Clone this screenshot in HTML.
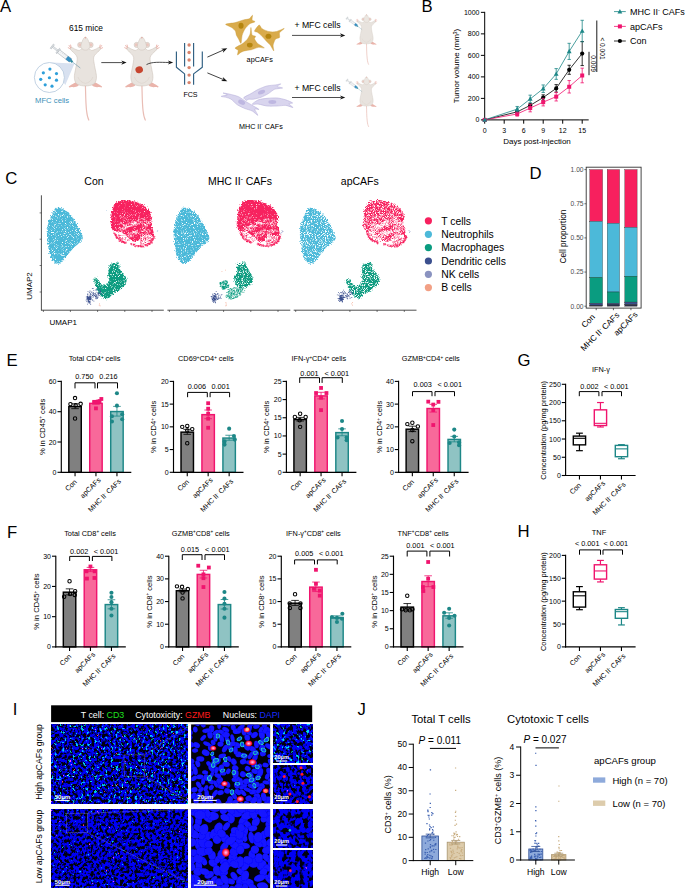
<!DOCTYPE html>
<html><head><meta charset="utf-8"><title>Figure</title>
<style>html,body{margin:0;padding:0;background:#fff}svg{display:block}text{font-family:"Liberation Sans",sans-serif}</style></head>
<body>
<svg width="685" height="888" viewBox="0 0 685 888">
<text x="0" y="12.1" font-size="16.7" text-anchor="start" fill="#000">A</text>
<text x="421.4" y="12.1" font-size="16.7" text-anchor="start" fill="#000">B</text>
<text x="5.3" y="183.6" font-size="16.7" text-anchor="start" fill="#000">C</text>
<text x="529.6" y="179.1" font-size="16.7" text-anchor="start" fill="#000">D</text>
<text x="6.4" y="366.2" font-size="16.7" text-anchor="start" fill="#000">E</text>
<text x="517.6" y="365.6" font-size="16.7" text-anchor="start" fill="#000">G</text>
<text x="6.9" y="537.8" font-size="16.7" text-anchor="start" fill="#000">F</text>
<text x="517.5" y="536.7" font-size="16.7" text-anchor="start" fill="#000">H</text>
<text x="12.8" y="714.7" font-size="16.7" text-anchor="start" fill="#000">I</text>
<text x="357.6" y="714.8" font-size="16.7" text-anchor="start" fill="#000">J</text>
<line x1="484.7" y1="11.85" x2="484.7" y2="120.4" stroke="#000" stroke-width="1"/>
<line x1="484.2" y1="119.9" x2="588.7" y2="119.9" stroke="#000" stroke-width="1"/>
<line x1="480.9" y1="119.9" x2="484.7" y2="119.9" stroke="#000" stroke-width="1"/>
<text x="479.5" y="122.4" font-size="7" text-anchor="end" fill="#000">0</text>
<line x1="480.9" y1="98.39" x2="484.7" y2="98.39" stroke="#000" stroke-width="1"/>
<text x="479.5" y="100.89" font-size="7" text-anchor="end" fill="#000">200</text>
<line x1="480.9" y1="76.88" x2="484.7" y2="76.88" stroke="#000" stroke-width="1"/>
<text x="479.5" y="79.38" font-size="7" text-anchor="end" fill="#000">400</text>
<line x1="480.9" y1="55.37" x2="484.7" y2="55.37" stroke="#000" stroke-width="1"/>
<text x="479.5" y="57.87" font-size="7" text-anchor="end" fill="#000">600</text>
<line x1="480.9" y1="33.86" x2="484.7" y2="33.86" stroke="#000" stroke-width="1"/>
<text x="479.5" y="36.36" font-size="7" text-anchor="end" fill="#000">800</text>
<line x1="480.9" y1="12.35" x2="484.7" y2="12.35" stroke="#000" stroke-width="1"/>
<text x="479.5" y="14.85" font-size="7" text-anchor="end" fill="#000">1000</text>
<line x1="484.7" y1="119.9" x2="484.7" y2="123.7" stroke="#000" stroke-width="1"/>
<text x="484.7" y="132.5" font-size="7" text-anchor="middle" fill="#000">0</text>
<line x1="504.2" y1="119.9" x2="504.2" y2="123.7" stroke="#000" stroke-width="1"/>
<text x="504.2" y="132.5" font-size="7" text-anchor="middle" fill="#000">3</text>
<line x1="523.7" y1="119.9" x2="523.7" y2="123.7" stroke="#000" stroke-width="1"/>
<text x="523.7" y="132.5" font-size="7" text-anchor="middle" fill="#000">6</text>
<line x1="543.2" y1="119.9" x2="543.2" y2="123.7" stroke="#000" stroke-width="1"/>
<text x="543.2" y="132.5" font-size="7" text-anchor="middle" fill="#000">9</text>
<line x1="562.7" y1="119.9" x2="562.7" y2="123.7" stroke="#000" stroke-width="1"/>
<text x="562.7" y="132.5" font-size="7" text-anchor="middle" fill="#000">12</text>
<line x1="582.2" y1="119.9" x2="582.2" y2="123.7" stroke="#000" stroke-width="1"/>
<text x="582.2" y="132.5" font-size="7" text-anchor="middle" fill="#000">15</text>
<text x="537" y="144.4" font-size="8" text-anchor="middle" fill="#000">Days post-injection</text>
<text x="459.3" y="66" font-size="8" text-anchor="middle" fill="#000" transform="rotate(-90 459.3 66)">Tumor volume (mm<tspan dy="-2.64" font-size="4.96">3</tspan><tspan dy="2.64">)</tspan></text>
<line x1="517.2" y1="113.12" x2="517.2" y2="110.54" stroke="#000" stroke-width="0.8"/>
<line x1="515.5" y1="110.54" x2="518.9" y2="110.54" stroke="#000" stroke-width="0.8"/>
<line x1="515.5" y1="113.12" x2="518.9" y2="113.12" stroke="#000" stroke-width="0.8"/>
<line x1="530.2" y1="106.99" x2="530.2" y2="103.77" stroke="#000" stroke-width="0.8"/>
<line x1="528.5" y1="103.77" x2="531.9" y2="103.77" stroke="#000" stroke-width="0.8"/>
<line x1="528.5" y1="106.99" x2="531.9" y2="106.99" stroke="#000" stroke-width="0.8"/>
<line x1="543.2" y1="100.22" x2="543.2" y2="94.84" stroke="#000" stroke-width="0.8"/>
<line x1="541.5" y1="94.84" x2="544.9" y2="94.84" stroke="#000" stroke-width="0.8"/>
<line x1="541.5" y1="100.22" x2="544.9" y2="100.22" stroke="#000" stroke-width="0.8"/>
<line x1="556.2" y1="92.15" x2="556.2" y2="84.62" stroke="#000" stroke-width="0.8"/>
<line x1="554.5" y1="84.62" x2="557.9" y2="84.62" stroke="#000" stroke-width="0.8"/>
<line x1="554.5" y1="92.15" x2="557.9" y2="92.15" stroke="#000" stroke-width="0.8"/>
<line x1="569.2" y1="74.3" x2="569.2" y2="65.26" stroke="#000" stroke-width="0.8"/>
<line x1="567.5" y1="65.26" x2="570.9" y2="65.26" stroke="#000" stroke-width="0.8"/>
<line x1="567.5" y1="74.3" x2="570.9" y2="74.3" stroke="#000" stroke-width="0.8"/>
<line x1="582.2" y1="65.59" x2="582.2" y2="41.5" stroke="#000" stroke-width="0.8"/>
<line x1="580.5" y1="41.5" x2="583.9" y2="41.5" stroke="#000" stroke-width="0.8"/>
<line x1="580.5" y1="65.59" x2="583.9" y2="65.59" stroke="#000" stroke-width="0.8"/>
<polyline points="484.7,119.9 517.2,111.83 530.2,105.38 543.2,97.53 556.2,88.39 569.2,69.78 582.2,53.54" fill="none" stroke="#000" stroke-width="0.8"/>
<circle cx="484.7" cy="119.9" r="2.1" fill="#000" stroke="none" stroke-width="1"/>
<circle cx="517.2" cy="111.83" r="2.1" fill="#000" stroke="none" stroke-width="1"/>
<circle cx="530.2" cy="105.38" r="2.1" fill="#000" stroke="none" stroke-width="1"/>
<circle cx="543.2" cy="97.53" r="2.1" fill="#000" stroke="none" stroke-width="1"/>
<circle cx="556.2" cy="88.39" r="2.1" fill="#000" stroke="none" stroke-width="1"/>
<circle cx="569.2" cy="69.78" r="2.1" fill="#000" stroke="none" stroke-width="1"/>
<circle cx="582.2" cy="53.54" r="2.1" fill="#000" stroke="none" stroke-width="1"/>
<line x1="517.2" y1="116.14" x2="517.2" y2="111.83" stroke="#f0146e" stroke-width="0.8"/>
<line x1="515.5" y1="111.83" x2="518.9" y2="111.83" stroke="#f0146e" stroke-width="0.8"/>
<line x1="515.5" y1="116.14" x2="518.9" y2="116.14" stroke="#f0146e" stroke-width="0.8"/>
<line x1="530.2" y1="111.83" x2="530.2" y2="104.31" stroke="#f0146e" stroke-width="0.8"/>
<line x1="528.5" y1="104.31" x2="531.9" y2="104.31" stroke="#f0146e" stroke-width="0.8"/>
<line x1="528.5" y1="111.83" x2="531.9" y2="111.83" stroke="#f0146e" stroke-width="0.8"/>
<line x1="543.2" y1="105.92" x2="543.2" y2="98.39" stroke="#f0146e" stroke-width="0.8"/>
<line x1="541.5" y1="98.39" x2="544.9" y2="98.39" stroke="#f0146e" stroke-width="0.8"/>
<line x1="541.5" y1="105.92" x2="544.9" y2="105.92" stroke="#f0146e" stroke-width="0.8"/>
<line x1="556.2" y1="100.97" x2="556.2" y2="92.37" stroke="#f0146e" stroke-width="0.8"/>
<line x1="554.5" y1="92.37" x2="557.9" y2="92.37" stroke="#f0146e" stroke-width="0.8"/>
<line x1="554.5" y1="100.97" x2="557.9" y2="100.97" stroke="#f0146e" stroke-width="0.8"/>
<line x1="569.2" y1="93.01" x2="569.2" y2="80.54" stroke="#f0146e" stroke-width="0.8"/>
<line x1="567.5" y1="80.54" x2="570.9" y2="80.54" stroke="#f0146e" stroke-width="0.8"/>
<line x1="567.5" y1="93.01" x2="570.9" y2="93.01" stroke="#f0146e" stroke-width="0.8"/>
<line x1="582.2" y1="82.8" x2="582.2" y2="68.17" stroke="#f0146e" stroke-width="0.8"/>
<line x1="580.5" y1="68.17" x2="583.9" y2="68.17" stroke="#f0146e" stroke-width="0.8"/>
<line x1="580.5" y1="82.8" x2="583.9" y2="82.8" stroke="#f0146e" stroke-width="0.8"/>
<polyline points="484.7,119.9 517.2,113.98 530.2,108.07 543.2,102.15 556.2,96.67 569.2,86.77 582.2,75.48" fill="none" stroke="#f0146e" stroke-width="0.8"/>
<rect x="482.7" y="117.9" width="4" height="4" fill="#f0146e" stroke="none" stroke-width="1"/>
<rect x="515.2" y="111.98" width="4" height="4" fill="#f0146e" stroke="none" stroke-width="1"/>
<rect x="528.2" y="106.07" width="4" height="4" fill="#f0146e" stroke="none" stroke-width="1"/>
<rect x="541.2" y="100.15" width="4" height="4" fill="#f0146e" stroke="none" stroke-width="1"/>
<rect x="554.2" y="94.67" width="4" height="4" fill="#f0146e" stroke="none" stroke-width="1"/>
<rect x="567.2" y="84.77" width="4" height="4" fill="#f0146e" stroke="none" stroke-width="1"/>
<rect x="580.2" y="73.48" width="4" height="4" fill="#f0146e" stroke="none" stroke-width="1"/>
<line x1="517.2" y1="111.83" x2="517.2" y2="106.46" stroke="#1d8787" stroke-width="0.8"/>
<line x1="515.5" y1="106.46" x2="518.9" y2="106.46" stroke="#1d8787" stroke-width="0.8"/>
<line x1="515.5" y1="111.83" x2="518.9" y2="111.83" stroke="#1d8787" stroke-width="0.8"/>
<line x1="530.2" y1="102.69" x2="530.2" y2="95.16" stroke="#1d8787" stroke-width="0.8"/>
<line x1="528.5" y1="95.16" x2="531.9" y2="95.16" stroke="#1d8787" stroke-width="0.8"/>
<line x1="528.5" y1="102.69" x2="531.9" y2="102.69" stroke="#1d8787" stroke-width="0.8"/>
<line x1="543.2" y1="92.47" x2="543.2" y2="84.95" stroke="#1d8787" stroke-width="0.8"/>
<line x1="541.5" y1="84.95" x2="544.9" y2="84.95" stroke="#1d8787" stroke-width="0.8"/>
<line x1="541.5" y1="92.47" x2="544.9" y2="92.47" stroke="#1d8787" stroke-width="0.8"/>
<line x1="556.2" y1="79.35" x2="556.2" y2="68.6" stroke="#1d8787" stroke-width="0.8"/>
<line x1="554.5" y1="68.6" x2="557.9" y2="68.6" stroke="#1d8787" stroke-width="0.8"/>
<line x1="554.5" y1="79.35" x2="557.9" y2="79.35" stroke="#1d8787" stroke-width="0.8"/>
<line x1="569.2" y1="59.46" x2="569.2" y2="43.32" stroke="#1d8787" stroke-width="0.8"/>
<line x1="567.5" y1="43.32" x2="570.9" y2="43.32" stroke="#1d8787" stroke-width="0.8"/>
<line x1="567.5" y1="59.46" x2="570.9" y2="59.46" stroke="#1d8787" stroke-width="0.8"/>
<line x1="582.2" y1="41.82" x2="582.2" y2="20.31" stroke="#1d8787" stroke-width="0.8"/>
<line x1="580.5" y1="20.31" x2="583.9" y2="20.31" stroke="#1d8787" stroke-width="0.8"/>
<line x1="580.5" y1="41.82" x2="583.9" y2="41.82" stroke="#1d8787" stroke-width="0.8"/>
<polyline points="484.7,119.9 517.2,109.15 530.2,98.93 543.2,88.71 556.2,73.98 569.2,51.39 582.2,31.06" fill="none" stroke="#1d8787" stroke-width="0.8"/>
<path d="M484.7 117.3L487.1 121.7L482.3 121.7Z" fill="#1d8787" stroke="none" stroke-width="1"/>
<path d="M517.2 106.55L519.6 110.95L514.8 110.95Z" fill="#1d8787" stroke="none" stroke-width="1"/>
<path d="M530.2 96.33L532.6 100.73L527.8 100.73Z" fill="#1d8787" stroke="none" stroke-width="1"/>
<path d="M543.2 86.11L545.6 90.51L540.8 90.51Z" fill="#1d8787" stroke="none" stroke-width="1"/>
<path d="M556.2 71.38L558.6 75.78L553.8 75.78Z" fill="#1d8787" stroke="none" stroke-width="1"/>
<path d="M569.2 48.79L571.6 53.19L566.8 53.19Z" fill="#1d8787" stroke="none" stroke-width="1"/>
<path d="M582.2 28.46L584.6 32.86L579.8 32.86Z" fill="#1d8787" stroke="none" stroke-width="1"/>
<line x1="614" y1="11.6" x2="625.8" y2="11.6" stroke="#1d8787" stroke-width="0.8"/>
<path d="M619.9 9L622.3 13.4L617.5 13.4Z" fill="#1d8787" stroke="none" stroke-width="1"/>
<text x="630" y="14.8" font-size="9" text-anchor="start" fill="#000">MHC II<tspan dy="-2.97" font-size="5.58">-</tspan><tspan dy="2.97"> CAFs</tspan></text>
<line x1="614" y1="26.4" x2="625.8" y2="26.4" stroke="#f0146e" stroke-width="0.8"/>
<rect x="617.9" y="24.4" width="4" height="4" fill="#f0146e" stroke="none" stroke-width="1"/>
<text x="630" y="29.6" font-size="9" text-anchor="start" fill="#000">apCAFs</text>
<line x1="614" y1="41" x2="625.8" y2="41" stroke="#000" stroke-width="0.8"/>
<circle cx="619.9" cy="41" r="2.1" fill="#000" stroke="none" stroke-width="1"/>
<text x="630" y="44.2" font-size="9" text-anchor="start" fill="#000">Con</text>
<line x1="596.8" y1="20.5" x2="596.8" y2="72" stroke="#000" stroke-width="0.9"/>
<text x="600" y="48.5" font-size="6.6" text-anchor="middle" fill="#000" transform="rotate(90 600 48.5)">&lt; 0.001</text>
<line x1="589" y1="51.8" x2="589" y2="75.2" stroke="#000" stroke-width="0.9"/>
<text x="590.9" y="63.6" font-size="6.6" text-anchor="middle" fill="#000" transform="rotate(90 590.9 63.6)">0.009</text>
<rect x="68.82" y="406.55" width="12.45" height="65.75" fill="#808080" stroke="#000" stroke-width="1.45"/>
<line x1="75.05" y1="408.67" x2="75.05" y2="403.82" stroke="#000" stroke-width="0.8"/>
<line x1="71.25" y1="403.82" x2="78.85" y2="403.82" stroke="#000" stroke-width="0.8"/>
<line x1="71.25" y1="408.67" x2="78.85" y2="408.67" stroke="#000" stroke-width="0.8"/>
<rect x="89.72" y="403.36" width="12.45" height="68.94" fill="#f8699a" stroke="#f0146e" stroke-width="1.45"/>
<line x1="95.95" y1="404.28" x2="95.95" y2="401.85" stroke="#f0146e" stroke-width="0.8"/>
<line x1="92.15" y1="401.85" x2="99.75" y2="401.85" stroke="#f0146e" stroke-width="0.8"/>
<line x1="92.15" y1="404.28" x2="99.75" y2="404.28" stroke="#f0146e" stroke-width="0.8"/>
<rect x="110.72" y="411.55" width="12.45" height="60.75" fill="#8fc3c3" stroke="#1d8787" stroke-width="1.45"/>
<line x1="116.95" y1="416.09" x2="116.95" y2="406.4" stroke="#1d8787" stroke-width="0.8"/>
<line x1="113.15" y1="406.4" x2="120.75" y2="406.4" stroke="#1d8787" stroke-width="0.8"/>
<line x1="113.15" y1="416.09" x2="120.75" y2="416.09" stroke="#1d8787" stroke-width="0.8"/>
<circle cx="75.05" cy="398.06" r="1.7" fill="none" stroke="#000" stroke-width="1.05"/>
<circle cx="70.45" cy="404.12" r="1.7" fill="none" stroke="#000" stroke-width="1.05"/>
<circle cx="75.65" cy="405.34" r="1.7" fill="none" stroke="#000" stroke-width="1.05"/>
<circle cx="80.65" cy="403.82" r="1.7" fill="none" stroke="#000" stroke-width="1.05"/>
<circle cx="75.05" cy="418.52" r="1.7" fill="none" stroke="#000" stroke-width="1.05"/>
<rect x="99.45" y="397.07" width="3.8" height="3.8" fill="#f0146e" stroke="none" stroke-width="1"/>
<rect x="95.85" y="399.65" width="3.8" height="3.8" fill="#f0146e" stroke="none" stroke-width="1"/>
<rect x="92.25" y="399.95" width="3.8" height="3.8" fill="#f0146e" stroke="none" stroke-width="1"/>
<rect x="94.05" y="406.47" width="3.8" height="3.8" fill="#f0146e" stroke="none" stroke-width="1"/>
<rect x="97.65" y="399.19" width="3.8" height="3.8" fill="#f0146e" stroke="none" stroke-width="1"/>
<circle cx="116.95" cy="393.22" r="2.05" fill="#1d8787" stroke="none" stroke-width="1"/>
<circle cx="116.95" cy="405.64" r="2.05" fill="#1d8787" stroke="none" stroke-width="1"/>
<circle cx="111.95" cy="416.25" r="2.05" fill="#1d8787" stroke="none" stroke-width="1"/>
<circle cx="122.15" cy="414.28" r="2.05" fill="#1d8787" stroke="none" stroke-width="1"/>
<circle cx="111.95" cy="421.55" r="2.05" fill="#1d8787" stroke="none" stroke-width="1"/>
<circle cx="122.15" cy="419.27" r="2.05" fill="#1d8787" stroke="none" stroke-width="1"/>
<line x1="61.3" y1="380.85" x2="61.3" y2="472.85" stroke="#000" stroke-width="1.15"/>
<line x1="60.75" y1="472.3" x2="131.3" y2="472.3" stroke="#000" stroke-width="1.15"/>
<line x1="57.5" y1="472.3" x2="61.3" y2="472.3" stroke="#000" stroke-width="1.1"/>
<text x="56.5" y="474.8" font-size="7" text-anchor="end" fill="#000">0</text>
<line x1="57.5" y1="442" x2="61.3" y2="442" stroke="#000" stroke-width="1.1"/>
<text x="56.5" y="444.5" font-size="7" text-anchor="end" fill="#000">20</text>
<line x1="57.5" y1="411.7" x2="61.3" y2="411.7" stroke="#000" stroke-width="1.1"/>
<text x="56.5" y="414.2" font-size="7" text-anchor="end" fill="#000">40</text>
<line x1="57.5" y1="381.4" x2="61.3" y2="381.4" stroke="#000" stroke-width="1.1"/>
<text x="56.5" y="383.9" font-size="7" text-anchor="end" fill="#000">60</text>
<line x1="75.05" y1="472.3" x2="75.05" y2="476.3" stroke="#000" stroke-width="1.1"/>
<line x1="95.95" y1="472.3" x2="95.95" y2="476.3" stroke="#000" stroke-width="1.1"/>
<line x1="116.95" y1="472.3" x2="116.95" y2="476.3" stroke="#000" stroke-width="1.1"/>
<text x="77.25" y="482.4" font-size="7.1" text-anchor="end" fill="#000" transform="rotate(-45 77.25 482.4)">Con</text>
<text x="101.15" y="480.5" font-size="7.1" text-anchor="end" fill="#000" transform="rotate(-45 101.15 480.5)">apCAFs</text>
<text x="121.65" y="481.8" font-size="7.1" text-anchor="end" fill="#000" transform="rotate(-45 121.65 481.8)">MHC II<tspan dy="-2.34" font-size="4.4">-</tspan><tspan dy="2.34"> CAFs</tspan></text>
<text x="94.5" y="361.3" font-size="7.35" text-anchor="middle" fill="#000">Total CD4<tspan dy="-2.43" font-size="4.56">+</tspan><tspan dy="2.43"> cells</tspan></text>
<text x="44.8" y="426.85" font-size="7.6" text-anchor="middle" fill="#000" transform="rotate(-90 44.8 426.85)">% in CD45<tspan dy="-2.51" font-size="4.71">+</tspan><tspan dy="2.51"> cells</tspan></text>
<path d="M75 388.4V382.8H95V388.4" fill="none" stroke="#000" stroke-width="1"/>
<path d="M97.5 388.4V382.8H117.5V388.4" fill="none" stroke="#000" stroke-width="1"/>
<text x="84.4" y="378.7" font-size="7.3" text-anchor="middle" fill="#000">0.750</text>
<text x="108.5" y="378.7" font-size="7.3" text-anchor="middle" fill="#000">0.216</text>
<rect x="181.02" y="432.15" width="12.45" height="40.15" fill="#808080" stroke="#000" stroke-width="1.45"/>
<line x1="187.25" y1="434.35" x2="187.25" y2="429.35" stroke="#000" stroke-width="0.8"/>
<line x1="183.45" y1="429.35" x2="191.05" y2="429.35" stroke="#000" stroke-width="0.8"/>
<line x1="183.45" y1="434.35" x2="191.05" y2="434.35" stroke="#000" stroke-width="0.8"/>
<rect x="201.92" y="414.65" width="12.45" height="57.65" fill="#f8699a" stroke="#f0146e" stroke-width="1.45"/>
<line x1="208.15" y1="418.67" x2="208.15" y2="410.03" stroke="#f0146e" stroke-width="0.8"/>
<line x1="204.35" y1="410.03" x2="211.95" y2="410.03" stroke="#f0146e" stroke-width="0.8"/>
<line x1="204.35" y1="418.67" x2="211.95" y2="418.67" stroke="#f0146e" stroke-width="0.8"/>
<rect x="222.92" y="438.06" width="12.45" height="34.24" fill="#8fc3c3" stroke="#1d8787" stroke-width="1.45"/>
<line x1="229.15" y1="440.26" x2="229.15" y2="435.26" stroke="#1d8787" stroke-width="0.8"/>
<line x1="225.35" y1="435.26" x2="232.95" y2="435.26" stroke="#1d8787" stroke-width="0.8"/>
<line x1="225.35" y1="440.26" x2="232.95" y2="440.26" stroke="#1d8787" stroke-width="0.8"/>
<circle cx="182.25" cy="426.85" r="1.7" fill="none" stroke="#000" stroke-width="1.05"/>
<circle cx="187.25" cy="425.94" r="1.7" fill="none" stroke="#000" stroke-width="1.05"/>
<circle cx="192.25" cy="429.12" r="1.7" fill="none" stroke="#000" stroke-width="1.05"/>
<circle cx="187.25" cy="430.49" r="1.7" fill="none" stroke="#000" stroke-width="1.05"/>
<circle cx="187.25" cy="443.21" r="1.7" fill="none" stroke="#000" stroke-width="1.05"/>
<rect x="206.25" y="401.32" width="3.8" height="3.8" fill="#f0146e" stroke="none" stroke-width="1"/>
<rect x="206.25" y="406.77" width="3.8" height="3.8" fill="#f0146e" stroke="none" stroke-width="1"/>
<rect x="206.25" y="411.77" width="3.8" height="3.8" fill="#f0146e" stroke="none" stroke-width="1"/>
<rect x="206.25" y="416.77" width="3.8" height="3.8" fill="#f0146e" stroke="none" stroke-width="1"/>
<rect x="206.25" y="425.86" width="3.8" height="3.8" fill="#f0146e" stroke="none" stroke-width="1"/>
<circle cx="229.15" cy="428.67" r="2.05" fill="#1d8787" stroke="none" stroke-width="1"/>
<circle cx="233.95" cy="435.94" r="2.05" fill="#1d8787" stroke="none" stroke-width="1"/>
<circle cx="234.75" cy="439.58" r="2.05" fill="#1d8787" stroke="none" stroke-width="1"/>
<circle cx="224.55" cy="441.39" r="2.05" fill="#1d8787" stroke="none" stroke-width="1"/>
<circle cx="224.55" cy="444.58" r="2.05" fill="#1d8787" stroke="none" stroke-width="1"/>
<line x1="173.5" y1="380.85" x2="173.5" y2="472.85" stroke="#000" stroke-width="1.15"/>
<line x1="172.95" y1="472.3" x2="243.5" y2="472.3" stroke="#000" stroke-width="1.15"/>
<line x1="169.7" y1="472.3" x2="173.5" y2="472.3" stroke="#000" stroke-width="1.1"/>
<text x="168.7" y="474.8" font-size="7" text-anchor="end" fill="#000">0</text>
<line x1="169.7" y1="449.57" x2="173.5" y2="449.57" stroke="#000" stroke-width="1.1"/>
<text x="168.7" y="452.07" font-size="7" text-anchor="end" fill="#000">5</text>
<line x1="169.7" y1="426.85" x2="173.5" y2="426.85" stroke="#000" stroke-width="1.1"/>
<text x="168.7" y="429.35" font-size="7" text-anchor="end" fill="#000">10</text>
<line x1="169.7" y1="404.12" x2="173.5" y2="404.12" stroke="#000" stroke-width="1.1"/>
<text x="168.7" y="406.62" font-size="7" text-anchor="end" fill="#000">15</text>
<line x1="169.7" y1="381.4" x2="173.5" y2="381.4" stroke="#000" stroke-width="1.1"/>
<text x="168.7" y="383.9" font-size="7" text-anchor="end" fill="#000">20</text>
<line x1="187.25" y1="472.3" x2="187.25" y2="476.3" stroke="#000" stroke-width="1.1"/>
<line x1="208.15" y1="472.3" x2="208.15" y2="476.3" stroke="#000" stroke-width="1.1"/>
<line x1="229.15" y1="472.3" x2="229.15" y2="476.3" stroke="#000" stroke-width="1.1"/>
<text x="189.45" y="482.4" font-size="7.1" text-anchor="end" fill="#000" transform="rotate(-45 189.45 482.4)">Con</text>
<text x="213.35" y="480.5" font-size="7.1" text-anchor="end" fill="#000" transform="rotate(-45 213.35 480.5)">apCAFs</text>
<text x="233.85" y="481.8" font-size="7.1" text-anchor="end" fill="#000" transform="rotate(-45 233.85 481.8)">MHC II<tspan dy="-2.34" font-size="4.4">-</tspan><tspan dy="2.34"> CAFs</tspan></text>
<text x="205.8" y="361.3" font-size="7.35" text-anchor="middle" fill="#000">CD69<tspan dy="-2.43" font-size="4.56">+</tspan><tspan dy="2.43">CD4</tspan><tspan dy="-2.43" font-size="4.56">+</tspan><tspan dy="2.43"> cells</tspan></text>
<text x="156.4" y="426.85" font-size="7.6" text-anchor="middle" fill="#000" transform="rotate(-90 156.4 426.85)">% in CD4<tspan dy="-2.51" font-size="4.71">+</tspan><tspan dy="2.51"> cells</tspan></text>
<path d="M187.6 397.2V392.4H207.3V397.2" fill="none" stroke="#000" stroke-width="1"/>
<path d="M210.1 397.2V392.4H229.6V397.2" fill="none" stroke="#000" stroke-width="1"/>
<text x="196.9" y="389.3" font-size="7.3" text-anchor="middle" fill="#000">0.006</text>
<text x="220.6" y="389.3" font-size="7.3" text-anchor="middle" fill="#000">0.001</text>
<rect x="293.92" y="419.51" width="12.45" height="52.79" fill="#808080" stroke="#000" stroke-width="1.45"/>
<line x1="300.15" y1="421.03" x2="300.15" y2="417.4" stroke="#000" stroke-width="0.8"/>
<line x1="296.35" y1="417.4" x2="303.95" y2="417.4" stroke="#000" stroke-width="0.8"/>
<line x1="296.35" y1="421.03" x2="303.95" y2="421.03" stroke="#000" stroke-width="0.8"/>
<rect x="314.82" y="395.88" width="12.45" height="76.42" fill="#f8699a" stroke="#f0146e" stroke-width="1.45"/>
<line x1="321.05" y1="398.85" x2="321.05" y2="392.31" stroke="#f0146e" stroke-width="0.8"/>
<line x1="317.25" y1="392.31" x2="324.85" y2="392.31" stroke="#f0146e" stroke-width="0.8"/>
<line x1="317.25" y1="398.85" x2="324.85" y2="398.85" stroke="#f0146e" stroke-width="0.8"/>
<rect x="335.82" y="432.6" width="12.45" height="39.7" fill="#8fc3c3" stroke="#1d8787" stroke-width="1.45"/>
<line x1="342.05" y1="435.76" x2="342.05" y2="428.85" stroke="#1d8787" stroke-width="0.8"/>
<line x1="338.25" y1="428.85" x2="345.85" y2="428.85" stroke="#1d8787" stroke-width="0.8"/>
<line x1="338.25" y1="435.76" x2="345.85" y2="435.76" stroke="#1d8787" stroke-width="0.8"/>
<circle cx="294.85" cy="417.03" r="1.7" fill="none" stroke="#000" stroke-width="1.05"/>
<circle cx="300.15" cy="413.76" r="1.7" fill="none" stroke="#000" stroke-width="1.05"/>
<circle cx="305.65" cy="417.03" r="1.7" fill="none" stroke="#000" stroke-width="1.05"/>
<circle cx="299.65" cy="420.31" r="1.7" fill="none" stroke="#000" stroke-width="1.05"/>
<circle cx="300.15" cy="426.85" r="1.7" fill="none" stroke="#000" stroke-width="1.05"/>
<rect x="319.15" y="386.04" width="3.8" height="3.8" fill="#f0146e" stroke="none" stroke-width="1"/>
<rect x="314.15" y="391.14" width="3.8" height="3.8" fill="#f0146e" stroke="none" stroke-width="1"/>
<rect x="324.55" y="391.14" width="3.8" height="3.8" fill="#f0146e" stroke="none" stroke-width="1"/>
<rect x="319.15" y="395.86" width="3.8" height="3.8" fill="#f0146e" stroke="none" stroke-width="1"/>
<rect x="319.15" y="408.22" width="3.8" height="3.8" fill="#f0146e" stroke="none" stroke-width="1"/>
<circle cx="342.05" cy="421.03" r="2.05" fill="#1d8787" stroke="none" stroke-width="1"/>
<circle cx="342.05" cy="429.03" r="2.05" fill="#1d8787" stroke="none" stroke-width="1"/>
<circle cx="337.55" cy="437.39" r="2.05" fill="#1d8787" stroke="none" stroke-width="1"/>
<circle cx="346.65" cy="437.39" r="2.05" fill="#1d8787" stroke="none" stroke-width="1"/>
<circle cx="346.65" cy="440.3" r="2.05" fill="#1d8787" stroke="none" stroke-width="1"/>
<line x1="286.4" y1="380.85" x2="286.4" y2="472.85" stroke="#000" stroke-width="1.15"/>
<line x1="285.85" y1="472.3" x2="356.4" y2="472.3" stroke="#000" stroke-width="1.15"/>
<line x1="282.6" y1="472.3" x2="286.4" y2="472.3" stroke="#000" stroke-width="1.1"/>
<text x="281.6" y="474.8" font-size="7" text-anchor="end" fill="#000">0</text>
<line x1="282.6" y1="454.12" x2="286.4" y2="454.12" stroke="#000" stroke-width="1.1"/>
<text x="281.6" y="456.62" font-size="7" text-anchor="end" fill="#000">5</text>
<line x1="282.6" y1="435.94" x2="286.4" y2="435.94" stroke="#000" stroke-width="1.1"/>
<text x="281.6" y="438.44" font-size="7" text-anchor="end" fill="#000">10</text>
<line x1="282.6" y1="417.76" x2="286.4" y2="417.76" stroke="#000" stroke-width="1.1"/>
<text x="281.6" y="420.26" font-size="7" text-anchor="end" fill="#000">15</text>
<line x1="282.6" y1="399.58" x2="286.4" y2="399.58" stroke="#000" stroke-width="1.1"/>
<text x="281.6" y="402.08" font-size="7" text-anchor="end" fill="#000">20</text>
<line x1="282.6" y1="381.4" x2="286.4" y2="381.4" stroke="#000" stroke-width="1.1"/>
<text x="281.6" y="383.9" font-size="7" text-anchor="end" fill="#000">25</text>
<line x1="300.15" y1="472.3" x2="300.15" y2="476.3" stroke="#000" stroke-width="1.1"/>
<line x1="321.05" y1="472.3" x2="321.05" y2="476.3" stroke="#000" stroke-width="1.1"/>
<line x1="342.05" y1="472.3" x2="342.05" y2="476.3" stroke="#000" stroke-width="1.1"/>
<text x="302.35" y="482.4" font-size="7.1" text-anchor="end" fill="#000" transform="rotate(-45 302.35 482.4)">Con</text>
<text x="326.25" y="480.5" font-size="7.1" text-anchor="end" fill="#000" transform="rotate(-45 326.25 480.5)">apCAFs</text>
<text x="346.75" y="481.8" font-size="7.1" text-anchor="end" fill="#000" transform="rotate(-45 346.75 481.8)">MHC II<tspan dy="-2.34" font-size="4.4">-</tspan><tspan dy="2.34"> CAFs</tspan></text>
<text x="318.8" y="361.3" font-size="7.35" text-anchor="middle" fill="#000">IFN-&#947;<tspan dy="-2.43" font-size="4.56">+</tspan><tspan dy="2.43">CD4</tspan><tspan dy="-2.43" font-size="4.56">+</tspan><tspan dy="2.43"> cells</tspan></text>
<text x="269.2" y="426.85" font-size="7.6" text-anchor="middle" fill="#000" transform="rotate(-90 269.2 426.85)">% in CD4<tspan dy="-2.51" font-size="4.71">+</tspan><tspan dy="2.51"> cells</tspan></text>
<path d="M299.7 382.9V377.7H319.5V382.9" fill="none" stroke="#000" stroke-width="1"/>
<path d="M322.1 382.9V377.7H342.3V382.9" fill="none" stroke="#000" stroke-width="1"/>
<text x="309.5" y="376" font-size="7.3" text-anchor="middle" fill="#000">0.001</text>
<text x="336.8" y="376" font-size="7.3" text-anchor="middle" fill="#000">&lt; 0.001</text>
<rect x="406.12" y="429.2" width="12.45" height="43.1" fill="#808080" stroke="#000" stroke-width="1.45"/>
<line x1="412.35" y1="431.62" x2="412.35" y2="426.17" stroke="#000" stroke-width="0.8"/>
<line x1="408.55" y1="426.17" x2="416.15" y2="426.17" stroke="#000" stroke-width="0.8"/>
<line x1="408.55" y1="431.62" x2="416.15" y2="431.62" stroke="#000" stroke-width="0.8"/>
<rect x="427.02" y="408.52" width="12.45" height="63.78" fill="#f8699a" stroke="#f0146e" stroke-width="1.45"/>
<line x1="433.25" y1="412.08" x2="433.25" y2="404.35" stroke="#f0146e" stroke-width="0.8"/>
<line x1="429.45" y1="404.35" x2="437.05" y2="404.35" stroke="#f0146e" stroke-width="0.8"/>
<line x1="429.45" y1="412.08" x2="437.05" y2="412.08" stroke="#f0146e" stroke-width="0.8"/>
<rect x="448.02" y="439.42" width="12.45" height="32.88" fill="#8fc3c3" stroke="#1d8787" stroke-width="1.45"/>
<line x1="454.25" y1="441.85" x2="454.25" y2="436.39" stroke="#1d8787" stroke-width="0.8"/>
<line x1="450.45" y1="436.39" x2="458.05" y2="436.39" stroke="#1d8787" stroke-width="0.8"/>
<line x1="450.45" y1="441.85" x2="458.05" y2="441.85" stroke="#1d8787" stroke-width="0.8"/>
<circle cx="407.35" cy="424.12" r="1.7" fill="none" stroke="#000" stroke-width="1.05"/>
<circle cx="412.35" cy="422.76" r="1.7" fill="none" stroke="#000" stroke-width="1.05"/>
<circle cx="417.85" cy="426.4" r="1.7" fill="none" stroke="#000" stroke-width="1.05"/>
<circle cx="412.35" cy="430.03" r="1.7" fill="none" stroke="#000" stroke-width="1.05"/>
<circle cx="412.35" cy="441.17" r="1.7" fill="none" stroke="#000" stroke-width="1.05"/>
<rect x="426.35" y="399.73" width="3.8" height="3.8" fill="#f0146e" stroke="none" stroke-width="1"/>
<rect x="436.55" y="399.95" width="3.8" height="3.8" fill="#f0146e" stroke="none" stroke-width="1"/>
<rect x="431.35" y="402.68" width="3.8" height="3.8" fill="#f0146e" stroke="none" stroke-width="1"/>
<rect x="431.35" y="408.13" width="3.8" height="3.8" fill="#f0146e" stroke="none" stroke-width="1"/>
<rect x="431.35" y="423.13" width="3.8" height="3.8" fill="#f0146e" stroke="none" stroke-width="1"/>
<circle cx="454.25" cy="429.58" r="2.05" fill="#1d8787" stroke="none" stroke-width="1"/>
<circle cx="454.25" cy="436.62" r="2.05" fill="#1d8787" stroke="none" stroke-width="1"/>
<circle cx="449.65" cy="442.98" r="2.05" fill="#1d8787" stroke="none" stroke-width="1"/>
<circle cx="459.05" cy="442.3" r="2.05" fill="#1d8787" stroke="none" stroke-width="1"/>
<circle cx="459.05" cy="445.26" r="2.05" fill="#1d8787" stroke="none" stroke-width="1"/>
<line x1="398.6" y1="380.85" x2="398.6" y2="472.85" stroke="#000" stroke-width="1.15"/>
<line x1="398.05" y1="472.3" x2="468.6" y2="472.3" stroke="#000" stroke-width="1.15"/>
<line x1="394.8" y1="472.3" x2="398.6" y2="472.3" stroke="#000" stroke-width="1.1"/>
<text x="393.8" y="474.8" font-size="7" text-anchor="end" fill="#000">0</text>
<line x1="394.8" y1="449.57" x2="398.6" y2="449.57" stroke="#000" stroke-width="1.1"/>
<text x="393.8" y="452.07" font-size="7" text-anchor="end" fill="#000">10</text>
<line x1="394.8" y1="426.85" x2="398.6" y2="426.85" stroke="#000" stroke-width="1.1"/>
<text x="393.8" y="429.35" font-size="7" text-anchor="end" fill="#000">20</text>
<line x1="394.8" y1="404.12" x2="398.6" y2="404.12" stroke="#000" stroke-width="1.1"/>
<text x="393.8" y="406.62" font-size="7" text-anchor="end" fill="#000">30</text>
<line x1="394.8" y1="381.4" x2="398.6" y2="381.4" stroke="#000" stroke-width="1.1"/>
<text x="393.8" y="383.9" font-size="7" text-anchor="end" fill="#000">40</text>
<line x1="412.35" y1="472.3" x2="412.35" y2="476.3" stroke="#000" stroke-width="1.1"/>
<line x1="433.25" y1="472.3" x2="433.25" y2="476.3" stroke="#000" stroke-width="1.1"/>
<line x1="454.25" y1="472.3" x2="454.25" y2="476.3" stroke="#000" stroke-width="1.1"/>
<text x="414.55" y="482.4" font-size="7.1" text-anchor="end" fill="#000" transform="rotate(-45 414.55 482.4)">Con</text>
<text x="438.45" y="480.5" font-size="7.1" text-anchor="end" fill="#000" transform="rotate(-45 438.45 480.5)">apCAFs</text>
<text x="458.95" y="481.8" font-size="7.1" text-anchor="end" fill="#000" transform="rotate(-45 458.95 481.8)">MHC II<tspan dy="-2.34" font-size="4.4">-</tspan><tspan dy="2.34"> CAFs</tspan></text>
<text x="430.8" y="361.3" font-size="7.35" text-anchor="middle" fill="#000">GZMB<tspan dy="-2.43" font-size="4.56">+</tspan><tspan dy="2.43">CD4</tspan><tspan dy="-2.43" font-size="4.56">+</tspan><tspan dy="2.43"> cells</tspan></text>
<text x="382.1" y="426.85" font-size="7.6" text-anchor="middle" fill="#000" transform="rotate(-90 382.1 426.85)">% in CD4<tspan dy="-2.51" font-size="4.71">+</tspan><tspan dy="2.51"> cells</tspan></text>
<path d="M412.5 396.2V391.6H432V396.2" fill="none" stroke="#000" stroke-width="1"/>
<path d="M435 396.2V391.6H454.5V396.2" fill="none" stroke="#000" stroke-width="1"/>
<text x="422.7" y="387.4" font-size="7.3" text-anchor="middle" fill="#000">0.003</text>
<text x="449.7" y="387.4" font-size="7.3" text-anchor="middle" fill="#000">&lt; 0.001</text>
<rect x="63.32" y="592.18" width="12.45" height="54.72" fill="#808080" stroke="#000" stroke-width="1.45"/>
<line x1="69.55" y1="594.9" x2="69.55" y2="588.85" stroke="#000" stroke-width="0.8"/>
<line x1="65.75" y1="588.85" x2="73.35" y2="588.85" stroke="#000" stroke-width="0.8"/>
<line x1="65.75" y1="594.9" x2="73.35" y2="594.9" stroke="#000" stroke-width="0.8"/>
<rect x="84.22" y="569.8" width="12.45" height="77.1" fill="#f8699a" stroke="#f0146e" stroke-width="1.45"/>
<line x1="90.45" y1="571.62" x2="90.45" y2="567.39" stroke="#f0146e" stroke-width="0.8"/>
<line x1="86.65" y1="567.39" x2="94.25" y2="567.39" stroke="#f0146e" stroke-width="0.8"/>
<line x1="86.65" y1="571.62" x2="94.25" y2="571.62" stroke="#f0146e" stroke-width="0.8"/>
<rect x="105.22" y="604.57" width="12.45" height="42.33" fill="#8fc3c3" stroke="#1d8787" stroke-width="1.45"/>
<line x1="111.45" y1="608.81" x2="111.45" y2="599.74" stroke="#1d8787" stroke-width="0.8"/>
<line x1="107.65" y1="599.74" x2="115.25" y2="599.74" stroke="#1d8787" stroke-width="0.8"/>
<line x1="107.65" y1="608.81" x2="115.25" y2="608.81" stroke="#1d8787" stroke-width="0.8"/>
<circle cx="69.55" cy="581.29" r="1.7" fill="none" stroke="#000" stroke-width="1.05"/>
<circle cx="75.15" cy="591.27" r="1.7" fill="none" stroke="#000" stroke-width="1.05"/>
<circle cx="64.15" cy="596.71" r="1.7" fill="none" stroke="#000" stroke-width="1.05"/>
<circle cx="70.05" cy="593.99" r="1.7" fill="none" stroke="#000" stroke-width="1.05"/>
<circle cx="74.75" cy="594.9" r="1.7" fill="none" stroke="#000" stroke-width="1.05"/>
<rect x="88.55" y="564.58" width="3.8" height="3.8" fill="#f0146e" stroke="none" stroke-width="1"/>
<rect x="84.55" y="569.42" width="3.8" height="3.8" fill="#f0146e" stroke="none" stroke-width="1"/>
<rect x="92.75" y="569.42" width="3.8" height="3.8" fill="#f0146e" stroke="none" stroke-width="1"/>
<rect x="85.05" y="576.67" width="3.8" height="3.8" fill="#f0146e" stroke="none" stroke-width="1"/>
<rect x="92.55" y="576.07" width="3.8" height="3.8" fill="#f0146e" stroke="none" stroke-width="1"/>
<circle cx="111.45" cy="592.78" r="2.05" fill="#1d8787" stroke="none" stroke-width="1"/>
<circle cx="111.45" cy="597.01" r="2.05" fill="#1d8787" stroke="none" stroke-width="1"/>
<circle cx="111.45" cy="602.15" r="2.05" fill="#1d8787" stroke="none" stroke-width="1"/>
<circle cx="111.45" cy="608.81" r="2.05" fill="#1d8787" stroke="none" stroke-width="1"/>
<circle cx="111.45" cy="615.46" r="2.05" fill="#1d8787" stroke="none" stroke-width="1"/>
<line x1="55.8" y1="555.65" x2="55.8" y2="647.45" stroke="#000" stroke-width="1.15"/>
<line x1="55.25" y1="646.9" x2="125.8" y2="646.9" stroke="#000" stroke-width="1.15"/>
<line x1="52" y1="646.9" x2="55.8" y2="646.9" stroke="#000" stroke-width="1.1"/>
<text x="51" y="649.4" font-size="7" text-anchor="end" fill="#000">0</text>
<line x1="52" y1="616.67" x2="55.8" y2="616.67" stroke="#000" stroke-width="1.1"/>
<text x="51" y="619.17" font-size="7" text-anchor="end" fill="#000">10</text>
<line x1="52" y1="586.43" x2="55.8" y2="586.43" stroke="#000" stroke-width="1.1"/>
<text x="51" y="588.93" font-size="7" text-anchor="end" fill="#000">20</text>
<line x1="52" y1="556.2" x2="55.8" y2="556.2" stroke="#000" stroke-width="1.1"/>
<text x="51" y="558.7" font-size="7" text-anchor="end" fill="#000">30</text>
<line x1="69.55" y1="646.9" x2="69.55" y2="650.9" stroke="#000" stroke-width="1.1"/>
<line x1="90.45" y1="646.9" x2="90.45" y2="650.9" stroke="#000" stroke-width="1.1"/>
<line x1="111.45" y1="646.9" x2="111.45" y2="650.9" stroke="#000" stroke-width="1.1"/>
<text x="71.75" y="657" font-size="7.1" text-anchor="end" fill="#000" transform="rotate(-45 71.75 657)">Con</text>
<text x="95.65" y="655.1" font-size="7.1" text-anchor="end" fill="#000" transform="rotate(-45 95.65 655.1)">apCAFs</text>
<text x="116.15" y="656.4" font-size="7.1" text-anchor="end" fill="#000" transform="rotate(-45 116.15 656.4)">MHC II<tspan dy="-2.34" font-size="4.4">-</tspan><tspan dy="2.34"> CAFs</tspan></text>
<text x="90" y="535.5" font-size="7.35" text-anchor="middle" fill="#000">Total CD8<tspan dy="-2.43" font-size="4.56">+</tspan><tspan dy="2.43"> cells</tspan></text>
<text x="39.3" y="601.55" font-size="7.6" text-anchor="middle" fill="#000" transform="rotate(-90 39.3 601.55)">% in CD45<tspan dy="-2.51" font-size="4.71">+</tspan><tspan dy="2.51"> cells</tspan></text>
<path d="M69.7 561V556.4H89.4V561" fill="none" stroke="#000" stroke-width="1"/>
<path d="M92.4 561V556.4H111.9V561" fill="none" stroke="#000" stroke-width="1"/>
<text x="79.2" y="554.1" font-size="7.3" text-anchor="middle" fill="#000">0.002</text>
<text x="106" y="554.1" font-size="7.3" text-anchor="middle" fill="#000">&lt; 0.001</text>
<rect x="176.32" y="590.74" width="12.45" height="56.16" fill="#808080" stroke="#000" stroke-width="1.45"/>
<line x1="182.55" y1="591.8" x2="182.55" y2="589.08" stroke="#000" stroke-width="0.8"/>
<line x1="178.75" y1="589.08" x2="186.35" y2="589.08" stroke="#000" stroke-width="0.8"/>
<line x1="178.75" y1="591.8" x2="186.35" y2="591.8" stroke="#000" stroke-width="0.8"/>
<rect x="197.22" y="574.41" width="12.45" height="72.49" fill="#f8699a" stroke="#f0146e" stroke-width="1.45"/>
<line x1="203.45" y1="577.97" x2="203.45" y2="570.26" stroke="#f0146e" stroke-width="0.8"/>
<line x1="199.65" y1="570.26" x2="207.25" y2="570.26" stroke="#f0146e" stroke-width="0.8"/>
<line x1="199.65" y1="577.97" x2="207.25" y2="577.97" stroke="#f0146e" stroke-width="0.8"/>
<rect x="218.22" y="604.57" width="12.45" height="42.33" fill="#8fc3c3" stroke="#1d8787" stroke-width="1.45"/>
<line x1="224.45" y1="609.03" x2="224.45" y2="599.51" stroke="#1d8787" stroke-width="0.8"/>
<line x1="220.65" y1="599.51" x2="228.25" y2="599.51" stroke="#1d8787" stroke-width="0.8"/>
<line x1="220.65" y1="609.03" x2="228.25" y2="609.03" stroke="#1d8787" stroke-width="0.8"/>
<circle cx="176.95" cy="586.36" r="1.7" fill="none" stroke="#000" stroke-width="1.05"/>
<circle cx="182.05" cy="586.81" r="1.7" fill="none" stroke="#000" stroke-width="1.05"/>
<circle cx="187.85" cy="589.08" r="1.7" fill="none" stroke="#000" stroke-width="1.05"/>
<circle cx="182.55" cy="592.48" r="1.7" fill="none" stroke="#000" stroke-width="1.05"/>
<circle cx="182.55" cy="598.38" r="1.7" fill="none" stroke="#000" stroke-width="1.05"/>
<rect x="196.35" y="563.82" width="3.8" height="3.8" fill="#f0146e" stroke="none" stroke-width="1"/>
<rect x="206.95" y="565.64" width="3.8" height="3.8" fill="#f0146e" stroke="none" stroke-width="1"/>
<rect x="201.55" y="572.44" width="3.8" height="3.8" fill="#f0146e" stroke="none" stroke-width="1"/>
<rect x="201.55" y="576.29" width="3.8" height="3.8" fill="#f0146e" stroke="none" stroke-width="1"/>
<rect x="201.55" y="585.14" width="3.8" height="3.8" fill="#f0146e" stroke="none" stroke-width="1"/>
<circle cx="224.45" cy="592.03" r="2.05" fill="#1d8787" stroke="none" stroke-width="1"/>
<circle cx="224.45" cy="598.6" r="2.05" fill="#1d8787" stroke="none" stroke-width="1"/>
<circle cx="224.45" cy="603.82" r="2.05" fill="#1d8787" stroke="none" stroke-width="1"/>
<circle cx="224.45" cy="608.81" r="2.05" fill="#1d8787" stroke="none" stroke-width="1"/>
<circle cx="224.45" cy="617.65" r="2.05" fill="#1d8787" stroke="none" stroke-width="1"/>
<line x1="168.8" y1="555.65" x2="168.8" y2="647.45" stroke="#000" stroke-width="1.15"/>
<line x1="168.25" y1="646.9" x2="238.8" y2="646.9" stroke="#000" stroke-width="1.15"/>
<line x1="165" y1="646.9" x2="168.8" y2="646.9" stroke="#000" stroke-width="1.1"/>
<text x="164" y="649.4" font-size="7" text-anchor="end" fill="#000">0</text>
<line x1="165" y1="624.23" x2="168.8" y2="624.23" stroke="#000" stroke-width="1.1"/>
<text x="164" y="626.73" font-size="7" text-anchor="end" fill="#000">10</text>
<line x1="165" y1="601.55" x2="168.8" y2="601.55" stroke="#000" stroke-width="1.1"/>
<text x="164" y="604.05" font-size="7" text-anchor="end" fill="#000">20</text>
<line x1="165" y1="578.88" x2="168.8" y2="578.88" stroke="#000" stroke-width="1.1"/>
<text x="164" y="581.38" font-size="7" text-anchor="end" fill="#000">30</text>
<line x1="165" y1="556.2" x2="168.8" y2="556.2" stroke="#000" stroke-width="1.1"/>
<text x="164" y="558.7" font-size="7" text-anchor="end" fill="#000">40</text>
<line x1="182.55" y1="646.9" x2="182.55" y2="650.9" stroke="#000" stroke-width="1.1"/>
<line x1="203.45" y1="646.9" x2="203.45" y2="650.9" stroke="#000" stroke-width="1.1"/>
<line x1="224.45" y1="646.9" x2="224.45" y2="650.9" stroke="#000" stroke-width="1.1"/>
<text x="184.75" y="657" font-size="7.1" text-anchor="end" fill="#000" transform="rotate(-45 184.75 657)">Con</text>
<text x="208.65" y="655.1" font-size="7.1" text-anchor="end" fill="#000" transform="rotate(-45 208.65 655.1)">apCAFs</text>
<text x="229.15" y="656.4" font-size="7.1" text-anchor="end" fill="#000" transform="rotate(-45 229.15 656.4)">MHC II<tspan dy="-2.34" font-size="4.4">-</tspan><tspan dy="2.34"> CAFs</tspan></text>
<text x="200.8" y="535.5" font-size="7.35" text-anchor="middle" fill="#000">GZMB<tspan dy="-2.43" font-size="4.56">+</tspan><tspan dy="2.43">CD8</tspan><tspan dy="-2.43" font-size="4.56">+</tspan><tspan dy="2.43"> cells</tspan></text>
<text x="152" y="601.55" font-size="7.6" text-anchor="middle" fill="#000" transform="rotate(-90 152 601.55)">% in CD8<tspan dy="-2.51" font-size="4.71">+</tspan><tspan dy="2.51"> cells</tspan></text>
<path d="M182.3 560V554.7H202V560" fill="none" stroke="#000" stroke-width="1"/>
<path d="M205 560V554.7H224.5V560" fill="none" stroke="#000" stroke-width="1"/>
<text x="190" y="552.1" font-size="7.3" text-anchor="middle" fill="#000">0.015</text>
<text x="217.4" y="552.1" font-size="7.3" text-anchor="middle" fill="#000">&lt; 0.001</text>
<rect x="288.82" y="603.21" width="12.45" height="43.69" fill="#808080" stroke="#000" stroke-width="1.45"/>
<line x1="295.05" y1="605.4" x2="295.05" y2="600.42" stroke="#000" stroke-width="0.8"/>
<line x1="291.25" y1="600.42" x2="298.85" y2="600.42" stroke="#000" stroke-width="0.8"/>
<line x1="291.25" y1="605.4" x2="298.85" y2="605.4" stroke="#000" stroke-width="0.8"/>
<rect x="309.72" y="587.11" width="12.45" height="59.79" fill="#f8699a" stroke="#f0146e" stroke-width="1.45"/>
<line x1="315.95" y1="591.57" x2="315.95" y2="582.05" stroke="#f0146e" stroke-width="0.8"/>
<line x1="312.15" y1="582.05" x2="319.75" y2="582.05" stroke="#f0146e" stroke-width="0.8"/>
<line x1="312.15" y1="591.57" x2="319.75" y2="591.57" stroke="#f0146e" stroke-width="0.8"/>
<rect x="330.72" y="617.5" width="12.45" height="29.4" fill="#8fc3c3" stroke="#1d8787" stroke-width="1.45"/>
<line x1="336.95" y1="618.56" x2="336.95" y2="615.84" stroke="#1d8787" stroke-width="0.8"/>
<line x1="333.15" y1="615.84" x2="340.75" y2="615.84" stroke="#1d8787" stroke-width="0.8"/>
<line x1="333.15" y1="618.56" x2="340.75" y2="618.56" stroke="#1d8787" stroke-width="0.8"/>
<circle cx="295.05" cy="594.29" r="1.7" fill="none" stroke="#000" stroke-width="1.05"/>
<circle cx="289.65" cy="603.36" r="1.7" fill="none" stroke="#000" stroke-width="1.05"/>
<circle cx="300.45" cy="603.36" r="1.7" fill="none" stroke="#000" stroke-width="1.05"/>
<circle cx="289.85" cy="607.9" r="1.7" fill="none" stroke="#000" stroke-width="1.05"/>
<circle cx="300.45" cy="607.9" r="1.7" fill="none" stroke="#000" stroke-width="1.05"/>
<rect x="314.05" y="567.91" width="3.8" height="3.8" fill="#f0146e" stroke="none" stroke-width="1"/>
<rect x="314.05" y="581.96" width="3.8" height="3.8" fill="#f0146e" stroke="none" stroke-width="1"/>
<rect x="312.05" y="586.95" width="3.8" height="3.8" fill="#f0146e" stroke="none" stroke-width="1"/>
<rect x="317.85" y="588.77" width="3.8" height="3.8" fill="#f0146e" stroke="none" stroke-width="1"/>
<rect x="317.85" y="593.75" width="3.8" height="3.8" fill="#f0146e" stroke="none" stroke-width="1"/>
<circle cx="342.35" cy="613.79" r="2.05" fill="#1d8787" stroke="none" stroke-width="1"/>
<circle cx="331.95" cy="616.97" r="2.05" fill="#1d8787" stroke="none" stroke-width="1"/>
<circle cx="336.95" cy="617.88" r="2.05" fill="#1d8787" stroke="none" stroke-width="1"/>
<circle cx="341.95" cy="618.78" r="2.05" fill="#1d8787" stroke="none" stroke-width="1"/>
<circle cx="336.95" cy="621.96" r="2.05" fill="#1d8787" stroke="none" stroke-width="1"/>
<line x1="281.3" y1="555.65" x2="281.3" y2="647.45" stroke="#000" stroke-width="1.15"/>
<line x1="280.75" y1="646.9" x2="351.3" y2="646.9" stroke="#000" stroke-width="1.15"/>
<line x1="277.5" y1="646.9" x2="281.3" y2="646.9" stroke="#000" stroke-width="1.1"/>
<text x="276.5" y="649.4" font-size="7" text-anchor="end" fill="#000">0</text>
<line x1="277.5" y1="624.23" x2="281.3" y2="624.23" stroke="#000" stroke-width="1.1"/>
<text x="276.5" y="626.73" font-size="7" text-anchor="end" fill="#000">5</text>
<line x1="277.5" y1="601.55" x2="281.3" y2="601.55" stroke="#000" stroke-width="1.1"/>
<text x="276.5" y="604.05" font-size="7" text-anchor="end" fill="#000">10</text>
<line x1="277.5" y1="578.88" x2="281.3" y2="578.88" stroke="#000" stroke-width="1.1"/>
<text x="276.5" y="581.38" font-size="7" text-anchor="end" fill="#000">15</text>
<line x1="277.5" y1="556.2" x2="281.3" y2="556.2" stroke="#000" stroke-width="1.1"/>
<text x="276.5" y="558.7" font-size="7" text-anchor="end" fill="#000">20</text>
<line x1="295.05" y1="646.9" x2="295.05" y2="650.9" stroke="#000" stroke-width="1.1"/>
<line x1="315.95" y1="646.9" x2="315.95" y2="650.9" stroke="#000" stroke-width="1.1"/>
<line x1="336.95" y1="646.9" x2="336.95" y2="650.9" stroke="#000" stroke-width="1.1"/>
<text x="297.25" y="657" font-size="7.1" text-anchor="end" fill="#000" transform="rotate(-45 297.25 657)">Con</text>
<text x="321.15" y="655.1" font-size="7.1" text-anchor="end" fill="#000" transform="rotate(-45 321.15 655.1)">apCAFs</text>
<text x="341.65" y="656.4" font-size="7.1" text-anchor="end" fill="#000" transform="rotate(-45 341.65 656.4)">MHC II<tspan dy="-2.34" font-size="4.4">-</tspan><tspan dy="2.34"> CAFs</tspan></text>
<text x="313.4" y="535.5" font-size="7.35" text-anchor="middle" fill="#000">IFN-&#947;<tspan dy="-2.43" font-size="4.56">+</tspan><tspan dy="2.43">CD8</tspan><tspan dy="-2.43" font-size="4.56">+</tspan><tspan dy="2.43"> cells</tspan></text>
<text x="264.2" y="601.55" font-size="7.6" text-anchor="middle" fill="#000" transform="rotate(-90 264.2 601.55)">% in CD8<tspan dy="-2.51" font-size="4.71">+</tspan><tspan dy="2.51"> cells</tspan></text>
<path d="M294.6 564.4V559.9H314.5V564.4" fill="none" stroke="#000" stroke-width="1"/>
<path d="M317.4 564.4V559.9H337.2V564.4" fill="none" stroke="#000" stroke-width="1"/>
<text x="304.2" y="556.2" font-size="7.3" text-anchor="middle" fill="#000">0.005</text>
<text x="331.2" y="556.2" font-size="7.3" text-anchor="middle" fill="#000">&lt; 0.001</text>
<rect x="401.02" y="607.11" width="12.45" height="39.79" fill="#808080" stroke="#000" stroke-width="1.45"/>
<line x1="407.25" y1="610.08" x2="407.25" y2="603.55" stroke="#000" stroke-width="0.8"/>
<line x1="403.45" y1="603.55" x2="411.05" y2="603.55" stroke="#000" stroke-width="0.8"/>
<line x1="403.45" y1="610.08" x2="411.05" y2="610.08" stroke="#000" stroke-width="0.8"/>
<rect x="421.92" y="581.53" width="12.45" height="65.37" fill="#f8699a" stroke="#f0146e" stroke-width="1.45"/>
<line x1="428.15" y1="586.68" x2="428.15" y2="575.79" stroke="#f0146e" stroke-width="0.8"/>
<line x1="424.35" y1="575.79" x2="431.95" y2="575.79" stroke="#f0146e" stroke-width="0.8"/>
<line x1="424.35" y1="586.68" x2="431.95" y2="586.68" stroke="#f0146e" stroke-width="0.8"/>
<rect x="442.92" y="615.82" width="12.45" height="31.08" fill="#8fc3c3" stroke="#1d8787" stroke-width="1.45"/>
<line x1="449.15" y1="618.24" x2="449.15" y2="612.8" stroke="#1d8787" stroke-width="0.8"/>
<line x1="445.35" y1="612.8" x2="452.95" y2="612.8" stroke="#1d8787" stroke-width="0.8"/>
<line x1="445.35" y1="618.24" x2="452.95" y2="618.24" stroke="#1d8787" stroke-width="0.8"/>
<circle cx="407.25" cy="595.75" r="1.7" fill="none" stroke="#000" stroke-width="1.05"/>
<circle cx="402.05" cy="609.17" r="1.7" fill="none" stroke="#000" stroke-width="1.05"/>
<circle cx="412.45" cy="609.17" r="1.7" fill="none" stroke="#000" stroke-width="1.05"/>
<circle cx="405.75" cy="610.26" r="1.7" fill="none" stroke="#000" stroke-width="1.05"/>
<circle cx="409.85" cy="610.26" r="1.7" fill="none" stroke="#000" stroke-width="1.05"/>
<rect x="426.25" y="560.1" width="3.8" height="3.8" fill="#f0146e" stroke="none" stroke-width="1"/>
<rect x="426.25" y="576.79" width="3.8" height="3.8" fill="#f0146e" stroke="none" stroke-width="1"/>
<rect x="421.05" y="585.14" width="3.8" height="3.8" fill="#f0146e" stroke="none" stroke-width="1"/>
<rect x="431.45" y="585.14" width="3.8" height="3.8" fill="#f0146e" stroke="none" stroke-width="1"/>
<rect x="421.45" y="589.13" width="3.8" height="3.8" fill="#f0146e" stroke="none" stroke-width="1"/>
<circle cx="449.15" cy="608.81" r="2.05" fill="#1d8787" stroke="none" stroke-width="1"/>
<circle cx="444.15" cy="612.8" r="2.05" fill="#1d8787" stroke="none" stroke-width="1"/>
<circle cx="454.55" cy="615.7" r="2.05" fill="#1d8787" stroke="none" stroke-width="1"/>
<circle cx="449.15" cy="617.88" r="2.05" fill="#1d8787" stroke="none" stroke-width="1"/>
<circle cx="449.15" cy="625.49" r="2.05" fill="#1d8787" stroke="none" stroke-width="1"/>
<line x1="393.5" y1="555.65" x2="393.5" y2="647.45" stroke="#000" stroke-width="1.15"/>
<line x1="392.95" y1="646.9" x2="463.5" y2="646.9" stroke="#000" stroke-width="1.15"/>
<line x1="389.7" y1="646.9" x2="393.5" y2="646.9" stroke="#000" stroke-width="1.1"/>
<text x="388.7" y="649.4" font-size="7" text-anchor="end" fill="#000">0</text>
<line x1="389.7" y1="628.76" x2="393.5" y2="628.76" stroke="#000" stroke-width="1.1"/>
<text x="388.7" y="631.26" font-size="7" text-anchor="end" fill="#000">5</text>
<line x1="389.7" y1="610.62" x2="393.5" y2="610.62" stroke="#000" stroke-width="1.1"/>
<text x="388.7" y="613.12" font-size="7" text-anchor="end" fill="#000">10</text>
<line x1="389.7" y1="592.48" x2="393.5" y2="592.48" stroke="#000" stroke-width="1.1"/>
<text x="388.7" y="594.98" font-size="7" text-anchor="end" fill="#000">15</text>
<line x1="389.7" y1="574.34" x2="393.5" y2="574.34" stroke="#000" stroke-width="1.1"/>
<text x="388.7" y="576.84" font-size="7" text-anchor="end" fill="#000">20</text>
<line x1="389.7" y1="556.2" x2="393.5" y2="556.2" stroke="#000" stroke-width="1.1"/>
<text x="388.7" y="558.7" font-size="7" text-anchor="end" fill="#000">25</text>
<line x1="407.25" y1="646.9" x2="407.25" y2="650.9" stroke="#000" stroke-width="1.1"/>
<line x1="428.15" y1="646.9" x2="428.15" y2="650.9" stroke="#000" stroke-width="1.1"/>
<line x1="449.15" y1="646.9" x2="449.15" y2="650.9" stroke="#000" stroke-width="1.1"/>
<text x="409.45" y="657" font-size="7.1" text-anchor="end" fill="#000" transform="rotate(-45 409.45 657)">Con</text>
<text x="433.35" y="655.1" font-size="7.1" text-anchor="end" fill="#000" transform="rotate(-45 433.35 655.1)">apCAFs</text>
<text x="453.85" y="656.4" font-size="7.1" text-anchor="end" fill="#000" transform="rotate(-45 453.85 656.4)">MHC II<tspan dy="-2.34" font-size="4.4">-</tspan><tspan dy="2.34"> CAFs</tspan></text>
<text x="423.1" y="535.5" font-size="7.35" text-anchor="middle" fill="#000">TNF<tspan dy="-2.43" font-size="4.56">+</tspan><tspan dy="2.43">CD8</tspan><tspan dy="-2.43" font-size="4.56">+</tspan><tspan dy="2.43"> cells</tspan></text>
<text x="377" y="601.55" font-size="7.6" text-anchor="middle" fill="#000" transform="rotate(-90 377 601.55)">% in CD8<tspan dy="-2.51" font-size="4.71">+</tspan><tspan dy="2.51"> cells</tspan></text>
<path d="M407.2 556.5V551.1H426.9V556.5" fill="none" stroke="#000" stroke-width="1"/>
<path d="M429.9 556.5V551.1H449.6V556.5" fill="none" stroke="#000" stroke-width="1"/>
<text x="415.4" y="548" font-size="7.3" text-anchor="middle" fill="#000">0.001</text>
<text x="442.4" y="548" font-size="7.3" text-anchor="middle" fill="#000">&lt; 0.001</text>
<line x1="579.45" y1="433.18" x2="579.45" y2="436.1" stroke="#000" stroke-width="1.2"/>
<line x1="579.45" y1="444.86" x2="579.45" y2="450.69" stroke="#000" stroke-width="1.2"/>
<line x1="576.05" y1="433.18" x2="582.85" y2="433.18" stroke="#000" stroke-width="1.2"/>
<line x1="576.05" y1="450.69" x2="582.85" y2="450.69" stroke="#000" stroke-width="1.2"/>
<rect x="573.3" y="436.1" width="12.3" height="8.76" fill="#fff" stroke="#000" stroke-width="1.4"/>
<line x1="573.2" y1="438.29" x2="585.7" y2="438.29" stroke="#000" stroke-width="1.1"/>
<line x1="600.45" y1="402.54" x2="600.45" y2="409.84" stroke="#f0146e" stroke-width="1.2"/>
<line x1="600.45" y1="425.52" x2="600.45" y2="426.98" stroke="#f0146e" stroke-width="1.2"/>
<line x1="597.05" y1="402.54" x2="603.85" y2="402.54" stroke="#f0146e" stroke-width="1.2"/>
<line x1="597.05" y1="426.98" x2="603.85" y2="426.98" stroke="#f0146e" stroke-width="1.2"/>
<rect x="594.3" y="409.84" width="12.3" height="15.69" fill="#fff" stroke="#f0146e" stroke-width="1.4"/>
<line x1="594.2" y1="423.33" x2="606.7" y2="423.33" stroke="#f0146e" stroke-width="1.1"/>
<line x1="621.45" y1="444.67" x2="621.45" y2="445.4" stroke="#1d8787" stroke-width="1.2"/>
<line x1="621.45" y1="456.71" x2="621.45" y2="458.72" stroke="#1d8787" stroke-width="1.2"/>
<line x1="618.05" y1="444.67" x2="624.85" y2="444.67" stroke="#1d8787" stroke-width="1.2"/>
<line x1="618.05" y1="458.72" x2="624.85" y2="458.72" stroke="#1d8787" stroke-width="1.2"/>
<rect x="615.3" y="445.4" width="12.3" height="11.31" fill="#fff" stroke="#1d8787" stroke-width="1.4"/>
<line x1="615.2" y1="448.87" x2="627.7" y2="448.87" stroke="#1d8787" stroke-width="1.1"/>
<line x1="565.6" y1="383.75" x2="565.6" y2="476.05" stroke="#000" stroke-width="1.15"/>
<line x1="565.05" y1="475.5" x2="635.6" y2="475.5" stroke="#000" stroke-width="1.15"/>
<line x1="561.8" y1="475.5" x2="565.6" y2="475.5" stroke="#000" stroke-width="1.1"/>
<text x="560.8" y="478" font-size="7" text-anchor="end" fill="#000">0</text>
<line x1="561.8" y1="457.26" x2="565.6" y2="457.26" stroke="#000" stroke-width="1.1"/>
<text x="560.8" y="459.76" font-size="7" text-anchor="end" fill="#000">50</text>
<line x1="561.8" y1="439.02" x2="565.6" y2="439.02" stroke="#000" stroke-width="1.1"/>
<text x="560.8" y="441.52" font-size="7" text-anchor="end" fill="#000">100</text>
<line x1="561.8" y1="420.78" x2="565.6" y2="420.78" stroke="#000" stroke-width="1.1"/>
<text x="560.8" y="423.28" font-size="7" text-anchor="end" fill="#000">150</text>
<line x1="561.8" y1="402.54" x2="565.6" y2="402.54" stroke="#000" stroke-width="1.1"/>
<text x="560.8" y="405.04" font-size="7" text-anchor="end" fill="#000">200</text>
<line x1="561.8" y1="384.3" x2="565.6" y2="384.3" stroke="#000" stroke-width="1.1"/>
<text x="560.8" y="386.8" font-size="7" text-anchor="end" fill="#000">250</text>
<line x1="579.45" y1="475.5" x2="579.45" y2="479.5" stroke="#000" stroke-width="1.1"/>
<line x1="600.45" y1="475.5" x2="600.45" y2="479.5" stroke="#000" stroke-width="1.1"/>
<line x1="621.45" y1="475.5" x2="621.45" y2="479.5" stroke="#000" stroke-width="1.1"/>
<text x="581.65" y="485.6" font-size="7.1" text-anchor="end" fill="#000" transform="rotate(-45 581.65 485.6)">Con</text>
<text x="605.65" y="483.7" font-size="7.1" text-anchor="end" fill="#000" transform="rotate(-45 605.65 483.7)">apCAFs</text>
<text x="626.15" y="485" font-size="7.1" text-anchor="end" fill="#000" transform="rotate(-45 626.15 485)">MHC II<tspan dy="-2.34" font-size="4.4">-</tspan><tspan dy="2.34"> CAFs</tspan></text>
<text x="600.9" y="372" font-size="7.35" text-anchor="middle" fill="#000">IFN-&#947;</text>
<text x="546.3" y="430.4" font-size="7.45" text-anchor="middle" fill="#000" transform="rotate(-90 546.3 430.4)">Concentration (pg/mg protein)</text>
<path d="M579.3 396.2V391.6H598.9V396.2" fill="none" stroke="#000" stroke-width="1"/>
<path d="M602 396.2V391.6H621.5V396.2" fill="none" stroke="#000" stroke-width="1"/>
<text x="589.5" y="389.3" font-size="7.3" text-anchor="middle" fill="#000">0.002</text>
<text x="616.3" y="389.3" font-size="7.3" text-anchor="middle" fill="#000">&lt; 0.001</text>
<line x1="579.45" y1="586.6" x2="579.45" y2="591.77" stroke="#000" stroke-width="1.2"/>
<line x1="579.45" y1="607.1" x2="579.45" y2="609.71" stroke="#000" stroke-width="1.2"/>
<line x1="576.05" y1="586.6" x2="582.85" y2="586.6" stroke="#000" stroke-width="1.2"/>
<line x1="576.05" y1="609.71" x2="582.85" y2="609.71" stroke="#000" stroke-width="1.2"/>
<rect x="573.3" y="591.77" width="12.3" height="15.33" fill="#fff" stroke="#000" stroke-width="1.4"/>
<line x1="573.2" y1="595.8" x2="585.7" y2="595.8" stroke="#000" stroke-width="1.1"/>
<line x1="600.45" y1="560.43" x2="600.45" y2="564.78" stroke="#f0146e" stroke-width="1.2"/>
<line x1="600.45" y1="579.1" x2="600.45" y2="581.93" stroke="#f0146e" stroke-width="1.2"/>
<line x1="597.05" y1="560.43" x2="603.85" y2="560.43" stroke="#f0146e" stroke-width="1.2"/>
<line x1="597.05" y1="581.93" x2="603.85" y2="581.93" stroke="#f0146e" stroke-width="1.2"/>
<rect x="594.3" y="564.78" width="12.3" height="14.32" fill="#fff" stroke="#f0146e" stroke-width="1.4"/>
<line x1="594.2" y1="570.95" x2="606.7" y2="570.95" stroke="#f0146e" stroke-width="1.1"/>
<line x1="621.45" y1="607.69" x2="621.45" y2="609.52" stroke="#1d8787" stroke-width="1.2"/>
<line x1="621.45" y1="618.31" x2="621.45" y2="624.94" stroke="#1d8787" stroke-width="1.2"/>
<line x1="618.05" y1="607.69" x2="624.85" y2="607.69" stroke="#1d8787" stroke-width="1.2"/>
<line x1="618.05" y1="624.94" x2="624.85" y2="624.94" stroke="#1d8787" stroke-width="1.2"/>
<rect x="615.3" y="609.52" width="12.3" height="8.78" fill="#fff" stroke="#1d8787" stroke-width="1.4"/>
<line x1="615.2" y1="611.67" x2="627.7" y2="611.67" stroke="#1d8787" stroke-width="1.1"/>
<line x1="565.6" y1="554.85" x2="565.6" y2="647.45" stroke="#000" stroke-width="1.15"/>
<line x1="565.05" y1="646.9" x2="635.6" y2="646.9" stroke="#000" stroke-width="1.15"/>
<line x1="561.8" y1="646.9" x2="565.6" y2="646.9" stroke="#000" stroke-width="1.1"/>
<text x="560.8" y="649.4" font-size="7" text-anchor="end" fill="#000">0</text>
<line x1="561.8" y1="624.02" x2="565.6" y2="624.02" stroke="#000" stroke-width="1.1"/>
<text x="560.8" y="626.52" font-size="7" text-anchor="end" fill="#000">50</text>
<line x1="561.8" y1="601.15" x2="565.6" y2="601.15" stroke="#000" stroke-width="1.1"/>
<text x="560.8" y="603.65" font-size="7" text-anchor="end" fill="#000">100</text>
<line x1="561.8" y1="578.27" x2="565.6" y2="578.27" stroke="#000" stroke-width="1.1"/>
<text x="560.8" y="580.77" font-size="7" text-anchor="end" fill="#000">150</text>
<line x1="561.8" y1="555.4" x2="565.6" y2="555.4" stroke="#000" stroke-width="1.1"/>
<text x="560.8" y="557.9" font-size="7" text-anchor="end" fill="#000">200</text>
<line x1="579.45" y1="646.9" x2="579.45" y2="650.9" stroke="#000" stroke-width="1.1"/>
<line x1="600.45" y1="646.9" x2="600.45" y2="650.9" stroke="#000" stroke-width="1.1"/>
<line x1="621.45" y1="646.9" x2="621.45" y2="650.9" stroke="#000" stroke-width="1.1"/>
<text x="581.65" y="657" font-size="7.1" text-anchor="end" fill="#000" transform="rotate(-45 581.65 657)">Con</text>
<text x="605.65" y="655.1" font-size="7.1" text-anchor="end" fill="#000" transform="rotate(-45 605.65 655.1)">apCAFs</text>
<text x="626.15" y="656.4" font-size="7.1" text-anchor="end" fill="#000" transform="rotate(-45 626.15 656.4)">MHC II<tspan dy="-2.34" font-size="4.4">-</tspan><tspan dy="2.34"> CAFs</tspan></text>
<text x="599" y="535" font-size="7.35" text-anchor="middle" fill="#000">TNF</text>
<text x="546.3" y="601.65" font-size="7.45" text-anchor="middle" fill="#000" transform="rotate(-90 546.3 601.65)">Concentration (pg/mg protein)</text>
<path d="M579.5 554.7V549.9H600.5V554.7" fill="none" stroke="#000" stroke-width="1"/>
<path d="M603 554.7V549.9H622.5V554.7" fill="none" stroke="#000" stroke-width="1"/>
<text x="587.2" y="546.4" font-size="7.3" text-anchor="middle" fill="#000">&lt; 0.001</text>
<text x="615.8" y="546.4" font-size="7.3" text-anchor="middle" fill="#000">&lt; 0.001</text>
<rect x="421.9" y="835.99" width="16.6" height="24.61" fill="#8eaadb" stroke="#2f4f95" stroke-width="0.8"/>
<path d="M429.12 851.35h1.25v1.15h-1.25zM430.32 855.37h1.25v1.15h-1.25zM434.4 843.73h1.25v1.15h-1.25zM429.27 857.2h1.25v1.15h-1.25zM429.74 846.41h1.25v1.15h-1.25zM430.63 850.37h1.25v1.15h-1.25zM426.12 857.54h1.25v1.15h-1.25zM429.78 847.07h1.25v1.15h-1.25zM431.1 858.01h1.25v1.15h-1.25zM432.93 848.79h1.25v1.15h-1.25zM425.1 857.26h1.25v1.15h-1.25zM427.45 856.77h1.25v1.15h-1.25zM425.07 849h1.25v1.15h-1.25zM433.12 839.64h1.25v1.15h-1.25zM431.82 856h1.25v1.15h-1.25zM424.52 853.69h1.25v1.15h-1.25zM435.05 844.28h1.25v1.15h-1.25zM434.86 836.82h1.25v1.15h-1.25zM431.37 845.45h1.25v1.15h-1.25zM430.94 849.65h1.25v1.15h-1.25zM425.81 836.16h1.25v1.15h-1.25zM424.22 857.8h1.25v1.15h-1.25zM429.97 838.9h1.25v1.15h-1.25zM424.72 852.14h1.25v1.15h-1.25zM426.18 855.53h1.25v1.15h-1.25zM426.76 856.14h1.25v1.15h-1.25zM424.39 851.7h1.25v1.15h-1.25zM429.25 839.89h1.25v1.15h-1.25zM428.98 854.68h1.25v1.15h-1.25zM433.49 845.35h1.25v1.15h-1.25zM429.86 844.01h1.25v1.15h-1.25zM431.22 850.22h1.25v1.15h-1.25zM429.65 846.13h1.25v1.15h-1.25zM431.47 857.42h1.25v1.15h-1.25zM429.17 857.5h1.25v1.15h-1.25zM427.17 854.09h1.25v1.15h-1.25zM435.22 843.05h1.25v1.15h-1.25zM435.2 848.93h1.25v1.15h-1.25zM433.46 851.57h1.25v1.15h-1.25zM431.98 845.25h1.25v1.15h-1.25zM427.58 848.34h1.25v1.15h-1.25zM426.62 851.91h1.25v1.15h-1.25zM427.29 840.39h1.25v1.15h-1.25zM424.84 842.61h1.25v1.15h-1.25zM431.41 832.48h1.25v1.15h-1.25zM428.99 828.25h1.25v1.15h-1.25zM431.94 828.88h1.25v1.15h-1.25zM428.9 824.4h1.25v1.15h-1.25zM432.67 826.27h1.25v1.15h-1.25zM431.94 831.92h1.25v1.15h-1.25zM426.35 823.06h1.25v1.15h-1.25zM427.73 834.09h1.25v1.15h-1.25zM432.36 830.25h1.25v1.15h-1.25zM429.45 825.91h1.25v1.15h-1.25zM432.82 833.66h1.25v1.15h-1.25zM428.97 829.35h1.25v1.15h-1.25zM426.83 835.1h1.25v1.15h-1.25zM430.5 827.05h1.25v1.15h-1.25zM431.21 812.12h1.25v1.15h-1.25zM428.36 814.8h1.25v1.15h-1.25zM427.34 810.57h1.25v1.15h-1.25zM428.71 818.42h1.25v1.15h-1.25zM432.25 813.09h1.25v1.15h-1.25zM431.1 814.5h1.25v1.15h-1.25zM427.51 814.7h1.25v1.15h-1.25zM428.23 816.43h1.25v1.15h-1.25zM427.42 811.07h1.25v1.15h-1.25zM427.19 809.61h1.25v1.15h-1.25zM429.83 769.26h1.25v1.15h-1.25zM429.46 793.47h1.25v1.15h-1.25zM429.69 802.78h1.25v1.15h-1.25zM429.57 806.97h1.25v1.15h-1.25z" fill="#3a5fb0" stroke="none" stroke-width="1"/>
<line x1="430.2" y1="837.86" x2="430.2" y2="834.13" stroke="#2f4f95" stroke-width="0.8"/>
<line x1="425.7" y1="834.13" x2="434.7" y2="834.13" stroke="#2f4f95" stroke-width="0.8"/>
<line x1="425.7" y1="837.86" x2="434.7" y2="837.86" stroke="#2f4f95" stroke-width="0.8"/>
<rect x="447.2" y="842.21" width="17.1" height="18.39" fill="#ddccac" stroke="#a8946e" stroke-width="0.8"/>
<path d="M450.87 850.85h1.25v1.15h-1.25zM458.45 847.45h1.25v1.15h-1.25zM450.03 858.26h1.25v1.15h-1.25zM457.21 846.78h1.25v1.15h-1.25zM449.83 847.75h1.25v1.15h-1.25zM454.09 841.55h1.25v1.15h-1.25zM451.18 844.62h1.25v1.15h-1.25zM451.98 854.25h1.25v1.15h-1.25zM461.79 852.44h1.25v1.15h-1.25zM459.45 847.37h1.25v1.15h-1.25zM452.46 858.95h1.25v1.15h-1.25zM460.59 851.08h1.25v1.15h-1.25zM451.15 856.34h1.25v1.15h-1.25zM453.72 857.25h1.25v1.15h-1.25zM460.16 858.29h1.25v1.15h-1.25zM457.19 845.58h1.25v1.15h-1.25zM449.6 857.03h1.25v1.15h-1.25zM462.05 854.91h1.25v1.15h-1.25zM451.19 852.34h1.25v1.15h-1.25zM451.82 843.73h1.25v1.15h-1.25zM459.02 857.91h1.25v1.15h-1.25zM452.81 851.3h1.25v1.15h-1.25zM452.35 849.5h1.25v1.15h-1.25zM449.23 843.52h1.25v1.15h-1.25zM449.46 844.67h1.25v1.15h-1.25zM456.36 843.86h1.25v1.15h-1.25zM451.6 854.36h1.25v1.15h-1.25zM456.62 851.91h1.25v1.15h-1.25zM453.4 852.92h1.25v1.15h-1.25zM454.54 843.5h1.25v1.15h-1.25zM461.63 842.18h1.25v1.15h-1.25zM454.97 856.65h1.25v1.15h-1.25zM456.24 856.19h1.25v1.15h-1.25zM460.33 855.19h1.25v1.15h-1.25zM450.76 855.17h1.25v1.15h-1.25zM450.36 850.66h1.25v1.15h-1.25zM460.92 848.79h1.25v1.15h-1.25zM459.65 854.64h1.25v1.15h-1.25zM451.69 859.28h1.25v1.15h-1.25zM450.86 851.84h1.25v1.15h-1.25zM458.55 852.73h1.25v1.15h-1.25zM461.37 849.2h1.25v1.15h-1.25zM450.95 842.27h1.25v1.15h-1.25zM461.5 846.97h1.25v1.15h-1.25zM460.55 850.11h1.25v1.15h-1.25zM456.65 848.28h1.25v1.15h-1.25zM454.54 836.7h1.25v1.15h-1.25zM451.87 841.05h1.25v1.15h-1.25zM451.33 835.14h1.25v1.15h-1.25zM459.09 835.98h1.25v1.15h-1.25zM453 835.32h1.25v1.15h-1.25zM456.92 835.85h1.25v1.15h-1.25zM453.16 838.69h1.25v1.15h-1.25zM457.92 838.64h1.25v1.15h-1.25zM456.01 840.7h1.25v1.15h-1.25zM453.46 837h1.25v1.15h-1.25zM453.77 833.86h1.25v1.15h-1.25zM456.17 833.81h1.25v1.15h-1.25zM453.3 832.5h1.25v1.15h-1.25zM454 832.93h1.25v1.15h-1.25zM455.46 831.28h1.25v1.15h-1.25zM456.75 833.95h1.25v1.15h-1.25zM455.7 834.44h1.25v1.15h-1.25zM454.23 833.03h1.25v1.15h-1.25zM455.87 823.59h1.25v1.15h-1.25zM454.73 819.63h1.25v1.15h-1.25zM454.43 824.74h1.25v1.15h-1.25zM454.83 811.9h1.25v1.15h-1.25zM455.11 815.84h1.25v1.15h-1.25zM454.94 767.4h1.25v1.15h-1.25zM455.01 789.74h1.25v1.15h-1.25zM455.12 810.7h1.25v1.15h-1.25z" fill="#c9ae82" stroke="none" stroke-width="1"/>
<line x1="455.75" y1="843.95" x2="455.75" y2="840.46" stroke="#a8946e" stroke-width="0.8"/>
<line x1="451.25" y1="840.46" x2="460.25" y2="840.46" stroke="#a8946e" stroke-width="0.8"/>
<line x1="451.25" y1="843.95" x2="460.25" y2="843.95" stroke="#a8946e" stroke-width="0.8"/>
<line x1="413.3" y1="743.7" x2="413.3" y2="861.1" stroke="#000" stroke-width="1"/>
<line x1="412.8" y1="860.6" x2="473.3" y2="860.6" stroke="#000" stroke-width="1"/>
<line x1="408.7" y1="860.6" x2="413.3" y2="860.6" stroke="#000" stroke-width="1"/>
<text x="406.9" y="863.6" font-size="8.5" text-anchor="end" fill="#000">0</text>
<line x1="408.7" y1="837.32" x2="413.3" y2="837.32" stroke="#000" stroke-width="1"/>
<text x="406.9" y="840.32" font-size="8.5" text-anchor="end" fill="#000">10</text>
<line x1="408.7" y1="814.04" x2="413.3" y2="814.04" stroke="#000" stroke-width="1"/>
<text x="406.9" y="817.04" font-size="8.5" text-anchor="end" fill="#000">20</text>
<line x1="408.7" y1="790.76" x2="413.3" y2="790.76" stroke="#000" stroke-width="1"/>
<text x="406.9" y="793.76" font-size="8.5" text-anchor="end" fill="#000">30</text>
<line x1="408.7" y1="767.48" x2="413.3" y2="767.48" stroke="#000" stroke-width="1"/>
<text x="406.9" y="770.48" font-size="8.5" text-anchor="end" fill="#000">40</text>
<line x1="408.7" y1="744.2" x2="413.3" y2="744.2" stroke="#000" stroke-width="1"/>
<text x="406.9" y="747.2" font-size="8.5" text-anchor="end" fill="#000">50</text>
<line x1="430.2" y1="860.6" x2="430.2" y2="865.2" stroke="#000" stroke-width="1"/>
<text x="430.2" y="875.2" font-size="8.6" text-anchor="middle" fill="#000">High</text>
<line x1="455.75" y1="860.6" x2="455.75" y2="865.2" stroke="#000" stroke-width="1"/>
<text x="455.75" y="875.2" font-size="8.6" text-anchor="middle" fill="#000">Low</text>
<text x="441" y="722.7" font-size="11.3" text-anchor="middle" fill="#000">Total T cells</text>
<text x="390.6" y="804.4" font-size="9" text-anchor="middle" fill="#000" transform="rotate(-90 390.6 804.4)">CD3<tspan dy="-2.97" font-size="5.58">+</tspan><tspan dy="2.97"> cells (%)</tspan></text>
<line x1="429.9" y1="748.4" x2="456" y2="748.4" stroke="#000" stroke-width="1"/>
<text x="439.8" y="743.6" font-size="10" text-anchor="middle"><tspan font-style="italic">P</tspan> = 0.011</text>
<rect x="528.8" y="848.98" width="14" height="11.02" fill="#8eaadb" stroke="#2f4f95" stroke-width="0.8"/>
<path d="M534.94 857.81h1.25v1.15h-1.25zM537.14 856.67h1.25v1.15h-1.25zM537.25 855.62h1.25v1.15h-1.25zM530.96 855.44h1.25v1.15h-1.25zM529.38 858.1h1.25v1.15h-1.25zM533.75 850.1h1.25v1.15h-1.25zM532.54 848.51h1.25v1.15h-1.25zM538.97 854.32h1.25v1.15h-1.25zM537.54 854.12h1.25v1.15h-1.25zM536.47 858.5h1.25v1.15h-1.25zM535.95 858.32h1.25v1.15h-1.25zM537.19 855.68h1.25v1.15h-1.25zM530.99 856.53h1.25v1.15h-1.25zM534.53 850.32h1.25v1.15h-1.25zM531.2 857.67h1.25v1.15h-1.25zM540.12 859.2h1.25v1.15h-1.25zM529.96 848.97h1.25v1.15h-1.25zM539.08 853.63h1.25v1.15h-1.25zM530.15 857.83h1.25v1.15h-1.25zM537.49 853.47h1.25v1.15h-1.25zM533.29 859.15h1.25v1.15h-1.25zM534.11 853.63h1.25v1.15h-1.25zM539.36 848.67h1.25v1.15h-1.25zM529.47 849.94h1.25v1.15h-1.25zM529.98 851.78h1.25v1.15h-1.25zM540.23 856.57h1.25v1.15h-1.25zM535.36 855.41h1.25v1.15h-1.25zM530.34 857.61h1.25v1.15h-1.25zM541.1 850.95h1.25v1.15h-1.25zM540.61 853.58h1.25v1.15h-1.25zM530.6 850.87h1.25v1.15h-1.25zM534.33 855.82h1.25v1.15h-1.25zM530.87 856.99h1.25v1.15h-1.25zM533 850.51h1.25v1.15h-1.25zM536.71 848.6h1.25v1.15h-1.25zM531.21 850.06h1.25v1.15h-1.25zM537.61 850.57h1.25v1.15h-1.25zM529.87 850.43h1.25v1.15h-1.25zM531.3 851.3h1.25v1.15h-1.25zM539.04 856.95h1.25v1.15h-1.25zM534.06 853.75h1.25v1.15h-1.25zM534.28 855.53h1.25v1.15h-1.25zM536.4 859.13h1.25v1.15h-1.25zM534.97 859.14h1.25v1.15h-1.25zM533.86 856.37h1.25v1.15h-1.25zM529.62 856.59h1.25v1.15h-1.25zM536.61 844.24h1.25v1.15h-1.25zM538.05 842.75h1.25v1.15h-1.25zM538.11 845.62h1.25v1.15h-1.25zM536.23 842.86h1.25v1.15h-1.25zM534.39 842.57h1.25v1.15h-1.25zM534.43 842.75h1.25v1.15h-1.25zM536.39 846.09h1.25v1.15h-1.25zM536.29 846.9h1.25v1.15h-1.25zM534.32 839.94h1.25v1.15h-1.25zM534.61 840.28h1.25v1.15h-1.25zM534.92 840.19h1.25v1.15h-1.25zM535.28 835.45h1.25v1.15h-1.25zM535.99 832.33h1.25v1.15h-1.25zM535.25 833h1.25v1.15h-1.25zM535.06 752.67h1.25v1.15h-1.25zM535.38 764.81h1.25v1.15h-1.25zM535.22 806.34h1.25v1.15h-1.25zM535.26 810.01h1.25v1.15h-1.25zM534.97 819.9h1.25v1.15h-1.25zM535.18 820.47h1.25v1.15h-1.25zM535.16 825.55h1.25v1.15h-1.25z" fill="#3a5fb0" stroke="none" stroke-width="1"/>
<line x1="535.8" y1="851.52" x2="535.8" y2="846.44" stroke="#2f4f95" stroke-width="0.8"/>
<line x1="531.3" y1="846.44" x2="540.3" y2="846.44" stroke="#2f4f95" stroke-width="0.8"/>
<line x1="531.3" y1="851.52" x2="540.3" y2="851.52" stroke="#2f4f95" stroke-width="0.8"/>
<rect x="551.6" y="854.63" width="14.3" height="5.37" fill="#ddccac" stroke="#a8946e" stroke-width="0.8"/>
<path d="M561.73 856.88h1.25v1.15h-1.25zM553.03 855.95h1.25v1.15h-1.25zM558.85 855.16h1.25v1.15h-1.25zM554.01 858.99h1.25v1.15h-1.25zM560.75 855.9h1.25v1.15h-1.25zM552.18 854.57h1.25v1.15h-1.25zM555.3 855.25h1.25v1.15h-1.25zM556.17 855.42h1.25v1.15h-1.25zM559.98 856.88h1.25v1.15h-1.25zM552.38 858.49h1.25v1.15h-1.25zM557.67 855.21h1.25v1.15h-1.25zM554.41 857.67h1.25v1.15h-1.25zM555.36 855.15h1.25v1.15h-1.25zM557.89 854.23h1.25v1.15h-1.25zM564.16 857.33h1.25v1.15h-1.25zM557.95 857.3h1.25v1.15h-1.25zM564.13 854.37h1.25v1.15h-1.25zM553.88 855.56h1.25v1.15h-1.25zM563.72 858.54h1.25v1.15h-1.25zM556.43 858.77h1.25v1.15h-1.25zM554.16 858.64h1.25v1.15h-1.25zM561.43 854.59h1.25v1.15h-1.25zM563.56 855.12h1.25v1.15h-1.25zM551.79 858.67h1.25v1.15h-1.25zM555.19 855.01h1.25v1.15h-1.25zM561.72 854.19h1.25v1.15h-1.25zM556.14 855.92h1.25v1.15h-1.25zM554.84 857.57h1.25v1.15h-1.25zM551.81 856.51h1.25v1.15h-1.25zM552.22 858.75h1.25v1.15h-1.25zM559.75 859.37h1.25v1.15h-1.25zM564.49 854.24h1.25v1.15h-1.25zM564.68 855.96h1.25v1.15h-1.25zM558.25 856.62h1.25v1.15h-1.25zM552.01 854.44h1.25v1.15h-1.25zM555.89 857.12h1.25v1.15h-1.25zM561.94 854.77h1.25v1.15h-1.25zM562.52 855.02h1.25v1.15h-1.25zM560.01 858.32h1.25v1.15h-1.25zM554.68 858.1h1.25v1.15h-1.25zM558.55 857.88h1.25v1.15h-1.25zM557.91 858.16h1.25v1.15h-1.25zM559.85 856.3h1.25v1.15h-1.25zM555.11 858.06h1.25v1.15h-1.25zM564.01 857.2h1.25v1.15h-1.25zM563.33 858.75h1.25v1.15h-1.25zM553.81 854.57h1.25v1.15h-1.25zM555.49 857.55h1.25v1.15h-1.25zM563.05 856.99h1.25v1.15h-1.25zM555.32 856.32h1.25v1.15h-1.25zM560.86 849.97h1.25v1.15h-1.25zM558.29 852.02h1.25v1.15h-1.25zM559.38 849.91h1.25v1.15h-1.25zM559.43 851.67h1.25v1.15h-1.25zM556.48 851.55h1.25v1.15h-1.25zM556.91 851.58h1.25v1.15h-1.25zM556.73 853.72h1.25v1.15h-1.25zM559.3 851.93h1.25v1.15h-1.25zM559.36 853.02h1.25v1.15h-1.25zM555.99 853.78h1.25v1.15h-1.25zM558.35 785.44h1.25v1.15h-1.25zM558.17 800.69h1.25v1.15h-1.25zM558.1 836h1.25v1.15h-1.25zM558.16 840.24h1.25v1.15h-1.25zM558.68 843.91h1.25v1.15h-1.25zM558.32 846.74h1.25v1.15h-1.25zM558.5 848.15h1.25v1.15h-1.25z" fill="#c9ae82" stroke="none" stroke-width="1"/>
<line x1="558.75" y1="856.04" x2="558.75" y2="853.22" stroke="#a8946e" stroke-width="0.8"/>
<line x1="554.25" y1="853.22" x2="563.25" y2="853.22" stroke="#a8946e" stroke-width="0.8"/>
<line x1="554.25" y1="856.04" x2="563.25" y2="856.04" stroke="#a8946e" stroke-width="0.8"/>
<line x1="520.7" y1="746.5" x2="520.7" y2="860.5" stroke="#000" stroke-width="1"/>
<line x1="520.2" y1="860" x2="574.9" y2="860" stroke="#000" stroke-width="1"/>
<line x1="516.1" y1="860" x2="520.7" y2="860" stroke="#000" stroke-width="1"/>
<text x="514.3" y="863" font-size="8.5" text-anchor="end" fill="#000">0</text>
<line x1="516.1" y1="831.75" x2="520.7" y2="831.75" stroke="#000" stroke-width="1"/>
<text x="514.3" y="834.75" font-size="8.5" text-anchor="end" fill="#000">1</text>
<line x1="516.1" y1="803.5" x2="520.7" y2="803.5" stroke="#000" stroke-width="1"/>
<text x="514.3" y="806.5" font-size="8.5" text-anchor="end" fill="#000">2</text>
<line x1="516.1" y1="775.25" x2="520.7" y2="775.25" stroke="#000" stroke-width="1"/>
<text x="514.3" y="778.25" font-size="8.5" text-anchor="end" fill="#000">3</text>
<line x1="516.1" y1="747" x2="520.7" y2="747" stroke="#000" stroke-width="1"/>
<text x="514.3" y="750" font-size="8.5" text-anchor="end" fill="#000">4</text>
<line x1="535.8" y1="860" x2="535.8" y2="864.6" stroke="#000" stroke-width="1"/>
<text x="535.8" y="874.6" font-size="8.6" text-anchor="middle" fill="#000">High</text>
<line x1="558.75" y1="860" x2="558.75" y2="864.6" stroke="#000" stroke-width="1"/>
<text x="558.75" y="874.6" font-size="8.6" text-anchor="middle" fill="#000">Low</text>
<text x="548" y="722.7" font-size="11.3" text-anchor="middle" fill="#000">Cytotoxic T cells</text>
<text x="500.6" y="800.5" font-size="9" text-anchor="middle" fill="#000" transform="rotate(-90 500.6 800.5)">CD3<tspan dy="-2.97" font-size="5.58">+</tspan><tspan dy="2.97">GZMB</tspan><tspan dy="-2.97" font-size="5.58">+</tspan><tspan dy="2.97"> cells (%)</tspan></text>
<line x1="535.5" y1="747.9" x2="558.9" y2="747.9" stroke="#000" stroke-width="1"/>
<text x="545" y="743.4" font-size="10" text-anchor="middle"><tspan font-style="italic">P</tspan> = 0.027</text>
<text x="594" y="764.4" font-size="9.6" text-anchor="start" fill="#000">apCAFs group</text>
<rect x="593" y="777.4" width="12.3" height="5.3" fill="#8eaadb" stroke="none" stroke-width="1"/>
<text x="612.4" y="783.9" font-size="9.5" text-anchor="start" fill="#000">High (n = 70)</text>
<rect x="593" y="800.5" width="12.3" height="5.4" fill="#ddccac" stroke="none" stroke-width="1"/>
<text x="612.4" y="806.7" font-size="9.5" text-anchor="start" fill="#000">Low (n = 70)</text>
<text x="69" y="30.8" font-size="8.4" text-anchor="start" fill="#000">615 mice</text>
<path d="M74.5 63.4L51 62.4L65.3 85Z" fill="#d8e1f0" stroke="none" stroke-width="1"/>
<circle cx="49.4" cy="77.5" r="15" fill="#fff" stroke="#b3c6dc" stroke-width="0.8"/>
<circle cx="49.92" cy="69.1" r="1.6" fill="#2e9fda" stroke="none" stroke-width="1"/>
<circle cx="43.35" cy="72.78" r="1.6" fill="#2e9fda" stroke="none" stroke-width="1"/>
<circle cx="56.49" cy="73.57" r="1.6" fill="#2e9fda" stroke="none" stroke-width="1"/>
<circle cx="40.73" cy="79.35" r="1.6" fill="#2e9fda" stroke="none" stroke-width="1"/>
<circle cx="49.4" cy="77.77" r="1.6" fill="#2e9fda" stroke="none" stroke-width="1"/>
<circle cx="56.49" cy="80.14" r="1.6" fill="#2e9fda" stroke="none" stroke-width="1"/>
<circle cx="45.19" cy="84.87" r="1.6" fill="#2e9fda" stroke="none" stroke-width="1"/>
<circle cx="52.02" cy="86.18" r="1.6" fill="#2e9fda" stroke="none" stroke-width="1"/>
<text x="35" y="103.2" font-size="7.7" text-anchor="start" fill="#3a8fb8">MFC cells</text>
<g transform="translate(85.4 37) scale(1)">
<path d="M0 48C0.3 56 0.2 66 1.2 74C1.7 78.5 2.6 81.5 3.4 83" fill="none" stroke="#e9bdb5" stroke-width="1.2" stroke-linecap="round"/>
<path d="M-7 44.6C-7.54 44.3 -10.37 45.74 -11.5 46.3C-12.63 46.86 -15.86 48.81 -16.4 49.3C-16.94 49.79 -16.35 50.3 -16 50.4C-15.65 50.5 -14.04 50.12 -13.5 50.1C-12.96 50.08 -12.28 50.36 -11.5 50.2C-10.72 50.04 -7.54 49.47 -7 48.8C-6.46 48.13 -6.46 44.9 -7 44.6Z" fill="#eab4ab" stroke="none" stroke-width="1"/>
<path d="M-14.2 11.5L-16.3 8.5M-14 11.7L-14.8 8M-14.4 12.1L-17.2 10.7" fill="none" stroke="#e8aca3" stroke-width="0.85" stroke-linecap="round"/>
<path d="M7 44.6C7.54 44.3 10.37 45.74 11.5 46.3C12.63 46.86 15.86 48.81 16.4 49.3C16.94 49.79 16.35 50.3 16 50.4C15.65 50.5 14.04 50.12 13.5 50.1C12.96 50.08 12.28 50.36 11.5 50.2C10.72 50.04 7.54 49.47 7 48.8C6.46 48.13 6.46 44.9 7 44.6Z" fill="#eab4ab" stroke="none" stroke-width="1"/>
<path d="M14.2 11.5L16.3 8.5M14 11.7L14.8 8M14.4 12.1L17.2 10.7" fill="none" stroke="#e8aca3" stroke-width="0.85" stroke-linecap="round"/>
<circle cx="5.2" cy="7.9" r="2.6" fill="#e9ddd6" stroke="#cbc1b8" stroke-width="0.5"/>
<circle cx="5.5" cy="7.8" r="1.5" fill="#ecc6be" stroke="none" stroke-width="1"/>
<circle cx="-5.2" cy="7.9" r="2.6" fill="#e9ddd6" stroke="#cbc1b8" stroke-width="0.5"/>
<circle cx="-5.5" cy="7.8" r="1.5" fill="#ecc6be" stroke="none" stroke-width="1"/>
<path d="M0 10.3C-1.19 10.3 -2.48 10.87 -3.5 11.4C-4.52 11.93 -4.89 13.25 -6 13.4C-7.11 13.55 -8.67 12.81 -10 12.3C-11.33 11.79 -12.95 10.43 -13.8 10.4C-14.65 10.37 -15.03 11.5 -15 12.1C-14.97 12.7 -14.37 13.1 -13.6 13.9C-12.83 14.7 -11.4 15.73 -10.5 16.8C-9.6 17.87 -8.64 18.81 -8.3 20.2C-7.96 21.59 -8.24 22.99 -8.5 25C-8.76 27.01 -9.38 29.7 -9.8 32C-10.23 34.3 -10.86 36.55 -11 38.5C-11.14 40.45 -11.03 42.05 -10.6 43.5C-10.17 44.95 -9.62 46.13 -8.5 47C-7.38 47.87 -5.45 48.28 -4 48.6C-2.55 48.92 -1.36 48.9 0 48.9C1.36 48.9 2.55 48.92 4 48.6C5.45 48.28 7.38 47.87 8.5 47C9.62 46.13 10.17 44.95 10.6 43.5C11.03 42.05 11.14 40.45 11 38.5C10.86 36.55 10.23 34.3 9.8 32C9.38 29.7 8.76 27.01 8.5 25C8.24 22.99 7.96 21.59 8.3 20.2C8.64 18.81 9.6 17.87 10.5 16.8C11.4 15.73 12.83 14.7 13.6 13.9C14.37 13.1 14.97 12.7 15 12.1C15.03 11.5 14.65 10.37 13.8 10.4C12.95 10.43 11.33 11.79 10 12.3C8.67 12.81 7.11 13.55 6 13.4C4.89 13.25 4.52 11.93 3.5 11.4C2.48 10.87 1.19 10.3 0 10.3Z" fill="#e8e3de" stroke="#cbc1b8" stroke-width="0.55" stroke-linejoin="round"/>
<path d="M0 0C-0.58 0 -1.14 0.54 -1.7 1.3C-2.26 2.06 -2.84 3.36 -3.3 4.5C-3.76 5.64 -4.25 6.93 -4.4 8C-4.55 9.07 -4.57 10 -4.2 10.8C-3.83 11.6 -2.91 12.31 -2.2 12.7C-1.49 13.09 -0.75 13.1 0 13.1C0.75 13.1 1.49 13.09 2.2 12.7C2.91 12.31 3.83 11.6 4.2 10.8C4.57 10 4.55 9.07 4.4 8C4.25 6.93 3.76 5.64 3.3 4.5C2.84 3.36 2.26 2.06 1.7 1.3C1.14 0.54 0.58 0 0 0Z" fill="#ebe6e1" stroke="#cbc1b8" stroke-width="0.5"/>
<circle cx="0" cy="0.8" r="0.75" fill="#e3a59c" stroke="none" stroke-width="1"/>
<path d="M-7.5 40C-6 44 -3 46 0 46.3C3 46 6 44 7.5 40" fill="none" stroke="#d8cfc6" stroke-width="0.5"/>
</g>
<g transform="translate(51.8 46.1) rotate(37.54) scale(1)">
<rect x="0" y="-2.6" width="1.3" height="5.2" fill="#e3e6e9" stroke="#9aa3aa" stroke-width="0.4"/>
<rect x="1.3" y="-0.7" width="6.5" height="1.4" fill="#eef0f2" stroke="#9aa3aa" stroke-width="0.4"/>
<rect x="7.4" y="-2.9" width="1.2" height="5.8" fill="#e3e6e9" stroke="#9aa3aa" stroke-width="0.4"/>
<rect x="8.6" y="-1.9" width="15" height="3.8" fill="#f3f5f7" stroke="#98a1a8" stroke-width="0.45"/>
<line x1="11" y1="-1.9" x2="11" y2="0" stroke="#b5bcc2" stroke-width="0.3"/>
<line x1="13" y1="-1.9" x2="13" y2="0" stroke="#b5bcc2" stroke-width="0.3"/>
<line x1="15" y1="-1.9" x2="15" y2="0" stroke="#b5bcc2" stroke-width="0.3"/>
<line x1="17" y1="-1.9" x2="17" y2="0" stroke="#b5bcc2" stroke-width="0.3"/>
<rect x="19" y="-1.9" width="4.6" height="3.8" fill="#3390c4" stroke="#2a6f9c" stroke-width="0.3"/>
<rect x="23.6" y="-1.1" width="2.6" height="2.2" fill="#2d8aa0" stroke="none" stroke-width="1"/>
<line x1="26.2" y1="0" x2="36" y2="0" stroke="#5d8c9f" stroke-width="0.5"/>
</g>
<g transform="translate(141.9 37) scale(1)">
<path d="M0 48C0.3 56 0.2 66 1.2 74C1.7 78.5 2.6 81.5 3.4 83" fill="none" stroke="#e9bdb5" stroke-width="1.2" stroke-linecap="round"/>
<path d="M-7 44.6C-7.54 44.3 -10.37 45.74 -11.5 46.3C-12.63 46.86 -15.86 48.81 -16.4 49.3C-16.94 49.79 -16.35 50.3 -16 50.4C-15.65 50.5 -14.04 50.12 -13.5 50.1C-12.96 50.08 -12.28 50.36 -11.5 50.2C-10.72 50.04 -7.54 49.47 -7 48.8C-6.46 48.13 -6.46 44.9 -7 44.6Z" fill="#eab4ab" stroke="none" stroke-width="1"/>
<path d="M-14.2 11.5L-16.3 8.5M-14 11.7L-14.8 8M-14.4 12.1L-17.2 10.7" fill="none" stroke="#e8aca3" stroke-width="0.85" stroke-linecap="round"/>
<path d="M7 44.6C7.54 44.3 10.37 45.74 11.5 46.3C12.63 46.86 15.86 48.81 16.4 49.3C16.94 49.79 16.35 50.3 16 50.4C15.65 50.5 14.04 50.12 13.5 50.1C12.96 50.08 12.28 50.36 11.5 50.2C10.72 50.04 7.54 49.47 7 48.8C6.46 48.13 6.46 44.9 7 44.6Z" fill="#eab4ab" stroke="none" stroke-width="1"/>
<path d="M14.2 11.5L16.3 8.5M14 11.7L14.8 8M14.4 12.1L17.2 10.7" fill="none" stroke="#e8aca3" stroke-width="0.85" stroke-linecap="round"/>
<circle cx="5.2" cy="7.9" r="2.6" fill="#e9ddd6" stroke="#cbc1b8" stroke-width="0.5"/>
<circle cx="5.5" cy="7.8" r="1.5" fill="#ecc6be" stroke="none" stroke-width="1"/>
<circle cx="-5.2" cy="7.9" r="2.6" fill="#e9ddd6" stroke="#cbc1b8" stroke-width="0.5"/>
<circle cx="-5.5" cy="7.8" r="1.5" fill="#ecc6be" stroke="none" stroke-width="1"/>
<path d="M0 10.3C-1.19 10.3 -2.48 10.87 -3.5 11.4C-4.52 11.93 -4.89 13.25 -6 13.4C-7.11 13.55 -8.67 12.81 -10 12.3C-11.33 11.79 -12.95 10.43 -13.8 10.4C-14.65 10.37 -15.03 11.5 -15 12.1C-14.97 12.7 -14.37 13.1 -13.6 13.9C-12.83 14.7 -11.4 15.73 -10.5 16.8C-9.6 17.87 -8.64 18.81 -8.3 20.2C-7.96 21.59 -8.24 22.99 -8.5 25C-8.76 27.01 -9.38 29.7 -9.8 32C-10.23 34.3 -10.86 36.55 -11 38.5C-11.14 40.45 -11.03 42.05 -10.6 43.5C-10.17 44.95 -9.62 46.13 -8.5 47C-7.38 47.87 -5.45 48.28 -4 48.6C-2.55 48.92 -1.36 48.9 0 48.9C1.36 48.9 2.55 48.92 4 48.6C5.45 48.28 7.38 47.87 8.5 47C9.62 46.13 10.17 44.95 10.6 43.5C11.03 42.05 11.14 40.45 11 38.5C10.86 36.55 10.23 34.3 9.8 32C9.38 29.7 8.76 27.01 8.5 25C8.24 22.99 7.96 21.59 8.3 20.2C8.64 18.81 9.6 17.87 10.5 16.8C11.4 15.73 12.83 14.7 13.6 13.9C14.37 13.1 14.97 12.7 15 12.1C15.03 11.5 14.65 10.37 13.8 10.4C12.95 10.43 11.33 11.79 10 12.3C8.67 12.81 7.11 13.55 6 13.4C4.89 13.25 4.52 11.93 3.5 11.4C2.48 10.87 1.19 10.3 0 10.3Z" fill="#e8e3de" stroke="#cbc1b8" stroke-width="0.55" stroke-linejoin="round"/>
<path d="M0 0C-0.58 0 -1.14 0.54 -1.7 1.3C-2.26 2.06 -2.84 3.36 -3.3 4.5C-3.76 5.64 -4.25 6.93 -4.4 8C-4.55 9.07 -4.57 10 -4.2 10.8C-3.83 11.6 -2.91 12.31 -2.2 12.7C-1.49 13.09 -0.75 13.1 0 13.1C0.75 13.1 1.49 13.09 2.2 12.7C2.91 12.31 3.83 11.6 4.2 10.8C4.57 10 4.55 9.07 4.4 8C4.25 6.93 3.76 5.64 3.3 4.5C2.84 3.36 2.26 2.06 1.7 1.3C1.14 0.54 0.58 0 0 0Z" fill="#ebe6e1" stroke="#cbc1b8" stroke-width="0.5"/>
<circle cx="0" cy="0.8" r="0.75" fill="#e3a59c" stroke="none" stroke-width="1"/>
<path d="M-7.5 40C-6 44 -3 46 0 46.3C3 46 6 44 7.5 40" fill="none" stroke="#d8cfc6" stroke-width="0.5"/>
<ellipse cx="-2.7" cy="32.8" rx="3.8" ry="3.4" fill="#c7452f" transform="rotate(-20 -2.7 32.8)"/>
</g>
<line x1="101.3" y1="62.6" x2="122.36" y2="62.6" stroke="#111" stroke-width="0.75"/>
<path d="M126.6 62.6L121.3 64.65L122.78 62.6L121.3 60.55Z" fill="#111" stroke="none" stroke-width="1"/>
<path d="M146.5 64.6C152 61.5 160 62.4 168.96 62.47" fill="none" stroke="#111" stroke-width="0.75"/>
<path d="M173.2 62.5L167.88 64.51L169.38 62.47L167.92 60.41Z" fill="#111" stroke="none" stroke-width="1"/>
<line x1="184.6" y1="43.1" x2="184.6" y2="66.6" stroke="#2f5f82" stroke-width="1.15"/>
<line x1="193.6" y1="43.1" x2="193.6" y2="66.6" stroke="#2f5f82" stroke-width="1.15"/>
<path d="M176.4 51.5V67.3L184.6 73.9V84.7" fill="none" stroke="#2f5f82" stroke-width="1.15" stroke-linejoin="round"/>
<path d="M202.3 51.5V67.3L193.6 73.9V84.7" fill="none" stroke="#2f5f82" stroke-width="1.15" stroke-linejoin="round"/>
<circle cx="189.1" cy="45" r="1.7" fill="#d9846d" stroke="none" stroke-width="1"/>
<circle cx="189.1" cy="52.5" r="1.7" fill="#d9846d" stroke="none" stroke-width="1"/>
<circle cx="189.1" cy="60" r="1.7" fill="#d9846d" stroke="none" stroke-width="1"/>
<circle cx="189.1" cy="67.6" r="1.7" fill="#d9846d" stroke="none" stroke-width="1"/>
<circle cx="189.1" cy="75.1" r="1.7" fill="#d9846d" stroke="none" stroke-width="1"/>
<circle cx="189.1" cy="82.6" r="1.7" fill="#d9846d" stroke="none" stroke-width="1"/>
<text x="190.5" y="97.4" font-size="7.1" text-anchor="middle" fill="#000">FCS</text>
<line x1="207.4" y1="57.1" x2="223.06" y2="50.18" stroke="#111" stroke-width="0.8"/>
<path d="M227.3 48.3L222.89 52.66L223.48 49.99L221.11 48.63Z" fill="#111" stroke="none" stroke-width="1"/>
<line x1="207.4" y1="72.9" x2="223.02" y2="79.41" stroke="#111" stroke-width="0.8"/>
<path d="M227.3 81.2L221.1 81L223.45 79.59L222.79 76.94Z" fill="#111" stroke="none" stroke-width="1"/>
<path d="M225.61 24.25C226.03 23.66 233.05 23.13 235.18 22.61C237.31 22.09 241.68 20.39 243.36 19.93C245.04 19.46 248.1 19.32 249.2 18.76C250.29 18.2 252.12 15.12 252.47 15.26C252.82 15.4 251.81 19.16 252.12 19.93C252.43 20.7 255.32 21.22 255.04 21.68C254.76 22.14 250.97 22.94 249.78 23.78C248.59 24.62 246.02 27.33 245.11 28.69C244.2 30.05 242.68 33.36 242.19 35.11C241.7 36.86 241.44 42.79 241.02 43.28C240.6 43.78 239.25 40.18 238.69 39.2C238.13 38.22 236.74 36.09 236.35 35.11C235.96 34.13 235.98 31.93 235.42 31.02C234.86 30.11 232.86 28.33 231.68 27.52C230.5 26.71 225.19 24.84 225.61 24.25Z" fill="#d9ab4c" stroke="#c99a3a" stroke-width="0.4" stroke-linejoin="round"/>
<ellipse cx="241.02" cy="25.77" rx="2.57" ry="2.92" fill="#b5850f"/>
<path d="M254.45 31.02C254.66 30.15 258.21 25.23 259.12 24.95C260.04 24.67 260.85 27.89 262.04 28.69C263.24 29.48 267.37 31.26 269.05 31.61C270.73 31.96 274.24 31.98 276.06 31.61C277.88 31.23 283.81 28.31 284.23 28.45C284.65 28.59 280.12 31.69 279.56 32.77C279 33.85 280.05 36.67 279.56 37.45C279.07 38.22 276.25 38.29 275.47 39.2C274.7 40.11 273.35 43.64 273.14 45.04C272.93 46.44 274.07 50.88 273.72 50.88C273.37 50.88 271.13 46.23 270.22 45.04C269.31 43.85 267.25 42.14 266.13 40.95C265.01 39.76 261.93 36.16 260.88 35.11C259.82 34.06 258.14 32.68 257.37 32.19C256.6 31.7 254.24 31.89 254.45 31.02Z" fill="#d9ab4c" stroke="#c99a3a" stroke-width="0.4" stroke-linejoin="round"/>
<ellipse cx="268.47" cy="36.28" rx="2.92" ry="2.57" fill="#b5850f"/>
<path d="M235.18 47.96C235.67 47.19 240.79 44.85 242.19 43.87C243.59 42.89 245.91 40.97 246.86 39.78C247.81 38.59 249.64 35.41 250.13 33.94C250.62 32.47 250.71 27.38 250.95 27.52C251.19 27.66 251.56 34.06 252.12 35.11C252.68 36.16 255.34 35.86 255.62 36.28C255.9 36.7 254.24 37.77 254.45 38.61C254.66 39.45 256.18 42.16 257.37 43.28C258.56 44.41 264.24 47.47 264.38 47.96C264.52 48.45 260.08 47.16 258.54 47.37C257 47.58 253.21 49.29 251.53 49.71C249.85 50.13 245.86 50.53 244.53 50.88C243.19 51.23 241.28 52.14 240.44 52.63C239.6 53.12 237.8 55.24 237.52 54.96C237.24 54.68 238.38 51.13 238.1 50.29C237.82 49.45 234.69 48.73 235.18 47.96Z" fill="#d9ab4c" stroke="#c99a3a" stroke-width="0.4" stroke-linejoin="round"/>
<ellipse cx="249.78" cy="45.04" rx="2.92" ry="2.34" fill="#b5850f"/>
<text x="259.8" y="62.1" font-size="7.3" text-anchor="middle" fill="#000">apCAFs</text>
<path d="M221.2 96.34C221.35 96.04 227.19 95.26 227.41 94.85C227.63 94.45 222.77 93.07 223.07 92.99C223.36 92.92 228.03 93.79 229.89 94.23C231.75 94.68 236.64 95.82 238.58 96.71C240.51 97.61 244.23 100.56 246.02 101.68C247.81 102.8 251.9 105.08 253.47 106.02C255.03 106.96 258.9 109.12 259.05 109.5C259.2 109.87 254.86 108.42 254.71 109.12C254.56 109.82 258.11 115.1 257.81 115.33C257.51 115.55 253.79 111.8 252.23 110.98C250.66 110.17 246.57 109.25 244.78 108.5C242.99 107.76 238.97 105.9 237.34 104.78C235.7 103.66 232.47 100.09 231.13 99.2C229.79 98.3 227.36 97.68 226.17 97.34C224.98 96.99 221.06 96.64 221.2 96.34Z" fill="#d9d5ee" stroke="#b3acd9" stroke-width="0.55" stroke-linejoin="round"/>
<ellipse cx="241.68" cy="102.3" rx="3.72" ry="2.23" fill="#beb7e1" transform="rotate(25 241.68 102.3)"/>
<path d="M243.79 97.58C244.31 96.76 249.23 94.61 250.98 93.61C252.74 92.62 256.49 90.19 258.43 89.27C260.37 88.35 265.03 86.44 267.12 85.92C269.2 85.4 274.16 85.17 275.8 84.93C277.44 84.69 280.62 83.76 280.76 83.93C280.91 84.11 276.82 85.92 277.04 86.42C277.27 86.91 282.92 87.69 282.63 88.03C282.33 88.37 276.27 88.6 274.56 89.27C272.85 89.94 269.99 92.64 268.36 93.61C266.72 94.58 262.7 96.67 260.91 97.34C259.12 98.01 254.96 98.97 253.47 99.2C251.98 99.42 249.32 99.05 248.5 99.2C247.68 99.35 247.21 100.63 246.64 100.44C246.08 100.24 243.27 98.4 243.79 97.58Z" fill="#d9d5ee" stroke="#b3acd9" stroke-width="0.55" stroke-linejoin="round"/>
<ellipse cx="261.53" cy="92.12" rx="3.72" ry="2.11" fill="#beb7e1" transform="rotate(-20 261.53 92.12)"/>
<path d="M252.23 104.16C252.23 103.64 256.64 100.52 258.43 99.82C260.22 99.12 264.88 98.55 267.12 98.33C269.35 98.1 274.81 97.78 277.04 97.96C279.28 98.13 283.87 99.22 285.73 99.82C287.59 100.41 292.18 102.44 292.55 102.92C292.93 103.4 288.79 103.24 288.83 103.79C288.88 104.34 293.3 107.32 292.93 107.51C292.55 107.7 287.63 105.58 285.73 105.4C283.82 105.22 279.28 105.95 277.04 106.02C274.81 106.1 269.35 106.24 267.12 106.02C264.88 105.8 260.22 104.38 258.43 104.16C256.64 103.94 252.23 104.68 252.23 104.16Z" fill="#d9d5ee" stroke="#b3acd9" stroke-width="0.55" stroke-linejoin="round"/>
<ellipse cx="272.33" cy="101.93" rx="3.97" ry="1.99" fill="#beb7e1" transform="rotate(0 272.33 101.93)"/>
<text x="260.9" y="128.6" font-size="7.2" text-anchor="middle" fill="#000">MHC II<tspan dy="-2.38" font-size="4.46">-</tspan><tspan dy="2.38"> CAFs</tspan></text>
<text x="294.4" y="28.3" font-size="8.7" text-anchor="start" fill="#000">+ MFC cells</text>
<text x="294.4" y="91.2" font-size="8.7" text-anchor="start" fill="#000">+ MFC cells</text>
<line x1="292" y1="35.4" x2="341.06" y2="35.4" stroke="#111" stroke-width="0.75"/>
<path d="M345.3 35.4L340 37.45L341.48 35.4L340 33.35Z" fill="#111" stroke="none" stroke-width="1"/>
<line x1="292" y1="97.5" x2="341.06" y2="97.5" stroke="#111" stroke-width="0.75"/>
<path d="M345.3 97.5L340 99.55L341.48 97.5L340 95.45Z" fill="#111" stroke="none" stroke-width="1"/>
<g transform="translate(366.5 14.5) scale(0.6)">
<path d="M0 48C0.3 56 0.2 66 1.2 74C1.7 78.5 2.6 81.5 3.4 83" fill="none" stroke="#e9bdb5" stroke-width="1.2" stroke-linecap="round"/>
<path d="M-7 44.6C-7.54 44.3 -10.37 45.74 -11.5 46.3C-12.63 46.86 -15.86 48.81 -16.4 49.3C-16.94 49.79 -16.35 50.3 -16 50.4C-15.65 50.5 -14.04 50.12 -13.5 50.1C-12.96 50.08 -12.28 50.36 -11.5 50.2C-10.72 50.04 -7.54 49.47 -7 48.8C-6.46 48.13 -6.46 44.9 -7 44.6Z" fill="#eab4ab" stroke="none" stroke-width="1"/>
<path d="M-14.2 11.5L-16.3 8.5M-14 11.7L-14.8 8M-14.4 12.1L-17.2 10.7" fill="none" stroke="#e8aca3" stroke-width="0.85" stroke-linecap="round"/>
<path d="M7 44.6C7.54 44.3 10.37 45.74 11.5 46.3C12.63 46.86 15.86 48.81 16.4 49.3C16.94 49.79 16.35 50.3 16 50.4C15.65 50.5 14.04 50.12 13.5 50.1C12.96 50.08 12.28 50.36 11.5 50.2C10.72 50.04 7.54 49.47 7 48.8C6.46 48.13 6.46 44.9 7 44.6Z" fill="#eab4ab" stroke="none" stroke-width="1"/>
<path d="M14.2 11.5L16.3 8.5M14 11.7L14.8 8M14.4 12.1L17.2 10.7" fill="none" stroke="#e8aca3" stroke-width="0.85" stroke-linecap="round"/>
<circle cx="5.2" cy="7.9" r="2.6" fill="#e9ddd6" stroke="#cbc1b8" stroke-width="0.5"/>
<circle cx="5.5" cy="7.8" r="1.5" fill="#ecc6be" stroke="none" stroke-width="1"/>
<circle cx="-5.2" cy="7.9" r="2.6" fill="#e9ddd6" stroke="#cbc1b8" stroke-width="0.5"/>
<circle cx="-5.5" cy="7.8" r="1.5" fill="#ecc6be" stroke="none" stroke-width="1"/>
<path d="M0 10.3C-1.19 10.3 -2.48 10.87 -3.5 11.4C-4.52 11.93 -4.89 13.25 -6 13.4C-7.11 13.55 -8.67 12.81 -10 12.3C-11.33 11.79 -12.95 10.43 -13.8 10.4C-14.65 10.37 -15.03 11.5 -15 12.1C-14.97 12.7 -14.37 13.1 -13.6 13.9C-12.83 14.7 -11.4 15.73 -10.5 16.8C-9.6 17.87 -8.64 18.81 -8.3 20.2C-7.96 21.59 -8.24 22.99 -8.5 25C-8.76 27.01 -9.38 29.7 -9.8 32C-10.23 34.3 -10.86 36.55 -11 38.5C-11.14 40.45 -11.03 42.05 -10.6 43.5C-10.17 44.95 -9.62 46.13 -8.5 47C-7.38 47.87 -5.45 48.28 -4 48.6C-2.55 48.92 -1.36 48.9 0 48.9C1.36 48.9 2.55 48.92 4 48.6C5.45 48.28 7.38 47.87 8.5 47C9.62 46.13 10.17 44.95 10.6 43.5C11.03 42.05 11.14 40.45 11 38.5C10.86 36.55 10.23 34.3 9.8 32C9.38 29.7 8.76 27.01 8.5 25C8.24 22.99 7.96 21.59 8.3 20.2C8.64 18.81 9.6 17.87 10.5 16.8C11.4 15.73 12.83 14.7 13.6 13.9C14.37 13.1 14.97 12.7 15 12.1C15.03 11.5 14.65 10.37 13.8 10.4C12.95 10.43 11.33 11.79 10 12.3C8.67 12.81 7.11 13.55 6 13.4C4.89 13.25 4.52 11.93 3.5 11.4C2.48 10.87 1.19 10.3 0 10.3Z" fill="#e8e3de" stroke="#cbc1b8" stroke-width="0.55" stroke-linejoin="round"/>
<path d="M0 0C-0.58 0 -1.14 0.54 -1.7 1.3C-2.26 2.06 -2.84 3.36 -3.3 4.5C-3.76 5.64 -4.25 6.93 -4.4 8C-4.55 9.07 -4.57 10 -4.2 10.8C-3.83 11.6 -2.91 12.31 -2.2 12.7C-1.49 13.09 -0.75 13.1 0 13.1C0.75 13.1 1.49 13.09 2.2 12.7C2.91 12.31 3.83 11.6 4.2 10.8C4.57 10 4.55 9.07 4.4 8C4.25 6.93 3.76 5.64 3.3 4.5C2.84 3.36 2.26 2.06 1.7 1.3C1.14 0.54 0.58 0 0 0Z" fill="#ebe6e1" stroke="#cbc1b8" stroke-width="0.5"/>
<circle cx="0" cy="0.8" r="0.75" fill="#e3a59c" stroke="none" stroke-width="1"/>
<path d="M-7.5 40C-6 44 -3 46 0 46.3C3 46 6 44 7.5 40" fill="none" stroke="#d8cfc6" stroke-width="0.5"/>
</g>
<g transform="translate(366.5 76.7) scale(0.6)">
<path d="M0 48C0.3 56 0.2 66 1.2 74C1.7 78.5 2.6 81.5 3.4 83" fill="none" stroke="#e9bdb5" stroke-width="1.2" stroke-linecap="round"/>
<path d="M-7 44.6C-7.54 44.3 -10.37 45.74 -11.5 46.3C-12.63 46.86 -15.86 48.81 -16.4 49.3C-16.94 49.79 -16.35 50.3 -16 50.4C-15.65 50.5 -14.04 50.12 -13.5 50.1C-12.96 50.08 -12.28 50.36 -11.5 50.2C-10.72 50.04 -7.54 49.47 -7 48.8C-6.46 48.13 -6.46 44.9 -7 44.6Z" fill="#eab4ab" stroke="none" stroke-width="1"/>
<path d="M-14.2 11.5L-16.3 8.5M-14 11.7L-14.8 8M-14.4 12.1L-17.2 10.7" fill="none" stroke="#e8aca3" stroke-width="0.85" stroke-linecap="round"/>
<path d="M7 44.6C7.54 44.3 10.37 45.74 11.5 46.3C12.63 46.86 15.86 48.81 16.4 49.3C16.94 49.79 16.35 50.3 16 50.4C15.65 50.5 14.04 50.12 13.5 50.1C12.96 50.08 12.28 50.36 11.5 50.2C10.72 50.04 7.54 49.47 7 48.8C6.46 48.13 6.46 44.9 7 44.6Z" fill="#eab4ab" stroke="none" stroke-width="1"/>
<path d="M14.2 11.5L16.3 8.5M14 11.7L14.8 8M14.4 12.1L17.2 10.7" fill="none" stroke="#e8aca3" stroke-width="0.85" stroke-linecap="round"/>
<circle cx="5.2" cy="7.9" r="2.6" fill="#e9ddd6" stroke="#cbc1b8" stroke-width="0.5"/>
<circle cx="5.5" cy="7.8" r="1.5" fill="#ecc6be" stroke="none" stroke-width="1"/>
<circle cx="-5.2" cy="7.9" r="2.6" fill="#e9ddd6" stroke="#cbc1b8" stroke-width="0.5"/>
<circle cx="-5.5" cy="7.8" r="1.5" fill="#ecc6be" stroke="none" stroke-width="1"/>
<path d="M0 10.3C-1.19 10.3 -2.48 10.87 -3.5 11.4C-4.52 11.93 -4.89 13.25 -6 13.4C-7.11 13.55 -8.67 12.81 -10 12.3C-11.33 11.79 -12.95 10.43 -13.8 10.4C-14.65 10.37 -15.03 11.5 -15 12.1C-14.97 12.7 -14.37 13.1 -13.6 13.9C-12.83 14.7 -11.4 15.73 -10.5 16.8C-9.6 17.87 -8.64 18.81 -8.3 20.2C-7.96 21.59 -8.24 22.99 -8.5 25C-8.76 27.01 -9.38 29.7 -9.8 32C-10.23 34.3 -10.86 36.55 -11 38.5C-11.14 40.45 -11.03 42.05 -10.6 43.5C-10.17 44.95 -9.62 46.13 -8.5 47C-7.38 47.87 -5.45 48.28 -4 48.6C-2.55 48.92 -1.36 48.9 0 48.9C1.36 48.9 2.55 48.92 4 48.6C5.45 48.28 7.38 47.87 8.5 47C9.62 46.13 10.17 44.95 10.6 43.5C11.03 42.05 11.14 40.45 11 38.5C10.86 36.55 10.23 34.3 9.8 32C9.38 29.7 8.76 27.01 8.5 25C8.24 22.99 7.96 21.59 8.3 20.2C8.64 18.81 9.6 17.87 10.5 16.8C11.4 15.73 12.83 14.7 13.6 13.9C14.37 13.1 14.97 12.7 15 12.1C15.03 11.5 14.65 10.37 13.8 10.4C12.95 10.43 11.33 11.79 10 12.3C8.67 12.81 7.11 13.55 6 13.4C4.89 13.25 4.52 11.93 3.5 11.4C2.48 10.87 1.19 10.3 0 10.3Z" fill="#e8e3de" stroke="#cbc1b8" stroke-width="0.55" stroke-linejoin="round"/>
<path d="M0 0C-0.58 0 -1.14 0.54 -1.7 1.3C-2.26 2.06 -2.84 3.36 -3.3 4.5C-3.76 5.64 -4.25 6.93 -4.4 8C-4.55 9.07 -4.57 10 -4.2 10.8C-3.83 11.6 -2.91 12.31 -2.2 12.7C-1.49 13.09 -0.75 13.1 0 13.1C0.75 13.1 1.49 13.09 2.2 12.7C2.91 12.31 3.83 11.6 4.2 10.8C4.57 10 4.55 9.07 4.4 8C4.25 6.93 3.76 5.64 3.3 4.5C2.84 3.36 2.26 2.06 1.7 1.3C1.14 0.54 0.58 0 0 0Z" fill="#ebe6e1" stroke="#cbc1b8" stroke-width="0.5"/>
<circle cx="0" cy="0.8" r="0.75" fill="#e3a59c" stroke="none" stroke-width="1"/>
<path d="M-7.5 40C-6 44 -3 46 0 46.3C3 46 6 44 7.5 40" fill="none" stroke="#d8cfc6" stroke-width="0.5"/>
</g>
<g transform="translate(346.7 17.9) rotate(37.23) scale(0.54)">
<rect x="0" y="-2.6" width="1.3" height="5.2" fill="#e3e6e9" stroke="#9aa3aa" stroke-width="0.4"/>
<rect x="1.3" y="-0.7" width="6.5" height="1.4" fill="#eef0f2" stroke="#9aa3aa" stroke-width="0.4"/>
<rect x="7.4" y="-2.9" width="1.2" height="5.8" fill="#e3e6e9" stroke="#9aa3aa" stroke-width="0.4"/>
<rect x="8.6" y="-1.9" width="15" height="3.8" fill="#f3f5f7" stroke="#98a1a8" stroke-width="0.45"/>
<line x1="11" y1="-1.9" x2="11" y2="0" stroke="#b5bcc2" stroke-width="0.3"/>
<line x1="13" y1="-1.9" x2="13" y2="0" stroke="#b5bcc2" stroke-width="0.3"/>
<line x1="15" y1="-1.9" x2="15" y2="0" stroke="#b5bcc2" stroke-width="0.3"/>
<line x1="17" y1="-1.9" x2="17" y2="0" stroke="#b5bcc2" stroke-width="0.3"/>
<rect x="19" y="-1.9" width="4.6" height="3.8" fill="#3390c4" stroke="#2a6f9c" stroke-width="0.3"/>
<rect x="23.6" y="-1.1" width="2.6" height="2.2" fill="#2d8aa0" stroke="none" stroke-width="1"/>
<line x1="26.2" y1="0" x2="36" y2="0" stroke="#5d8c9f" stroke-width="0.5"/>
</g>
<g transform="translate(346.7 80) rotate(37.23) scale(0.54)">
<rect x="0" y="-2.6" width="1.3" height="5.2" fill="#e3e6e9" stroke="#9aa3aa" stroke-width="0.4"/>
<rect x="1.3" y="-0.7" width="6.5" height="1.4" fill="#eef0f2" stroke="#9aa3aa" stroke-width="0.4"/>
<rect x="7.4" y="-2.9" width="1.2" height="5.8" fill="#e3e6e9" stroke="#9aa3aa" stroke-width="0.4"/>
<rect x="8.6" y="-1.9" width="15" height="3.8" fill="#f3f5f7" stroke="#98a1a8" stroke-width="0.45"/>
<line x1="11" y1="-1.9" x2="11" y2="0" stroke="#b5bcc2" stroke-width="0.3"/>
<line x1="13" y1="-1.9" x2="13" y2="0" stroke="#b5bcc2" stroke-width="0.3"/>
<line x1="15" y1="-1.9" x2="15" y2="0" stroke="#b5bcc2" stroke-width="0.3"/>
<line x1="17" y1="-1.9" x2="17" y2="0" stroke="#b5bcc2" stroke-width="0.3"/>
<rect x="19" y="-1.9" width="4.6" height="3.8" fill="#3390c4" stroke="#2a6f9c" stroke-width="0.3"/>
<rect x="23.6" y="-1.1" width="2.6" height="2.2" fill="#2d8aa0" stroke="none" stroke-width="1"/>
<line x1="26.2" y1="0" x2="36" y2="0" stroke="#5d8c9f" stroke-width="0.5"/>
</g>
<defs><filter id="sp1" x="-10%" y="-10%" width="120%" height="120%"><feTurbulence type="fractalNoise" baseFrequency="1.3" numOctaves="1" seed="4" result="lo"/><feDisplacementMap in="SourceGraphic" in2="lo" scale="4.5" xChannelSelector="R" yChannelSelector="G" result="d"/><feTurbulence type="fractalNoise" baseFrequency="1.1" numOctaves="2" seed="8" result="n"/><feColorMatrix in="n" type="matrix" values="0 0 0 0 0 0 0 0 0 0 0 0 0 0 0 0 0 0 5 -2.8" result="m"/><feComposite in="d" in2="m" operator="out"/></filter><filter id="sp2" x="-10%" y="-10%" width="120%" height="120%"><feTurbulence type="fractalNoise" baseFrequency="1.3" numOctaves="1" seed="9" result="lo"/><feDisplacementMap in="SourceGraphic" in2="lo" scale="4.5" xChannelSelector="R" yChannelSelector="G" result="d"/><feTurbulence type="fractalNoise" baseFrequency="1.1" numOctaves="2" seed="2" result="n"/><feColorMatrix in="n" type="matrix" values="0 0 0 0 0 0 0 0 0 0 0 0 0 0 0 0 0 0 5 -2.5" result="m"/><feComposite in="d" in2="m" operator="out"/></filter><filter id="sp3" x="-10%" y="-10%" width="120%" height="120%"><feTurbulence type="fractalNoise" baseFrequency="1.3" numOctaves="1" seed="3" result="lo"/><feDisplacementMap in="SourceGraphic" in2="lo" scale="4.5" xChannelSelector="R" yChannelSelector="G" result="d"/><feTurbulence type="fractalNoise" baseFrequency="1.1" numOctaves="2" seed="6" result="n"/><feColorMatrix in="n" type="matrix" values="0 0 0 0 0 0 0 0 0 0 0 0 0 0 0 0 0 0 4 -2.48" result="m"/><feComposite in="d" in2="m" operator="out"/></filter></defs>
<line x1="41.4" y1="195.3" x2="41.4" y2="310.6" stroke="#222" stroke-width="0.8"/>
<line x1="39.6" y1="212.9" x2="41.4" y2="212.9" stroke="#222" stroke-width="0.6"/>
<line x1="39.6" y1="239.2" x2="41.4" y2="239.2" stroke="#222" stroke-width="0.6"/>
<line x1="39.6" y1="265.5" x2="41.4" y2="265.5" stroke="#222" stroke-width="0.6"/>
<line x1="39.6" y1="292" x2="41.4" y2="292" stroke="#222" stroke-width="0.6"/>
<line x1="41.4" y1="310.2" x2="163.8" y2="310.2" stroke="#222" stroke-width="0.8"/>
<line x1="43.4" y1="310.2" x2="43.4" y2="312" stroke="#222" stroke-width="0.6"/>
<line x1="70.4" y1="310.2" x2="70.4" y2="312" stroke="#222" stroke-width="0.6"/>
<line x1="97.6" y1="310.2" x2="97.6" y2="312" stroke="#222" stroke-width="0.6"/>
<line x1="124.8" y1="310.2" x2="124.8" y2="312" stroke="#222" stroke-width="0.6"/>
<line x1="152" y1="310.2" x2="152" y2="312" stroke="#222" stroke-width="0.6"/>
<line x1="167.4" y1="310.2" x2="290.3" y2="310.2" stroke="#222" stroke-width="0.8"/>
<line x1="169.4" y1="310.2" x2="169.4" y2="312" stroke="#222" stroke-width="0.6"/>
<line x1="196.4" y1="310.2" x2="196.4" y2="312" stroke="#222" stroke-width="0.6"/>
<line x1="223.6" y1="310.2" x2="223.6" y2="312" stroke="#222" stroke-width="0.6"/>
<line x1="250.8" y1="310.2" x2="250.8" y2="312" stroke="#222" stroke-width="0.6"/>
<line x1="278" y1="310.2" x2="278" y2="312" stroke="#222" stroke-width="0.6"/>
<line x1="293.7" y1="310.2" x2="416.5" y2="310.2" stroke="#222" stroke-width="0.8"/>
<line x1="295.7" y1="310.2" x2="295.7" y2="312" stroke="#222" stroke-width="0.6"/>
<line x1="322.7" y1="310.2" x2="322.7" y2="312" stroke="#222" stroke-width="0.6"/>
<line x1="349.9" y1="310.2" x2="349.9" y2="312" stroke="#222" stroke-width="0.6"/>
<line x1="377.1" y1="310.2" x2="377.1" y2="312" stroke="#222" stroke-width="0.6"/>
<line x1="404.3" y1="310.2" x2="404.3" y2="312" stroke="#222" stroke-width="0.6"/>
<text x="32" y="286" font-size="8" text-anchor="middle" fill="#000" transform="rotate(-90 32 286)">UMAP2</text>
<text x="49.4" y="325.2" font-size="8" text-anchor="start" fill="#000">UMAP1</text>
<text x="94" y="184.5" font-size="10.5" text-anchor="middle" fill="#000">Con</text>
<text x="240" y="184.5" font-size="10.5" text-anchor="middle" fill="#000">MHC II<tspan dy="-3.47" font-size="6.51">-</tspan><tspan dy="3.47"> CAFs</tspan></text>
<text x="359.8" y="184.5" font-size="10.5" text-anchor="middle" fill="#000">apCAFs</text>
<path d="M56.59 207.69C58.04 207.69 60.93 208.02 63.29 209.18C65.65 210.34 68.46 212.08 70.74 214.64C73.01 217.2 75.16 221.34 76.94 224.57C78.72 227.79 80.46 231.64 81.41 234C82.36 236.36 83.06 237.18 82.65 238.72C82.24 240.25 80.5 241.61 78.93 243.18C77.36 244.76 75.2 246.08 73.22 248.15C71.23 250.22 68.88 253.32 67.01 255.59C65.15 257.87 63.5 260.43 62.05 261.8C60.6 263.16 59.65 263.7 58.33 263.78C57 263.87 55.43 263.45 54.11 262.29C52.78 261.14 51.34 259.4 50.38 256.83C49.43 254.27 48.94 250.22 48.4 246.91C47.86 243.6 47.36 239.87 47.16 236.98C46.95 234.08 46.83 232.22 47.16 229.53C47.49 226.84 48.32 223.53 49.14 220.85C49.97 218.16 51.21 215.34 52.12 213.4C53.03 211.45 53.86 210.13 54.6 209.18C55.35 208.23 55.14 207.69 56.59 207.69Z" fill="#4cb9d9" stroke="none" stroke-width="1" filter="url(#sp1)"/>
<path d="M110.45 264.28C111.69 263.37 115.21 262.54 116.65 262.54C118.1 262.54 118.6 263.16 119.14 264.28C119.67 265.4 119.05 267.59 119.88 269.24C120.71 270.9 122.98 272.55 124.1 274.21C125.22 275.86 126.38 277.52 126.58 279.17C126.79 280.83 126.38 282.48 125.34 284.14C124.31 285.79 122.24 287.65 120.38 289.1C118.52 290.55 116.03 291.38 114.17 292.82C112.31 294.27 110.66 296.75 109.21 297.79C107.76 298.82 106.93 299.44 105.49 299.03C104.04 298.61 101.97 296.75 100.52 295.31C99.07 293.86 97.63 292.2 96.8 290.34C95.97 288.48 96.05 286 95.56 284.14C95.06 282.27 93.61 280.21 93.82 279.17C94.03 278.14 95.89 277.52 96.8 277.93C97.71 278.34 98.25 280.41 99.28 281.65C100.31 282.9 101.76 284.96 103 285.38C104.24 285.79 105.69 284.96 106.73 284.14C107.76 283.31 109 282.07 109.21 280.41C109.42 278.76 107.97 276.28 107.97 274.21C107.97 272.14 108.79 269.66 109.21 268C109.62 266.35 109.21 265.19 110.45 264.28Z" fill="#0a9c80" stroke="none" stroke-width="1" filter="url(#sp1)"/>
<path d="M183.19 207.69C184.64 207.69 187.53 208.02 189.89 209.18C192.25 210.34 195.06 212.08 197.34 214.64C199.61 217.2 201.76 221.34 203.54 224.57C205.32 227.79 207.06 231.64 208.01 234C208.96 236.36 209.66 237.18 209.25 238.72C208.84 240.25 207.1 241.61 205.53 243.18C203.96 244.76 201.8 246.08 199.82 248.15C197.83 250.22 195.48 253.32 193.61 255.59C191.75 257.87 190.1 260.43 188.65 261.8C187.2 263.16 186.25 263.7 184.93 263.78C183.6 263.87 182.03 263.45 180.71 262.29C179.38 261.14 177.94 259.4 176.98 256.83C176.03 254.27 175.54 250.22 175 246.91C174.46 243.6 173.96 239.87 173.76 236.98C173.55 234.08 173.43 232.22 173.76 229.53C174.09 226.84 174.92 223.53 175.74 220.85C176.57 218.16 177.81 215.34 178.72 213.4C179.63 211.45 180.46 210.13 181.2 209.18C181.95 208.23 181.74 207.69 183.19 207.69Z" fill="#4cb9d9" stroke="none" stroke-width="1" filter="url(#sp1)"/>
<path d="M309.49 207.69C310.94 207.69 313.83 208.02 316.19 209.18C318.55 210.34 321.36 212.08 323.64 214.64C325.91 217.2 328.06 221.34 329.84 224.57C331.62 227.79 333.36 231.64 334.31 234C335.26 236.36 335.96 237.18 335.55 238.72C335.14 240.25 333.4 241.61 331.83 243.18C330.26 244.76 328.1 246.08 326.12 248.15C324.13 250.22 321.78 253.32 319.91 255.59C318.05 257.87 316.4 260.43 314.95 261.8C313.5 263.16 312.55 263.7 311.23 263.78C309.9 263.87 308.33 263.45 307.01 262.29C305.68 261.14 304.24 259.4 303.28 256.83C302.33 254.27 301.84 250.22 301.3 246.91C300.76 243.6 300.26 239.87 300.06 236.98C299.85 234.08 299.73 232.22 300.06 229.53C300.39 226.84 301.22 223.53 302.04 220.85C302.87 218.16 304.11 215.34 305.02 213.4C305.93 211.45 306.76 210.13 307.5 209.18C308.25 208.23 308.04 207.69 309.49 207.69Z" fill="#4cb9d9" stroke="none" stroke-width="1" filter="url(#sp2)"/>
<path d="M363.15 264.28C364.31 263.37 367.9 262.54 369.35 262.54C370.8 262.54 371.21 263.16 371.83 264.28C372.45 265.4 372.17 267.59 373.08 269.24C373.99 270.9 376.26 272.55 377.29 274.21C378.33 275.86 379.16 277.52 379.28 279.17C379.4 280.83 379.07 282.48 378.04 284.14C377.01 285.79 374.94 287.65 373.08 289.1C371.21 290.55 368.73 291.5 366.87 292.82C365.01 294.15 363.48 296.09 361.91 297.04C360.33 297.99 358.89 298.82 357.44 298.53C355.99 298.24 354.54 296.67 353.22 295.31C351.9 293.94 350.45 292 349.5 290.34C348.54 288.69 348.13 287.03 347.51 285.38C346.89 283.72 345.52 281.45 345.77 280.41C346.02 279.38 347.97 278.76 349 279.17C350.03 279.59 350.86 281.65 351.98 282.9C353.1 284.14 354.46 286.33 355.7 286.62C356.94 286.91 358.31 285.67 359.42 284.63C360.54 283.6 362.07 282.15 362.4 280.41C362.73 278.68 361.41 276.28 361.41 274.21C361.41 272.14 362.11 269.66 362.4 268C362.69 266.35 361.99 265.19 363.15 264.28Z" fill="#0a9c80" stroke="none" stroke-width="1" filter="url(#sp2)"/>
<path d="M115.84 202.77C117.03 201.58 118.65 200.68 120.44 200.22C122.23 199.76 124.35 199.84 126.57 200.01C128.78 200.18 131.34 200.61 133.72 201.24C136.11 201.87 138.83 202.77 140.87 203.8C142.92 204.82 144.45 206.09 145.98 207.37C147.52 208.65 149.05 209.93 150.07 211.46C151.09 212.99 151.94 214.7 152.12 216.57C152.29 218.44 151.06 220.83 151.09 222.7C151.13 224.57 151.89 226.11 152.32 227.81C152.75 229.51 153.6 231.47 153.65 232.92C153.7 234.37 153.39 236.15 152.63 236.49C151.86 236.84 150.33 235.13 149.05 234.96C147.77 234.79 146.24 235.39 144.96 235.47C143.68 235.56 142.2 235.01 141.39 235.47C140.57 235.93 140.65 237.3 140.06 238.23C139.46 239.17 138.87 240.53 137.81 241.09C136.75 241.66 135.08 241.94 133.72 241.6C132.36 241.26 130.83 239.99 129.63 239.05C128.44 238.11 127.76 237.01 126.57 235.98C125.38 234.96 123.84 233.68 122.48 232.92C121.12 232.15 119.59 231.56 118.39 231.39C117.2 231.22 116.26 232.07 115.33 231.9C114.39 231.73 113.54 231.56 112.77 230.36C112.01 229.17 110.99 226.7 110.73 224.74C110.47 222.78 111.07 220.66 111.24 218.61C111.41 216.57 111.41 214.35 111.75 212.48C112.09 210.61 112.6 208.99 113.28 207.37C113.97 205.75 114.65 203.97 115.84 202.77Z" fill="#f7205e" stroke="none" stroke-width="1" filter="url(#sp3)"/>
<path d="M122.7 242.3h.7v.7h-.7zM121.3 241.6h.7v.7h-.7zM115.7 235.1h.7v.7h-.7zM116.4 236.4h.7v.7h-.7zM116.6 237.2h.7v.7h-.7zM120.4 240.0h.7v.7h-.7zM124.8 243.0h.7v.7h-.7zM114.9 234.5h.7v.7h-.7zM116.6 235.7h.7v.7h-.7zM116.1 235.4h.7v.7h-.7zM120.5 240.7h.7v.7h-.7zM115.4 236.7h.7v.7h-.7zM122.3 240.9h.7v.7h-.7zM118.0 239.6h.7v.7h-.7zM116.3 236.3h.7v.7h-.7zM114.9 235.3h.7v.7h-.7zM124.4 242.9h.7v.7h-.7zM114.6 232.8h.7v.7h-.7zM115.6 236.3h.7v.7h-.7zM120.4 241.0h.7v.7h-.7zM120.2 239.2h.7v.7h-.7zM117.7 238.0h.7v.7h-.7zM118.5 239.3h.7v.7h-.7zM119.3 239.8h.7v.7h-.7zM118.4 237.9h.7v.7h-.7zM120.0 240.2h.7v.7h-.7zM123.8 242.2h.7v.7h-.7zM123.5 242.6h.7v.7h-.7zM115.6 235.1h.7v.7h-.7zM121.2 242.0h.7v.7h-.7zM124.7 241.9h.7v.7h-.7zM114.3 233.0h.7v.7h-.7zM118.7 241.0h.7v.7h-.7zM116.7 238.1h.7v.7h-.7zM118.5 239.5h.7v.7h-.7zM115.9 234.7h.7v.7h-.7zM116.1 236.9h.7v.7h-.7zM114.1 233.6h.7v.7h-.7zM123.8 240.9h.7v.7h-.7zM124.5 241.7h.7v.7h-.7zM119.4 241.3h.7v.7h-.7zM119.6 240.3h.7v.7h-.7zM114.9 233.1h.7v.7h-.7zM118.9 238.2h.7v.7h-.7zM117.7 238.0h.7v.7h-.7zM121.4 239.6h.7v.7h-.7zM123.1 241.1h.7v.7h-.7zM125.7 243.1h.7v.7h-.7zM121.4 240.8h.7v.7h-.7zM120.5 239.6h.7v.7h-.7zM119.7 240.1h.7v.7h-.7zM119.5 239.6h.7v.7h-.7zM121.9 241.7h.7v.7h-.7zM117.2 237.1h.7v.7h-.7zM115.9 235.3h.7v.7h-.7zM115.8 236.3h.7v.7h-.7zM117.8 238.3h.7v.7h-.7zM116.4 237.5h.7v.7h-.7zM120.1 239.2h.7v.7h-.7zM124.4 242.0h.7v.7h-.7zM113.3 233.1h.7v.7h-.7zM120.1 239.5h.7v.7h-.7zM124.2 242.4h.7v.7h-.7zM123.3 241.9h.7v.7h-.7zM115.9 237.8h.7v.7h-.7zM114.1 234.5h.7v.7h-.7zM122.1 240.6h.7v.7h-.7zM121.7 240.5h.7v.7h-.7zM121.4 242.2h.7v.7h-.7zM116.5 238.3h.7v.7h-.7zM121.9 240.5h.7v.7h-.7zM118.5 239.6h.7v.7h-.7zM115.4 234.0h.7v.7h-.7zM115.1 234.3h.7v.7h-.7zM124.2 242.7h.7v.7h-.7zM114.5 233.4h.7v.7h-.7zM117.6 238.2h.7v.7h-.7zM125.3 242.4h.7v.7h-.7zM115.5 235.8h.7v.7h-.7zM119.7 239.6h.7v.7h-.7zM123.6 241.5h.7v.7h-.7zM115.1 234.6h.7v.7h-.7zM120.9 239.5h.7v.7h-.7zM122.5 240.6h.7v.7h-.7zM116.3 237.9h.7v.7h-.7zM119.3 239.2h.7v.7h-.7zM118.6 239.4h.7v.7h-.7zM115.7 236.2h.7v.7h-.7zM118.1 239.4h.7v.7h-.7zM114.5 233.6h.7v.7h-.7zM115.9 234.2h.7v.7h-.7zM115.3 234.8h.7v.7h-.7zM113.7 231.9h.7v.7h-.7zM117.2 237.4h.7v.7h-.7zM116.3 237.0h.7v.7h-.7zM122.4 241.3h.7v.7h-.7zM114.3 233.0h.7v.7h-.7zM122.6 241.6h.7v.7h-.7zM118.6 239.5h.7v.7h-.7zM120.0 240.2h.7v.7h-.7zM123.2 242.1h.7v.7h-.7zM124.2 242.2h.7v.7h-.7zM115.8 235.1h.7v.7h-.7zM117.4 237.0h.7v.7h-.7zM120.2 239.5h.7v.7h-.7zM116.0 234.1h.7v.7h-.7zM124.4 243.2h.7v.7h-.7zM122.9 241.7h.7v.7h-.7zM125.0 242.4h.7v.7h-.7zM121.7 241.2h.7v.7h-.7z" fill="#f7205e" stroke="none" stroke-width="1"/>
<path d="M153.6 237.4h.7v.7h-.7zM148.5 244.1h.7v.7h-.7zM152.7 238.5h.7v.7h-.7zM152.9 234.6h.7v.7h-.7zM150.8 241.8h.7v.7h-.7zM151.6 241.0h.7v.7h-.7zM130.9 243.6h.7v.7h-.7zM149.3 243.2h.7v.7h-.7zM146.0 244.4h.7v.7h-.7zM149.2 244.1h.7v.7h-.7zM131.6 244.8h.7v.7h-.7zM140.0 246.5h.7v.7h-.7zM146.6 245.4h.7v.7h-.7zM145.7 245.8h.7v.7h-.7zM152.0 238.3h.7v.7h-.7zM136.2 244.9h.7v.7h-.7zM153.4 237.3h.7v.7h-.7zM153.2 238.2h.7v.7h-.7zM150.5 241.0h.7v.7h-.7zM138.4 246.6h.7v.7h-.7zM153.4 236.2h.7v.7h-.7zM141.1 245.6h.7v.7h-.7zM142.9 246.6h.7v.7h-.7zM148.8 244.4h.7v.7h-.7zM153.1 239.2h.7v.7h-.7zM139.9 246.2h.7v.7h-.7zM133.7 244.0h.7v.7h-.7zM131.2 242.9h.7v.7h-.7zM154.7 238.2h.7v.7h-.7zM139.8 245.6h.7v.7h-.7zM136.2 245.5h.7v.7h-.7zM153.2 238.3h.7v.7h-.7zM154.0 237.5h.7v.7h-.7zM148.8 242.6h.7v.7h-.7zM140.7 245.7h.7v.7h-.7zM151.4 241.9h.7v.7h-.7zM138.6 246.0h.7v.7h-.7zM148.5 243.9h.7v.7h-.7zM140.5 244.4h.7v.7h-.7zM154.1 237.6h.7v.7h-.7zM134.6 243.4h.7v.7h-.7zM131.1 242.9h.7v.7h-.7zM150.8 243.0h.7v.7h-.7zM138.3 246.2h.7v.7h-.7zM153.7 235.7h.7v.7h-.7zM148.3 243.3h.7v.7h-.7zM137.6 245.8h.7v.7h-.7zM149.7 242.8h.7v.7h-.7zM153.6 236.4h.7v.7h-.7zM140.4 246.2h.7v.7h-.7zM150.8 241.5h.7v.7h-.7zM138.6 245.6h.7v.7h-.7zM140.8 246.3h.7v.7h-.7zM140.3 246.6h.7v.7h-.7zM150.6 242.6h.7v.7h-.7zM138.0 245.9h.7v.7h-.7zM152.1 234.8h.7v.7h-.7zM151.9 242.4h.7v.7h-.7zM153.3 237.8h.7v.7h-.7zM151.4 240.2h.7v.7h-.7zM147.8 244.4h.7v.7h-.7zM152.2 238.7h.7v.7h-.7zM143.7 247.4h.7v.7h-.7zM133.5 244.7h.7v.7h-.7zM139.1 245.8h.7v.7h-.7zM134.2 246.1h.7v.7h-.7zM143.6 245.6h.7v.7h-.7zM134.7 244.9h.7v.7h-.7zM151.5 238.7h.7v.7h-.7zM132.8 244.0h.7v.7h-.7zM148.2 242.9h.7v.7h-.7zM151.6 240.4h.7v.7h-.7zM153.7 236.4h.7v.7h-.7zM147.7 243.1h.7v.7h-.7zM151.5 241.0h.7v.7h-.7zM145.9 244.2h.7v.7h-.7zM148.7 243.5h.7v.7h-.7zM153.5 237.4h.7v.7h-.7zM146.0 243.8h.7v.7h-.7zM152.8 235.9h.7v.7h-.7zM135.3 246.6h.7v.7h-.7zM152.8 239.9h.7v.7h-.7zM147.0 243.1h.7v.7h-.7zM153.2 236.3h.7v.7h-.7zM152.9 233.7h.7v.7h-.7zM141.3 246.6h.7v.7h-.7zM147.3 245.7h.7v.7h-.7zM133.9 244.1h.7v.7h-.7zM133.0 243.8h.7v.7h-.7zM152.0 239.3h.7v.7h-.7zM152.3 240.1h.7v.7h-.7zM134.1 244.4h.7v.7h-.7zM131.2 244.3h.7v.7h-.7zM151.8 241.7h.7v.7h-.7zM153.4 235.8h.7v.7h-.7zM147.3 244.2h.7v.7h-.7zM140.1 245.0h.7v.7h-.7zM140.4 245.4h.7v.7h-.7zM130.5 243.1h.7v.7h-.7zM142.5 245.8h.7v.7h-.7zM150.5 241.4h.7v.7h-.7zM152.8 235.0h.7v.7h-.7zM132.7 243.6h.7v.7h-.7zM142.9 245.9h.7v.7h-.7zM153.6 237.1h.7v.7h-.7zM149.1 244.1h.7v.7h-.7zM143.2 246.0h.7v.7h-.7zM147.6 245.2h.7v.7h-.7zM154.6 236.0h.7v.7h-.7zM145.9 245.6h.7v.7h-.7zM136.6 245.5h.7v.7h-.7zM133.4 244.9h.7v.7h-.7zM133.9 244.5h.7v.7h-.7zM137.4 245.1h.7v.7h-.7zM133.1 244.5h.7v.7h-.7zM150.5 242.7h.7v.7h-.7zM141.8 246.0h.7v.7h-.7zM146.8 245.1h.7v.7h-.7zM152.0 242.8h.7v.7h-.7zM141.1 246.4h.7v.7h-.7zM134.6 244.4h.7v.7h-.7zM149.6 243.3h.7v.7h-.7zM150.9 239.3h.7v.7h-.7zM153.1 235.9h.7v.7h-.7zM149.1 242.9h.7v.7h-.7zM149.1 243.4h.7v.7h-.7zM141.9 246.9h.7v.7h-.7zM150.9 242.4h.7v.7h-.7zM148.6 244.0h.7v.7h-.7zM141.2 245.4h.7v.7h-.7zM147.3 244.3h.7v.7h-.7zM150.7 242.1h.7v.7h-.7zM150.7 241.5h.7v.7h-.7zM135.7 245.9h.7v.7h-.7zM131.2 243.9h.7v.7h-.7zM153.4 236.5h.7v.7h-.7zM153.5 237.9h.7v.7h-.7zM142.1 245.6h.7v.7h-.7zM145.9 244.6h.7v.7h-.7zM141.8 246.3h.7v.7h-.7zM134.9 245.2h.7v.7h-.7zM153.6 237.9h.7v.7h-.7zM138.0 245.0h.7v.7h-.7zM134.8 245.7h.7v.7h-.7zM145.3 244.8h.7v.7h-.7zM134.5 244.3h.7v.7h-.7zM151.0 240.2h.7v.7h-.7zM150.9 242.0h.7v.7h-.7zM152.2 238.1h.7v.7h-.7zM152.9 239.8h.7v.7h-.7zM151.3 240.6h.7v.7h-.7zM132.8 244.1h.7v.7h-.7zM147.2 244.2h.7v.7h-.7zM137.5 246.5h.7v.7h-.7zM150.2 241.8h.7v.7h-.7zM133.2 245.0h.7v.7h-.7zM139.0 245.2h.7v.7h-.7zM138.2 245.3h.7v.7h-.7zM144.9 245.4h.7v.7h-.7zM152.2 239.7h.7v.7h-.7zM151.3 240.5h.7v.7h-.7zM149.8 244.2h.7v.7h-.7zM134.1 243.9h.7v.7h-.7zM130.2 243.7h.7v.7h-.7zM153.3 239.4h.7v.7h-.7zM142.5 245.6h.7v.7h-.7zM143.8 245.4h.7v.7h-.7zM153.3 235.3h.7v.7h-.7zM141.2 246.9h.7v.7h-.7zM147.2 244.6h.7v.7h-.7z" fill="#f7205e" stroke="none" stroke-width="1"/>
<path d="M145.1 241.9h.7v.7h-.7zM141.2 240.6h.7v.7h-.7zM141.1 238.6h.7v.7h-.7zM148.6 239.7h.7v.7h-.7zM143.4 237.2h.7v.7h-.7zM151.4 238.3h.7v.7h-.7zM152.6 236.9h.7v.7h-.7zM140.9 241.9h.7v.7h-.7zM144.6 242.0h.7v.7h-.7zM145.0 239.2h.7v.7h-.7zM149.3 239.9h.7v.7h-.7zM143.8 237.6h.7v.7h-.7zM140.8 240.1h.7v.7h-.7zM147.3 238.9h.7v.7h-.7zM145.8 236.9h.7v.7h-.7zM147.0 236.8h.7v.7h-.7zM144.9 238.5h.7v.7h-.7zM144.8 238.0h.7v.7h-.7zM144.8 242.1h.7v.7h-.7zM150.6 241.2h.7v.7h-.7zM145.2 244.8h.7v.7h-.7zM143.3 243.4h.7v.7h-.7zM149.9 242.0h.7v.7h-.7zM149.5 243.5h.7v.7h-.7zM141.4 237.7h.7v.7h-.7zM141.8 242.9h.7v.7h-.7zM143.1 239.5h.7v.7h-.7zM140.9 243.6h.7v.7h-.7zM148.5 240.4h.7v.7h-.7zM143.3 239.1h.7v.7h-.7zM145.2 240.0h.7v.7h-.7zM148.4 243.3h.7v.7h-.7zM152.5 238.8h.7v.7h-.7zM145.1 244.0h.7v.7h-.7zM149.4 240.6h.7v.7h-.7zM150.3 237.5h.7v.7h-.7zM146.8 240.7h.7v.7h-.7zM142.5 243.9h.7v.7h-.7zM148.2 238.2h.7v.7h-.7zM148.4 241.4h.7v.7h-.7zM145.3 238.8h.7v.7h-.7zM147.3 243.4h.7v.7h-.7zM140.3 238.4h.7v.7h-.7zM149.7 237.1h.7v.7h-.7zM150.4 240.6h.7v.7h-.7zM148.0 242.7h.7v.7h-.7zM140.4 239.4h.7v.7h-.7zM140.8 238.1h.7v.7h-.7zM143.4 243.1h.7v.7h-.7zM148.7 238.2h.7v.7h-.7zM144.7 236.3h.7v.7h-.7zM150.1 239.8h.7v.7h-.7zM145.4 238.0h.7v.7h-.7zM142.1 241.0h.7v.7h-.7zM140.6 241.9h.7v.7h-.7zM141.4 240.1h.7v.7h-.7zM150.9 239.1h.7v.7h-.7zM141.7 236.1h.7v.7h-.7zM149.9 240.4h.7v.7h-.7zM146.6 237.7h.7v.7h-.7zM150.6 238.6h.7v.7h-.7zM140.4 241.5h.7v.7h-.7zM147.5 236.7h.7v.7h-.7zM143.8 244.1h.7v.7h-.7zM148.6 237.2h.7v.7h-.7zM147.9 236.4h.7v.7h-.7zM145.4 237.7h.7v.7h-.7zM140.3 242.7h.7v.7h-.7zM140.7 238.9h.7v.7h-.7zM140.7 239.3h.7v.7h-.7zM144.0 237.8h.7v.7h-.7zM140.6 244.6h.7v.7h-.7zM145.7 244.5h.7v.7h-.7zM143.4 238.3h.7v.7h-.7zM144.3 240.7h.7v.7h-.7zM145.4 242.2h.7v.7h-.7zM144.8 237.4h.7v.7h-.7zM143.4 239.4h.7v.7h-.7zM141.8 240.3h.7v.7h-.7zM140.9 243.3h.7v.7h-.7zM140.4 242.4h.7v.7h-.7zM139.9 240.6h.7v.7h-.7zM149.1 240.6h.7v.7h-.7zM141.7 240.8h.7v.7h-.7zM140.6 244.8h.7v.7h-.7zM144.8 244.3h.7v.7h-.7zM145.8 238.9h.7v.7h-.7zM152.2 240.2h.7v.7h-.7zM145.2 242.0h.7v.7h-.7zM148.2 238.4h.7v.7h-.7z" fill="#f7205e" stroke="none" stroke-width="1"/>
<path d="M120.4 238.7h.7v.7h-.7zM119.4 237.6h.7v.7h-.7zM118.6 236.9h.7v.7h-.7zM119.9 234.9h.7v.7h-.7zM129.9 239.4h.7v.7h-.7zM117.9 235.1h.7v.7h-.7zM125.8 237.2h.7v.7h-.7zM127.4 240.3h.7v.7h-.7zM120.8 238.0h.7v.7h-.7zM119.1 236.9h.7v.7h-.7zM119.1 235.9h.7v.7h-.7zM127.2 239.5h.7v.7h-.7zM120.7 235.2h.7v.7h-.7zM123.9 234.6h.7v.7h-.7zM118.5 234.2h.7v.7h-.7zM125.0 239.6h.7v.7h-.7zM124.4 239.2h.7v.7h-.7zM122.3 237.9h.7v.7h-.7zM119.9 237.0h.7v.7h-.7zM119.4 237.7h.7v.7h-.7zM119.5 235.2h.7v.7h-.7zM121.7 237.9h.7v.7h-.7zM122.6 235.3h.7v.7h-.7zM117.7 236.2h.7v.7h-.7zM120.3 239.1h.7v.7h-.7zM118.8 235.0h.7v.7h-.7zM118.9 237.1h.7v.7h-.7zM124.6 239.4h.7v.7h-.7zM126.3 241.7h.7v.7h-.7zM122.4 239.1h.7v.7h-.7zM120.4 238.2h.7v.7h-.7zM128.5 239.0h.7v.7h-.7zM118.6 238.3h.7v.7h-.7zM122.3 237.2h.7v.7h-.7zM121.8 237.9h.7v.7h-.7zM125.8 241.9h.7v.7h-.7zM124.8 237.3h.7v.7h-.7zM117.2 236.9h.7v.7h-.7zM128.7 240.0h.7v.7h-.7zM122.7 238.6h.7v.7h-.7zM125.3 241.8h.7v.7h-.7zM125.2 238.0h.7v.7h-.7zM120.0 237.3h.7v.7h-.7zM123.3 241.1h.7v.7h-.7zM119.1 235.9h.7v.7h-.7z" fill="#f7205e" stroke="none" stroke-width="1"/>
<path d="M133.9 223.7h.7v.7h-.7zM133.3 219.3h.7v.7h-.7zM131.7 223.6h.7v.7h-.7zM131.8 224.6h.7v.7h-.7zM131.6 222.8h.7v.7h-.7zM130.9 222.5h.7v.7h-.7zM135.1 224.7h.7v.7h-.7zM134.6 223.6h.7v.7h-.7zM133.0 220.9h.7v.7h-.7zM134.1 221.8h.7v.7h-.7zM133.3 222.6h.7v.7h-.7zM134.6 221.8h.7v.7h-.7zM134.4 222.7h.7v.7h-.7zM136.3 222.5h.7v.7h-.7zM132.4 220.1h.7v.7h-.7zM134.6 222.7h.7v.7h-.7zM127.9 223.4h.7v.7h-.7zM133.8 222.3h.7v.7h-.7zM135.5 222.6h.7v.7h-.7zM132.4 223.3h.7v.7h-.7zM130.3 223.5h.7v.7h-.7zM130.8 223.1h.7v.7h-.7zM135.1 222.2h.7v.7h-.7zM131.3 225.0h.7v.7h-.7zM132.8 224.2h.7v.7h-.7zM134.0 223.3h.7v.7h-.7zM135.8 222.7h.7v.7h-.7zM129.4 222.4h.7v.7h-.7zM131.4 221.2h.7v.7h-.7zM131.8 223.3h.7v.7h-.7zM133.8 222.8h.7v.7h-.7zM132.4 222.8h.7v.7h-.7zM131.8 221.5h.7v.7h-.7zM132.9 223.9h.7v.7h-.7zM131.2 222.7h.7v.7h-.7zM134.2 221.4h.7v.7h-.7zM133.6 223.0h.7v.7h-.7zM135.0 221.5h.7v.7h-.7zM131.8 224.9h.7v.7h-.7zM137.2 223.6h.7v.7h-.7zM135.8 221.9h.7v.7h-.7zM134.9 223.2h.7v.7h-.7zM134.3 221.1h.7v.7h-.7zM133.1 223.7h.7v.7h-.7zM135.2 223.4h.7v.7h-.7zM133.7 224.1h.7v.7h-.7zM136.5 220.8h.7v.7h-.7zM128.8 222.8h.7v.7h-.7zM136.3 225.3h.7v.7h-.7zM134.4 221.5h.7v.7h-.7zM128.4 225.4h.7v.7h-.7zM129.1 225.9h.7v.7h-.7zM131.4 225.1h.7v.7h-.7zM130.8 225.3h.7v.7h-.7zM128.6 226.3h.7v.7h-.7zM123.1 224.1h.7v.7h-.7zM126.2 225.7h.7v.7h-.7zM125.1 226.7h.7v.7h-.7zM127.5 226.6h.7v.7h-.7zM123.8 225.9h.7v.7h-.7zM126.3 227.0h.7v.7h-.7zM130.2 225.5h.7v.7h-.7zM126.6 223.6h.7v.7h-.7zM132.4 226.4h.7v.7h-.7zM128.1 226.3h.7v.7h-.7zM126.3 224.3h.7v.7h-.7zM124.1 225.2h.7v.7h-.7zM126.0 224.9h.7v.7h-.7zM127.3 226.6h.7v.7h-.7zM127.2 226.2h.7v.7h-.7zM133.3 225.2h.7v.7h-.7zM124.9 226.8h.7v.7h-.7zM125.7 227.7h.7v.7h-.7zM124.8 226.0h.7v.7h-.7zM131.5 224.4h.7v.7h-.7zM129.6 226.3h.7v.7h-.7zM127.3 227.4h.7v.7h-.7zM125.0 226.6h.7v.7h-.7zM125.3 227.3h.7v.7h-.7zM123.3 225.9h.7v.7h-.7zM125.2 224.9h.7v.7h-.7zM129.5 225.6h.7v.7h-.7zM128.3 223.7h.7v.7h-.7zM123.8 225.0h.7v.7h-.7zM127.7 224.4h.7v.7h-.7zM127.6 227.0h.7v.7h-.7zM126.9 226.1h.7v.7h-.7zM125.6 225.1h.7v.7h-.7zM126.5 226.2h.7v.7h-.7zM130.8 226.2h.7v.7h-.7zM124.6 226.8h.7v.7h-.7zM123.8 224.0h.7v.7h-.7zM126.0 225.3h.7v.7h-.7zM128.4 225.9h.7v.7h-.7zM123.0 225.3h.7v.7h-.7zM134.7 234.0h.7v.7h-.7zM133.0 230.9h.7v.7h-.7zM138.5 233.4h.7v.7h-.7zM135.0 233.3h.7v.7h-.7zM135.6 231.0h.7v.7h-.7zM135.6 232.8h.7v.7h-.7zM139.0 231.7h.7v.7h-.7zM132.9 232.1h.7v.7h-.7zM134.8 231.2h.7v.7h-.7zM136.7 232.1h.7v.7h-.7zM133.1 231.2h.7v.7h-.7zM138.9 231.7h.7v.7h-.7zM139.8 229.5h.7v.7h-.7zM133.4 231.9h.7v.7h-.7zM133.6 232.1h.7v.7h-.7zM136.0 230.6h.7v.7h-.7zM139.8 233.7h.7v.7h-.7zM132.1 231.6h.7v.7h-.7zM132.9 231.5h.7v.7h-.7zM134.8 231.7h.7v.7h-.7zM138.2 233.1h.7v.7h-.7zM135.1 232.3h.7v.7h-.7zM137.3 230.3h.7v.7h-.7zM136.0 230.9h.7v.7h-.7zM138.3 233.2h.7v.7h-.7zM136.5 233.4h.7v.7h-.7zM135.2 231.1h.7v.7h-.7zM138.8 231.9h.7v.7h-.7zM136.5 230.6h.7v.7h-.7zM137.4 231.8h.7v.7h-.7zM135.5 230.8h.7v.7h-.7zM134.1 231.5h.7v.7h-.7zM136.1 233.2h.7v.7h-.7zM131.9 230.5h.7v.7h-.7zM133.7 231.2h.7v.7h-.7zM118.9 227.2h.7v.7h-.7zM119.4 229.4h.7v.7h-.7zM120.2 227.5h.7v.7h-.7zM123.3 229.0h.7v.7h-.7zM118.5 230.5h.7v.7h-.7zM119.5 227.5h.7v.7h-.7zM122.6 227.7h.7v.7h-.7zM118.4 230.8h.7v.7h-.7zM120.1 227.5h.7v.7h-.7zM122.0 228.6h.7v.7h-.7zM115.6 228.2h.7v.7h-.7zM122.9 228.2h.7v.7h-.7zM122.8 227.2h.7v.7h-.7zM124.0 228.3h.7v.7h-.7zM119.2 227.1h.7v.7h-.7zM124.2 228.8h.7v.7h-.7zM120.2 229.3h.7v.7h-.7zM121.0 228.3h.7v.7h-.7zM122.5 228.2h.7v.7h-.7zM124.2 232.1h.7v.7h-.7zM116.3 228.9h.7v.7h-.7zM120.2 229.7h.7v.7h-.7zM115.5 231.8h.7v.7h-.7zM123.8 231.7h.7v.7h-.7zM124.9 227.4h.7v.7h-.7zM121.0 231.1h.7v.7h-.7zM124.9 227.8h.7v.7h-.7zM122.2 230.8h.7v.7h-.7zM125.4 228.3h.7v.7h-.7zM122.7 229.6h.7v.7h-.7zM120.8 228.5h.7v.7h-.7zM124.4 228.8h.7v.7h-.7zM121.3 230.5h.7v.7h-.7zM125.0 229.6h.7v.7h-.7zM120.3 227.7h.7v.7h-.7zM118.2 228.0h.7v.7h-.7zM122.4 227.0h.7v.7h-.7zM118.9 227.4h.7v.7h-.7zM122.1 228.3h.7v.7h-.7zM126.1 230.7h.7v.7h-.7zM146.1 223.5h.7v.7h-.7zM148.7 221.8h.7v.7h-.7zM148.4 221.0h.7v.7h-.7zM145.1 224.5h.7v.7h-.7zM146.4 220.2h.7v.7h-.7zM144.0 224.1h.7v.7h-.7zM142.0 227.7h.7v.7h-.7zM144.3 224.1h.7v.7h-.7zM153.0 223.2h.7v.7h-.7zM146.7 225.1h.7v.7h-.7zM145.7 221.5h.7v.7h-.7zM142.2 224.3h.7v.7h-.7zM145.5 226.7h.7v.7h-.7zM146.5 225.2h.7v.7h-.7zM143.4 223.1h.7v.7h-.7zM147.1 223.0h.7v.7h-.7zM147.7 222.8h.7v.7h-.7zM145.3 224.6h.7v.7h-.7zM143.1 229.5h.7v.7h-.7zM142.8 227.0h.7v.7h-.7zM149.9 223.2h.7v.7h-.7zM147.1 225.9h.7v.7h-.7zM146.9 225.2h.7v.7h-.7zM145.2 224.9h.7v.7h-.7zM144.7 221.2h.7v.7h-.7zM145.5 225.4h.7v.7h-.7zM146.8 224.6h.7v.7h-.7zM145.0 224.1h.7v.7h-.7zM144.0 223.5h.7v.7h-.7zM146.3 222.0h.7v.7h-.7zM149.8 219.5h.7v.7h-.7zM147.6 223.0h.7v.7h-.7zM148.6 222.6h.7v.7h-.7zM148.1 222.1h.7v.7h-.7zM144.1 223.3h.7v.7h-.7zM146.1 221.6h.7v.7h-.7zM149.0 221.4h.7v.7h-.7zM145.4 224.0h.7v.7h-.7zM145.7 226.0h.7v.7h-.7zM143.7 225.9h.7v.7h-.7zM148.9 223.8h.7v.7h-.7zM150.9 220.2h.7v.7h-.7zM144.5 220.5h.7v.7h-.7zM138.2 218.6h.7v.7h-.7zM146.7 221.3h.7v.7h-.7zM124.6 234.1h.7v.7h-.7zM127.4 233.1h.7v.7h-.7zM129.3 236.8h.7v.7h-.7zM124.5 234.3h.7v.7h-.7zM139.2 233.9h.7v.7h-.7zM131.4 233.8h.7v.7h-.7zM132.7 234.8h.7v.7h-.7zM132.2 231.6h.7v.7h-.7zM130.6 234.9h.7v.7h-.7zM130.7 235.0h.7v.7h-.7zM133.3 236.6h.7v.7h-.7zM131.2 235.1h.7v.7h-.7zM129.7 233.2h.7v.7h-.7zM132.5 231.4h.7v.7h-.7zM133.6 231.7h.7v.7h-.7zM130.4 232.3h.7v.7h-.7zM128.4 234.9h.7v.7h-.7zM126.3 236.8h.7v.7h-.7zM126.4 235.4h.7v.7h-.7zM129.9 233.3h.7v.7h-.7zM131.5 236.5h.7v.7h-.7zM131.1 232.5h.7v.7h-.7zM130.7 235.9h.7v.7h-.7zM128.1 234.5h.7v.7h-.7zM133.8 232.7h.7v.7h-.7zM130.2 235.8h.7v.7h-.7zM129.1 233.9h.7v.7h-.7zM129.9 234.4h.7v.7h-.7zM127.8 230.5h.7v.7h-.7zM133.4 232.3h.7v.7h-.7zM128.2 235.7h.7v.7h-.7zM129.2 233.5h.7v.7h-.7zM127.8 233.3h.7v.7h-.7zM131.6 236.0h.7v.7h-.7zM132.5 231.4h.7v.7h-.7zM129.8 235.3h.7v.7h-.7zM128.4 232.0h.7v.7h-.7zM129.8 236.1h.7v.7h-.7zM127.7 235.5h.7v.7h-.7zM132.4 232.6h.7v.7h-.7zM141.1 230.4h.7v.7h-.7zM143.8 229.9h.7v.7h-.7zM145.1 234.3h.7v.7h-.7zM147.8 232.7h.7v.7h-.7zM144.7 232.7h.7v.7h-.7zM142.8 231.2h.7v.7h-.7zM148.4 234.3h.7v.7h-.7zM146.6 231.1h.7v.7h-.7zM144.8 229.4h.7v.7h-.7zM146.8 233.4h.7v.7h-.7zM147.0 230.8h.7v.7h-.7zM144.1 229.4h.7v.7h-.7zM149.1 230.8h.7v.7h-.7zM148.5 229.5h.7v.7h-.7zM147.2 232.1h.7v.7h-.7zM144.5 230.0h.7v.7h-.7zM153.0 233.3h.7v.7h-.7zM148.9 229.8h.7v.7h-.7zM149.4 231.8h.7v.7h-.7zM150.3 230.7h.7v.7h-.7zM144.2 229.3h.7v.7h-.7zM140.2 228.3h.7v.7h-.7zM143.8 230.9h.7v.7h-.7zM149.6 233.9h.7v.7h-.7zM143.2 227.4h.7v.7h-.7zM145.8 231.5h.7v.7h-.7zM143.6 229.4h.7v.7h-.7zM142.8 231.1h.7v.7h-.7zM145.4 228.2h.7v.7h-.7zM144.5 229.3h.7v.7h-.7zM141.9 231.0h.7v.7h-.7zM142.3 231.2h.7v.7h-.7zM137.3 231.6h.7v.7h-.7zM145.5 230.1h.7v.7h-.7zM142.2 228.4h.7v.7h-.7zM141.4 233.5h.7v.7h-.7zM146.1 230.7h.7v.7h-.7zM142.8 229.8h.7v.7h-.7zM141.2 231.3h.7v.7h-.7zM147.7 229.2h.7v.7h-.7zM143.2 219.4h.7v.7h-.7zM142.1 218.2h.7v.7h-.7zM143.9 224.9h.7v.7h-.7zM138.3 219.8h.7v.7h-.7zM144.6 218.8h.7v.7h-.7zM135.4 214.1h.7v.7h-.7zM138.5 223.5h.7v.7h-.7zM137.7 220.1h.7v.7h-.7zM130.5 219.2h.7v.7h-.7zM139.8 218.8h.7v.7h-.7zM138.6 217.4h.7v.7h-.7zM136.7 223.5h.7v.7h-.7zM135.8 223.8h.7v.7h-.7zM135.1 223.7h.7v.7h-.7zM140.1 222.2h.7v.7h-.7zM139.9 221.8h.7v.7h-.7zM150.4 214.7h.7v.7h-.7zM138.3 221.6h.7v.7h-.7zM146.8 217.3h.7v.7h-.7zM141.0 222.8h.7v.7h-.7zM138.7 220.7h.7v.7h-.7zM141.9 223.1h.7v.7h-.7zM142.5 221.6h.7v.7h-.7zM138.1 219.3h.7v.7h-.7zM149.9 217.4h.7v.7h-.7zM139.3 218.9h.7v.7h-.7zM141.1 218.3h.7v.7h-.7zM143.8 218.7h.7v.7h-.7zM138.4 216.7h.7v.7h-.7zM138.9 216.6h.7v.7h-.7zM139.6 221.9h.7v.7h-.7zM133.9 225.4h.7v.7h-.7zM144.1 221.1h.7v.7h-.7zM139.3 223.2h.7v.7h-.7zM142.6 219.5h.7v.7h-.7zM141.5 221.0h.7v.7h-.7zM137.4 224.1h.7v.7h-.7zM135.2 221.7h.7v.7h-.7zM137.0 220.5h.7v.7h-.7zM139.9 221.1h.7v.7h-.7zM128.4 219.2h.7v.7h-.7zM123.3 221.8h.7v.7h-.7zM121.7 217.1h.7v.7h-.7zM120.4 215.5h.7v.7h-.7zM126.2 225.2h.7v.7h-.7zM121.3 222.3h.7v.7h-.7zM120.3 215.0h.7v.7h-.7zM118.8 223.5h.7v.7h-.7zM120.0 218.1h.7v.7h-.7zM105.5 223.9h.7v.7h-.7zM128.8 226.0h.7v.7h-.7zM133.6 213.9h.7v.7h-.7zM120.5 222.7h.7v.7h-.7zM117.5 221.4h.7v.7h-.7zM126.4 218.8h.7v.7h-.7zM123.7 217.7h.7v.7h-.7zM107.7 220.7h.7v.7h-.7zM123.0 222.2h.7v.7h-.7zM124.7 217.4h.7v.7h-.7zM123.8 210.9h.7v.7h-.7zM121.4 216.5h.7v.7h-.7zM120.5 216.9h.7v.7h-.7zM121.3 223.3h.7v.7h-.7zM126.0 218.9h.7v.7h-.7zM127.6 221.5h.7v.7h-.7zM127.6 220.5h.7v.7h-.7zM114.8 220.8h.7v.7h-.7zM115.6 217.6h.7v.7h-.7zM109.4 221.1h.7v.7h-.7zM127.2 217.2h.7v.7h-.7zM119.2 215.8h.7v.7h-.7zM122.4 224.0h.7v.7h-.7zM120.1 222.7h.7v.7h-.7zM124.0 220.0h.7v.7h-.7zM124.3 215.3h.7v.7h-.7z" fill="#fff" stroke="none" stroke-width="1"/>
<path d="M241.84 202.77C243.03 201.58 244.65 200.68 246.44 200.22C248.23 199.76 250.35 199.84 252.57 200.01C254.78 200.18 257.34 200.61 259.72 201.24C262.11 201.87 264.83 202.77 266.87 203.8C268.92 204.82 270.45 206.09 271.98 207.37C273.52 208.65 275.05 209.93 276.07 211.46C277.09 212.99 277.94 214.7 278.12 216.57C278.29 218.44 277.06 220.83 277.09 222.7C277.13 224.57 277.89 226.11 278.32 227.81C278.75 229.51 279.6 231.47 279.65 232.92C279.7 234.37 279.39 236.15 278.63 236.49C277.86 236.84 276.33 235.13 275.05 234.96C273.77 234.79 272.24 235.39 270.96 235.47C269.68 235.56 268.2 235.01 267.39 235.47C266.57 235.93 266.65 237.3 266.06 238.23C265.46 239.17 264.87 240.53 263.81 241.09C262.75 241.66 261.08 241.94 259.72 241.6C258.36 241.26 256.83 239.99 255.63 239.05C254.44 238.11 253.76 237.01 252.57 235.98C251.38 234.96 249.84 233.68 248.48 232.92C247.12 232.15 245.59 231.56 244.39 231.39C243.2 231.22 242.26 232.07 241.33 231.9C240.39 231.73 239.54 231.56 238.77 230.36C238.01 229.17 236.99 226.7 236.73 224.74C236.47 222.78 237.07 220.66 237.24 218.61C237.41 216.57 237.41 214.35 237.75 212.48C238.09 210.61 238.6 208.99 239.28 207.37C239.97 205.75 240.65 203.97 241.84 202.77Z" fill="#f7205e" stroke="none" stroke-width="1" filter="url(#sp3)"/>
<path d="M246.9 240.9h.7v.7h-.7zM242.3 237.7h.7v.7h-.7zM242.2 237.0h.7v.7h-.7zM250.7 241.9h.7v.7h-.7zM242.4 236.3h.7v.7h-.7zM249.8 241.9h.7v.7h-.7zM242.1 237.2h.7v.7h-.7zM246.6 239.5h.7v.7h-.7zM243.2 238.9h.7v.7h-.7zM244.6 239.1h.7v.7h-.7zM250.6 243.2h.7v.7h-.7zM241.9 232.4h.7v.7h-.7zM244.3 238.6h.7v.7h-.7zM248.9 241.8h.7v.7h-.7zM240.2 232.1h.7v.7h-.7zM244.9 239.3h.7v.7h-.7zM249.0 241.2h.7v.7h-.7zM240.4 232.1h.7v.7h-.7zM242.8 238.4h.7v.7h-.7zM243.7 239.4h.7v.7h-.7zM243.4 238.5h.7v.7h-.7zM242.4 237.1h.7v.7h-.7zM251.2 242.0h.7v.7h-.7zM249.1 242.4h.7v.7h-.7zM245.9 239.6h.7v.7h-.7zM241.2 232.8h.7v.7h-.7zM246.0 240.8h.7v.7h-.7zM251.7 241.8h.7v.7h-.7zM249.8 242.6h.7v.7h-.7zM246.2 239.2h.7v.7h-.7zM247.3 240.6h.7v.7h-.7zM248.6 239.8h.7v.7h-.7zM241.7 234.7h.7v.7h-.7zM241.9 235.3h.7v.7h-.7zM246.5 241.1h.7v.7h-.7zM241.7 234.0h.7v.7h-.7zM250.4 241.0h.7v.7h-.7zM247.4 240.6h.7v.7h-.7zM240.7 232.8h.7v.7h-.7zM244.7 240.2h.7v.7h-.7zM241.2 235.2h.7v.7h-.7zM242.0 235.9h.7v.7h-.7zM240.4 234.5h.7v.7h-.7zM246.6 241.5h.7v.7h-.7zM240.9 232.6h.7v.7h-.7zM241.2 233.9h.7v.7h-.7zM242.8 236.6h.7v.7h-.7zM247.2 240.9h.7v.7h-.7zM242.3 236.0h.7v.7h-.7zM240.6 234.8h.7v.7h-.7zM240.8 234.5h.7v.7h-.7zM249.3 242.1h.7v.7h-.7zM249.2 242.2h.7v.7h-.7zM240.8 235.1h.7v.7h-.7zM240.6 232.9h.7v.7h-.7zM241.2 232.5h.7v.7h-.7zM241.6 234.7h.7v.7h-.7zM242.0 234.3h.7v.7h-.7zM245.0 239.1h.7v.7h-.7zM242.3 237.6h.7v.7h-.7zM247.7 239.7h.7v.7h-.7zM250.2 241.8h.7v.7h-.7zM244.7 239.7h.7v.7h-.7zM241.1 233.6h.7v.7h-.7zM241.2 234.4h.7v.7h-.7zM248.3 241.0h.7v.7h-.7zM243.0 237.5h.7v.7h-.7zM240.1 234.1h.7v.7h-.7zM250.0 242.2h.7v.7h-.7zM249.8 242.0h.7v.7h-.7zM246.6 239.0h.7v.7h-.7zM241.4 233.1h.7v.7h-.7zM245.1 239.1h.7v.7h-.7zM241.9 237.6h.7v.7h-.7zM239.4 232.7h.7v.7h-.7zM240.4 234.0h.7v.7h-.7zM251.7 242.0h.7v.7h-.7zM243.8 237.3h.7v.7h-.7zM242.3 235.6h.7v.7h-.7zM242.4 237.1h.7v.7h-.7zM246.7 239.9h.7v.7h-.7zM247.3 241.6h.7v.7h-.7zM242.8 235.8h.7v.7h-.7zM242.3 236.6h.7v.7h-.7zM242.5 236.9h.7v.7h-.7zM240.7 233.7h.7v.7h-.7zM240.8 234.6h.7v.7h-.7zM249.3 241.3h.7v.7h-.7zM250.6 241.7h.7v.7h-.7zM250.2 241.4h.7v.7h-.7zM242.0 235.3h.7v.7h-.7zM246.7 240.1h.7v.7h-.7zM245.9 239.4h.7v.7h-.7zM247.3 241.0h.7v.7h-.7zM241.3 234.1h.7v.7h-.7zM241.5 233.9h.7v.7h-.7zM246.0 241.4h.7v.7h-.7zM244.8 239.4h.7v.7h-.7zM245.2 238.1h.7v.7h-.7zM246.8 240.3h.7v.7h-.7zM247.9 240.3h.7v.7h-.7zM248.6 241.5h.7v.7h-.7zM243.2 238.3h.7v.7h-.7zM250.0 241.8h.7v.7h-.7zM240.8 234.6h.7v.7h-.7zM241.7 235.9h.7v.7h-.7zM240.8 233.4h.7v.7h-.7zM241.1 234.3h.7v.7h-.7zM241.6 235.6h.7v.7h-.7zM244.8 238.8h.7v.7h-.7z" fill="#f7205e" stroke="none" stroke-width="1"/>
<path d="M272.1 244.2h.7v.7h-.7zM279.0 236.8h.7v.7h-.7zM279.3 238.8h.7v.7h-.7zM278.8 236.4h.7v.7h-.7zM278.6 235.0h.7v.7h-.7zM274.6 243.1h.7v.7h-.7zM268.1 246.1h.7v.7h-.7zM274.3 243.5h.7v.7h-.7zM259.0 243.9h.7v.7h-.7zM279.8 237.5h.7v.7h-.7zM274.7 242.5h.7v.7h-.7zM256.8 244.4h.7v.7h-.7zM257.8 242.7h.7v.7h-.7zM277.0 241.6h.7v.7h-.7zM262.8 244.0h.7v.7h-.7zM276.8 240.8h.7v.7h-.7zM270.7 244.9h.7v.7h-.7zM271.0 246.0h.7v.7h-.7zM266.8 245.9h.7v.7h-.7zM280.6 234.6h.7v.7h-.7zM277.2 241.3h.7v.7h-.7zM275.4 242.0h.7v.7h-.7zM270.7 245.0h.7v.7h-.7zM274.1 243.7h.7v.7h-.7zM276.7 242.0h.7v.7h-.7zM258.5 243.1h.7v.7h-.7zM276.6 241.7h.7v.7h-.7zM278.0 239.2h.7v.7h-.7zM278.4 235.1h.7v.7h-.7zM278.7 240.7h.7v.7h-.7zM270.5 244.9h.7v.7h-.7zM278.6 237.3h.7v.7h-.7zM259.0 244.9h.7v.7h-.7zM278.1 241.6h.7v.7h-.7zM268.7 246.4h.7v.7h-.7zM258.8 245.2h.7v.7h-.7zM257.3 242.7h.7v.7h-.7zM263.0 245.0h.7v.7h-.7zM279.2 236.3h.7v.7h-.7zM278.9 235.8h.7v.7h-.7zM272.9 242.9h.7v.7h-.7zM274.5 244.8h.7v.7h-.7zM279.8 237.8h.7v.7h-.7zM273.4 244.4h.7v.7h-.7zM278.1 238.4h.7v.7h-.7zM267.6 245.7h.7v.7h-.7zM272.5 244.2h.7v.7h-.7zM276.1 242.8h.7v.7h-.7zM276.1 242.0h.7v.7h-.7zM259.5 245.0h.7v.7h-.7zM278.6 239.9h.7v.7h-.7zM272.2 244.7h.7v.7h-.7zM280.4 234.5h.7v.7h-.7zM267.9 246.9h.7v.7h-.7zM263.1 244.9h.7v.7h-.7zM275.9 242.3h.7v.7h-.7zM261.5 244.7h.7v.7h-.7zM278.6 238.9h.7v.7h-.7zM257.1 244.4h.7v.7h-.7zM268.5 245.4h.7v.7h-.7zM276.4 242.3h.7v.7h-.7zM280.0 236.8h.7v.7h-.7zM266.6 245.4h.7v.7h-.7zM267.9 246.1h.7v.7h-.7zM273.2 243.9h.7v.7h-.7zM270.1 244.1h.7v.7h-.7zM265.7 245.4h.7v.7h-.7zM279.3 238.1h.7v.7h-.7zM257.7 244.5h.7v.7h-.7zM273.4 243.7h.7v.7h-.7zM278.7 236.9h.7v.7h-.7zM276.5 241.5h.7v.7h-.7zM260.8 244.2h.7v.7h-.7zM278.8 241.0h.7v.7h-.7zM270.5 244.6h.7v.7h-.7zM268.9 245.5h.7v.7h-.7zM280.6 237.9h.7v.7h-.7zM273.9 243.8h.7v.7h-.7zM260.9 245.1h.7v.7h-.7zM278.1 239.2h.7v.7h-.7zM277.4 240.8h.7v.7h-.7zM273.6 243.3h.7v.7h-.7zM259.8 244.3h.7v.7h-.7zM265.5 246.1h.7v.7h-.7zM272.2 244.8h.7v.7h-.7zM273.3 243.8h.7v.7h-.7zM258.1 243.7h.7v.7h-.7zM273.7 244.5h.7v.7h-.7zM277.5 240.1h.7v.7h-.7zM270.0 245.6h.7v.7h-.7zM274.3 244.3h.7v.7h-.7zM277.5 238.8h.7v.7h-.7zM279.4 238.0h.7v.7h-.7zM279.2 238.0h.7v.7h-.7zM257.0 244.4h.7v.7h-.7zM276.9 242.7h.7v.7h-.7zM277.9 241.2h.7v.7h-.7zM272.9 244.7h.7v.7h-.7zM263.2 246.0h.7v.7h-.7zM264.0 245.3h.7v.7h-.7zM277.6 240.5h.7v.7h-.7zM279.0 238.6h.7v.7h-.7zM277.3 240.3h.7v.7h-.7zM257.3 244.6h.7v.7h-.7zM278.2 240.7h.7v.7h-.7zM278.1 237.3h.7v.7h-.7zM272.3 244.8h.7v.7h-.7zM279.4 237.4h.7v.7h-.7zM278.1 240.8h.7v.7h-.7zM266.2 246.0h.7v.7h-.7zM266.2 245.8h.7v.7h-.7zM279.1 236.1h.7v.7h-.7zM256.8 243.5h.7v.7h-.7zM278.4 237.8h.7v.7h-.7zM258.3 243.7h.7v.7h-.7zM263.2 245.5h.7v.7h-.7zM279.9 235.9h.7v.7h-.7zM272.0 245.3h.7v.7h-.7zM278.5 237.7h.7v.7h-.7zM263.0 245.3h.7v.7h-.7zM262.7 244.6h.7v.7h-.7zM258.7 244.2h.7v.7h-.7zM278.2 238.1h.7v.7h-.7zM265.8 245.2h.7v.7h-.7zM261.7 244.8h.7v.7h-.7zM279.2 236.9h.7v.7h-.7zM262.6 244.6h.7v.7h-.7zM263.1 244.9h.7v.7h-.7zM273.4 244.4h.7v.7h-.7zM260.3 244.8h.7v.7h-.7zM261.9 245.6h.7v.7h-.7zM269.6 245.4h.7v.7h-.7zM271.3 245.3h.7v.7h-.7zM280.3 236.1h.7v.7h-.7zM265.3 246.1h.7v.7h-.7zM275.0 242.6h.7v.7h-.7zM278.1 237.3h.7v.7h-.7zM260.8 246.0h.7v.7h-.7zM273.1 244.1h.7v.7h-.7zM259.3 245.4h.7v.7h-.7zM264.8 246.1h.7v.7h-.7zM259.5 243.6h.7v.7h-.7zM268.7 245.2h.7v.7h-.7zM271.7 244.1h.7v.7h-.7zM279.0 238.1h.7v.7h-.7zM277.5 239.3h.7v.7h-.7zM278.7 239.4h.7v.7h-.7zM258.5 244.3h.7v.7h-.7zM278.4 239.8h.7v.7h-.7zM276.2 243.4h.7v.7h-.7zM260.9 244.1h.7v.7h-.7zM262.7 246.0h.7v.7h-.7zM278.6 240.3h.7v.7h-.7zM263.2 245.5h.7v.7h-.7zM276.8 243.2h.7v.7h-.7zM276.9 241.2h.7v.7h-.7zM278.8 237.8h.7v.7h-.7zM279.8 236.7h.7v.7h-.7zM263.8 245.8h.7v.7h-.7zM258.7 244.0h.7v.7h-.7zM260.3 244.0h.7v.7h-.7zM278.9 238.6h.7v.7h-.7zM279.3 238.1h.7v.7h-.7zM262.6 245.1h.7v.7h-.7zM263.8 245.9h.7v.7h-.7zM258.4 244.3h.7v.7h-.7zM266.2 244.4h.7v.7h-.7zM274.8 242.8h.7v.7h-.7zM265.1 245.4h.7v.7h-.7zM272.0 244.6h.7v.7h-.7z" fill="#f7205e" stroke="none" stroke-width="1"/>
<path d="M267.7 236.2h.7v.7h-.7zM270.2 242.6h.7v.7h-.7zM272.4 237.8h.7v.7h-.7zM270.1 236.4h.7v.7h-.7zM274.2 237.7h.7v.7h-.7zM274.3 236.1h.7v.7h-.7zM271.8 238.1h.7v.7h-.7zM274.3 240.0h.7v.7h-.7zM270.6 242.9h.7v.7h-.7zM273.3 239.8h.7v.7h-.7zM276.2 239.1h.7v.7h-.7zM272.5 242.1h.7v.7h-.7zM269.4 242.8h.7v.7h-.7zM271.2 244.4h.7v.7h-.7zM278.3 237.1h.7v.7h-.7zM275.0 240.7h.7v.7h-.7zM278.0 238.8h.7v.7h-.7zM271.8 241.8h.7v.7h-.7zM267.5 240.6h.7v.7h-.7zM276.3 237.6h.7v.7h-.7zM266.5 242.7h.7v.7h-.7zM266.6 238.8h.7v.7h-.7zM268.3 241.2h.7v.7h-.7zM273.7 241.2h.7v.7h-.7zM270.9 244.3h.7v.7h-.7zM275.2 237.7h.7v.7h-.7zM269.5 238.8h.7v.7h-.7zM269.0 240.9h.7v.7h-.7zM268.8 240.1h.7v.7h-.7zM272.0 242.6h.7v.7h-.7zM277.6 241.3h.7v.7h-.7zM266.7 241.8h.7v.7h-.7zM275.9 239.6h.7v.7h-.7zM269.2 242.9h.7v.7h-.7zM269.5 236.6h.7v.7h-.7zM272.3 236.8h.7v.7h-.7zM273.8 237.3h.7v.7h-.7zM273.7 236.6h.7v.7h-.7zM269.5 239.0h.7v.7h-.7zM275.0 239.5h.7v.7h-.7zM270.2 239.7h.7v.7h-.7zM278.9 239.3h.7v.7h-.7zM276.8 241.1h.7v.7h-.7zM273.6 238.1h.7v.7h-.7zM269.0 243.9h.7v.7h-.7zM269.7 240.2h.7v.7h-.7zM270.9 238.8h.7v.7h-.7zM274.3 242.5h.7v.7h-.7zM266.6 241.5h.7v.7h-.7zM268.6 237.4h.7v.7h-.7zM276.1 238.8h.7v.7h-.7zM269.4 241.5h.7v.7h-.7zM267.3 243.8h.7v.7h-.7zM267.2 245.2h.7v.7h-.7zM274.9 243.3h.7v.7h-.7zM274.4 242.1h.7v.7h-.7zM271.3 242.2h.7v.7h-.7zM266.4 245.0h.7v.7h-.7zM266.3 241.4h.7v.7h-.7zM271.2 244.0h.7v.7h-.7zM266.7 243.8h.7v.7h-.7zM267.4 245.8h.7v.7h-.7zM268.6 243.8h.7v.7h-.7zM276.2 237.8h.7v.7h-.7zM272.4 241.3h.7v.7h-.7zM272.9 239.1h.7v.7h-.7zM266.5 240.1h.7v.7h-.7zM267.5 236.4h.7v.7h-.7zM271.6 241.3h.7v.7h-.7zM276.8 241.4h.7v.7h-.7zM276.4 240.4h.7v.7h-.7zM270.2 240.2h.7v.7h-.7zM273.0 236.7h.7v.7h-.7zM267.7 241.1h.7v.7h-.7zM275.3 241.1h.7v.7h-.7zM268.3 240.1h.7v.7h-.7zM277.9 238.1h.7v.7h-.7zM270.8 239.9h.7v.7h-.7zM271.2 237.2h.7v.7h-.7zM273.5 240.6h.7v.7h-.7zM276.8 241.0h.7v.7h-.7zM267.8 241.3h.7v.7h-.7zM277.8 237.8h.7v.7h-.7zM271.2 242.0h.7v.7h-.7zM276.1 236.6h.7v.7h-.7zM265.6 241.2h.7v.7h-.7zM268.0 239.5h.7v.7h-.7zM267.0 243.1h.7v.7h-.7zM273.0 241.8h.7v.7h-.7zM268.5 242.8h.7v.7h-.7z" fill="#f7205e" stroke="none" stroke-width="1"/>
<path d="M247.9 236.9h.7v.7h-.7zM245.6 235.9h.7v.7h-.7zM246.0 236.9h.7v.7h-.7zM250.5 241.3h.7v.7h-.7zM245.7 233.0h.7v.7h-.7zM250.3 237.5h.7v.7h-.7zM245.2 235.2h.7v.7h-.7zM242.8 236.3h.7v.7h-.7zM249.8 241.0h.7v.7h-.7zM252.0 236.3h.7v.7h-.7zM247.7 236.9h.7v.7h-.7zM245.8 237.4h.7v.7h-.7zM250.0 237.0h.7v.7h-.7zM252.0 238.5h.7v.7h-.7zM243.6 233.5h.7v.7h-.7zM251.4 238.7h.7v.7h-.7zM253.5 239.7h.7v.7h-.7zM251.5 235.9h.7v.7h-.7zM249.2 239.6h.7v.7h-.7zM246.4 234.7h.7v.7h-.7zM252.1 239.9h.7v.7h-.7zM248.8 240.6h.7v.7h-.7zM244.5 236.4h.7v.7h-.7zM245.9 234.9h.7v.7h-.7zM253.0 241.2h.7v.7h-.7zM246.2 233.3h.7v.7h-.7zM247.7 233.9h.7v.7h-.7zM254.6 239.9h.7v.7h-.7zM243.3 233.4h.7v.7h-.7zM244.2 235.5h.7v.7h-.7zM246.1 238.5h.7v.7h-.7zM246.0 235.3h.7v.7h-.7zM247.7 239.3h.7v.7h-.7zM243.0 235.6h.7v.7h-.7zM254.4 238.5h.7v.7h-.7zM249.7 240.7h.7v.7h-.7zM243.3 235.5h.7v.7h-.7zM247.5 234.6h.7v.7h-.7zM241.8 232.9h.7v.7h-.7zM246.5 235.5h.7v.7h-.7zM249.0 236.7h.7v.7h-.7zM246.3 236.4h.7v.7h-.7zM242.2 233.7h.7v.7h-.7zM244.1 234.4h.7v.7h-.7zM251.0 236.8h.7v.7h-.7z" fill="#f7205e" stroke="none" stroke-width="1"/>
<path d="M257.9 221.6h.7v.7h-.7zM258.0 222.1h.7v.7h-.7zM260.6 222.4h.7v.7h-.7zM258.7 223.4h.7v.7h-.7zM257.2 221.3h.7v.7h-.7zM258.9 223.8h.7v.7h-.7zM263.4 223.5h.7v.7h-.7zM260.8 223.8h.7v.7h-.7zM260.4 222.0h.7v.7h-.7zM252.6 224.5h.7v.7h-.7zM258.1 221.4h.7v.7h-.7zM259.6 222.8h.7v.7h-.7zM256.5 223.7h.7v.7h-.7zM256.0 222.3h.7v.7h-.7zM259.3 219.9h.7v.7h-.7zM259.9 222.7h.7v.7h-.7zM261.0 222.0h.7v.7h-.7zM258.7 222.6h.7v.7h-.7zM259.0 222.3h.7v.7h-.7zM255.8 222.1h.7v.7h-.7zM263.8 222.9h.7v.7h-.7zM260.6 222.4h.7v.7h-.7zM260.0 220.2h.7v.7h-.7zM256.1 223.1h.7v.7h-.7zM262.1 223.6h.7v.7h-.7zM256.0 223.4h.7v.7h-.7zM255.1 225.1h.7v.7h-.7zM260.7 224.6h.7v.7h-.7zM256.3 224.0h.7v.7h-.7zM257.4 223.0h.7v.7h-.7zM258.0 223.4h.7v.7h-.7zM261.4 223.1h.7v.7h-.7zM257.7 223.1h.7v.7h-.7zM257.3 222.2h.7v.7h-.7zM261.5 221.7h.7v.7h-.7zM262.6 223.0h.7v.7h-.7zM259.4 218.9h.7v.7h-.7zM255.2 222.2h.7v.7h-.7zM263.2 221.3h.7v.7h-.7zM257.4 223.5h.7v.7h-.7zM256.0 226.3h.7v.7h-.7zM259.2 222.3h.7v.7h-.7zM260.3 222.0h.7v.7h-.7zM259.4 221.7h.7v.7h-.7zM261.5 223.8h.7v.7h-.7zM260.5 224.1h.7v.7h-.7zM259.8 224.9h.7v.7h-.7zM256.4 222.1h.7v.7h-.7zM256.2 222.6h.7v.7h-.7zM260.2 223.1h.7v.7h-.7zM254.5 228.1h.7v.7h-.7zM254.2 222.8h.7v.7h-.7zM253.5 226.6h.7v.7h-.7zM255.9 225.9h.7v.7h-.7zM254.9 225.7h.7v.7h-.7zM253.9 225.9h.7v.7h-.7zM253.5 226.4h.7v.7h-.7zM253.1 226.7h.7v.7h-.7zM251.7 226.4h.7v.7h-.7zM249.4 225.4h.7v.7h-.7zM250.1 225.5h.7v.7h-.7zM254.1 225.1h.7v.7h-.7zM249.5 226.7h.7v.7h-.7zM255.3 225.7h.7v.7h-.7zM251.3 225.0h.7v.7h-.7zM250.8 224.9h.7v.7h-.7zM250.8 226.2h.7v.7h-.7zM250.7 227.3h.7v.7h-.7zM254.1 226.6h.7v.7h-.7zM249.9 225.3h.7v.7h-.7zM252.7 224.5h.7v.7h-.7zM249.1 226.0h.7v.7h-.7zM250.2 225.0h.7v.7h-.7zM250.4 225.8h.7v.7h-.7zM248.7 226.6h.7v.7h-.7zM255.6 225.1h.7v.7h-.7zM256.2 226.0h.7v.7h-.7zM254.0 225.9h.7v.7h-.7zM261.4 226.6h.7v.7h-.7zM257.1 226.1h.7v.7h-.7zM250.2 225.9h.7v.7h-.7zM248.1 226.6h.7v.7h-.7zM252.1 226.0h.7v.7h-.7zM247.6 226.0h.7v.7h-.7zM254.7 226.8h.7v.7h-.7zM251.1 225.4h.7v.7h-.7zM251.8 224.5h.7v.7h-.7zM252.8 225.3h.7v.7h-.7zM259.5 226.9h.7v.7h-.7zM247.2 226.1h.7v.7h-.7zM251.5 225.6h.7v.7h-.7zM247.9 226.5h.7v.7h-.7zM248.8 227.1h.7v.7h-.7zM253.6 226.3h.7v.7h-.7zM249.5 226.4h.7v.7h-.7zM264.5 231.6h.7v.7h-.7zM260.6 231.3h.7v.7h-.7zM260.1 232.6h.7v.7h-.7zM261.0 231.9h.7v.7h-.7zM261.2 232.1h.7v.7h-.7zM266.8 232.3h.7v.7h-.7zM260.3 232.5h.7v.7h-.7zM260.4 233.1h.7v.7h-.7zM262.8 232.4h.7v.7h-.7zM261.6 230.3h.7v.7h-.7zM263.5 234.3h.7v.7h-.7zM264.0 233.3h.7v.7h-.7zM260.7 233.4h.7v.7h-.7zM259.3 232.2h.7v.7h-.7zM263.4 229.6h.7v.7h-.7zM260.2 231.6h.7v.7h-.7zM262.5 231.9h.7v.7h-.7zM260.3 232.7h.7v.7h-.7zM267.5 230.7h.7v.7h-.7zM267.3 230.0h.7v.7h-.7zM258.1 231.4h.7v.7h-.7zM259.7 233.0h.7v.7h-.7zM261.3 231.7h.7v.7h-.7zM264.5 231.7h.7v.7h-.7zM260.8 233.4h.7v.7h-.7zM263.2 232.2h.7v.7h-.7zM260.6 231.3h.7v.7h-.7zM262.6 230.5h.7v.7h-.7zM259.2 232.6h.7v.7h-.7zM264.8 230.2h.7v.7h-.7zM263.5 233.3h.7v.7h-.7zM263.1 233.7h.7v.7h-.7zM260.4 229.9h.7v.7h-.7zM259.7 231.4h.7v.7h-.7zM263.0 229.9h.7v.7h-.7zM250.6 231.2h.7v.7h-.7zM250.3 229.0h.7v.7h-.7zM244.9 230.1h.7v.7h-.7zM248.5 229.0h.7v.7h-.7zM249.6 230.1h.7v.7h-.7zM250.1 229.7h.7v.7h-.7zM245.0 229.4h.7v.7h-.7zM247.8 228.0h.7v.7h-.7zM250.5 230.1h.7v.7h-.7zM251.7 227.5h.7v.7h-.7zM244.8 227.0h.7v.7h-.7zM247.2 229.3h.7v.7h-.7zM248.4 230.1h.7v.7h-.7zM244.8 227.7h.7v.7h-.7zM245.7 229.5h.7v.7h-.7zM244.1 227.5h.7v.7h-.7zM247.0 231.2h.7v.7h-.7zM249.4 228.1h.7v.7h-.7zM239.3 229.1h.7v.7h-.7zM249.4 226.0h.7v.7h-.7zM241.6 228.8h.7v.7h-.7zM245.0 230.3h.7v.7h-.7zM248.4 228.9h.7v.7h-.7zM247.5 231.2h.7v.7h-.7zM248.0 230.4h.7v.7h-.7zM246.3 228.5h.7v.7h-.7zM244.1 227.2h.7v.7h-.7zM244.6 228.2h.7v.7h-.7zM250.9 229.3h.7v.7h-.7zM249.0 228.3h.7v.7h-.7zM246.4 228.6h.7v.7h-.7zM249.4 229.3h.7v.7h-.7zM246.3 229.2h.7v.7h-.7zM249.1 229.4h.7v.7h-.7zM246.2 228.0h.7v.7h-.7zM247.3 229.3h.7v.7h-.7zM245.7 226.2h.7v.7h-.7zM243.1 229.0h.7v.7h-.7zM245.2 227.5h.7v.7h-.7zM252.4 228.4h.7v.7h-.7zM277.5 224.5h.7v.7h-.7zM272.9 223.5h.7v.7h-.7zM279.1 222.4h.7v.7h-.7zM274.2 225.5h.7v.7h-.7zM267.6 223.6h.7v.7h-.7zM272.6 225.9h.7v.7h-.7zM272.5 218.8h.7v.7h-.7zM275.4 223.6h.7v.7h-.7zM273.8 224.8h.7v.7h-.7zM273.0 220.4h.7v.7h-.7zM275.2 223.9h.7v.7h-.7zM266.4 226.5h.7v.7h-.7zM271.1 226.1h.7v.7h-.7zM275.3 222.4h.7v.7h-.7zM275.0 226.7h.7v.7h-.7zM276.0 220.3h.7v.7h-.7zM271.5 221.7h.7v.7h-.7zM274.0 219.8h.7v.7h-.7zM271.2 222.5h.7v.7h-.7zM273.1 223.7h.7v.7h-.7zM272.4 220.5h.7v.7h-.7zM271.6 219.5h.7v.7h-.7zM265.1 223.7h.7v.7h-.7zM274.5 220.5h.7v.7h-.7zM272.4 221.4h.7v.7h-.7zM270.3 223.2h.7v.7h-.7zM272.4 220.9h.7v.7h-.7zM271.6 222.4h.7v.7h-.7zM274.5 230.0h.7v.7h-.7zM270.5 222.1h.7v.7h-.7zM271.5 223.3h.7v.7h-.7zM277.0 221.3h.7v.7h-.7zM272.6 223.3h.7v.7h-.7zM274.5 229.1h.7v.7h-.7zM268.2 218.3h.7v.7h-.7zM269.9 223.3h.7v.7h-.7zM271.6 225.3h.7v.7h-.7zM277.3 224.7h.7v.7h-.7zM275.5 223.4h.7v.7h-.7zM271.1 224.7h.7v.7h-.7zM270.0 223.0h.7v.7h-.7zM270.2 224.1h.7v.7h-.7zM270.6 224.7h.7v.7h-.7zM272.2 225.3h.7v.7h-.7zM273.8 223.7h.7v.7h-.7zM255.6 235.9h.7v.7h-.7zM253.8 232.5h.7v.7h-.7zM256.4 234.0h.7v.7h-.7zM256.5 236.5h.7v.7h-.7zM255.1 231.7h.7v.7h-.7zM257.3 231.9h.7v.7h-.7zM257.5 238.1h.7v.7h-.7zM254.2 229.2h.7v.7h-.7zM254.5 233.9h.7v.7h-.7zM253.1 235.6h.7v.7h-.7zM250.8 237.3h.7v.7h-.7zM255.6 239.4h.7v.7h-.7zM255.4 233.6h.7v.7h-.7zM256.3 234.3h.7v.7h-.7zM255.4 233.7h.7v.7h-.7zM256.1 233.6h.7v.7h-.7zM257.8 232.8h.7v.7h-.7zM255.2 234.4h.7v.7h-.7zM255.4 233.4h.7v.7h-.7zM255.0 235.0h.7v.7h-.7zM261.8 234.6h.7v.7h-.7zM255.5 235.0h.7v.7h-.7zM254.2 234.3h.7v.7h-.7zM258.0 235.7h.7v.7h-.7zM255.4 235.7h.7v.7h-.7zM256.6 232.9h.7v.7h-.7zM260.6 236.5h.7v.7h-.7zM255.1 232.5h.7v.7h-.7zM253.5 230.1h.7v.7h-.7zM256.6 233.5h.7v.7h-.7zM260.5 235.1h.7v.7h-.7zM258.2 235.7h.7v.7h-.7zM258.6 233.6h.7v.7h-.7zM259.8 236.3h.7v.7h-.7zM257.1 232.5h.7v.7h-.7zM257.1 236.9h.7v.7h-.7zM255.0 236.5h.7v.7h-.7zM256.3 234.2h.7v.7h-.7zM252.8 235.7h.7v.7h-.7zM253.8 237.3h.7v.7h-.7zM271.1 229.4h.7v.7h-.7zM277.6 231.1h.7v.7h-.7zM271.6 230.4h.7v.7h-.7zM276.2 231.2h.7v.7h-.7zM266.8 230.1h.7v.7h-.7zM269.6 231.4h.7v.7h-.7zM272.2 229.7h.7v.7h-.7zM268.9 234.5h.7v.7h-.7zM269.3 231.6h.7v.7h-.7zM268.1 230.5h.7v.7h-.7zM271.8 231.8h.7v.7h-.7zM272.3 229.5h.7v.7h-.7zM269.4 233.7h.7v.7h-.7zM271.1 231.2h.7v.7h-.7zM276.7 229.7h.7v.7h-.7zM272.2 232.1h.7v.7h-.7zM270.7 229.5h.7v.7h-.7zM270.5 231.9h.7v.7h-.7zM273.8 231.6h.7v.7h-.7zM266.6 232.9h.7v.7h-.7zM269.0 229.7h.7v.7h-.7zM273.4 231.5h.7v.7h-.7zM276.6 230.3h.7v.7h-.7zM272.9 231.0h.7v.7h-.7zM264.2 230.0h.7v.7h-.7zM273.3 232.2h.7v.7h-.7zM270.4 230.5h.7v.7h-.7zM269.0 233.2h.7v.7h-.7zM272.3 230.6h.7v.7h-.7zM273.6 230.9h.7v.7h-.7zM269.2 231.3h.7v.7h-.7zM273.6 230.2h.7v.7h-.7zM270.7 229.0h.7v.7h-.7zM268.6 231.7h.7v.7h-.7zM275.3 230.5h.7v.7h-.7zM272.0 230.2h.7v.7h-.7zM268.7 230.8h.7v.7h-.7zM266.9 233.2h.7v.7h-.7zM264.0 229.5h.7v.7h-.7zM264.8 228.8h.7v.7h-.7zM277.3 222.9h.7v.7h-.7zM267.3 222.0h.7v.7h-.7zM269.4 221.5h.7v.7h-.7zM265.7 218.6h.7v.7h-.7zM268.8 219.7h.7v.7h-.7zM260.6 223.0h.7v.7h-.7zM264.0 220.1h.7v.7h-.7zM273.0 223.8h.7v.7h-.7zM274.0 221.6h.7v.7h-.7zM265.7 219.8h.7v.7h-.7zM258.2 219.8h.7v.7h-.7zM265.5 219.0h.7v.7h-.7zM263.6 220.7h.7v.7h-.7zM263.3 219.6h.7v.7h-.7zM267.6 218.8h.7v.7h-.7zM274.7 222.3h.7v.7h-.7zM266.7 223.3h.7v.7h-.7zM267.4 215.8h.7v.7h-.7zM263.9 220.7h.7v.7h-.7zM264.1 221.0h.7v.7h-.7zM266.0 219.6h.7v.7h-.7zM264.6 218.7h.7v.7h-.7zM268.6 219.8h.7v.7h-.7zM265.5 221.6h.7v.7h-.7zM255.0 219.4h.7v.7h-.7zM267.0 224.7h.7v.7h-.7zM261.0 215.8h.7v.7h-.7zM268.2 223.9h.7v.7h-.7zM263.9 219.5h.7v.7h-.7zM278.0 223.3h.7v.7h-.7zM272.2 221.8h.7v.7h-.7zM272.4 216.0h.7v.7h-.7zM266.2 223.1h.7v.7h-.7zM263.1 224.9h.7v.7h-.7zM268.5 219.1h.7v.7h-.7zM268.4 222.7h.7v.7h-.7zM273.2 223.8h.7v.7h-.7zM273.6 221.4h.7v.7h-.7zM271.5 219.6h.7v.7h-.7zM258.3 222.0h.7v.7h-.7zM241.8 222.1h.7v.7h-.7zM248.2 221.1h.7v.7h-.7zM244.9 224.9h.7v.7h-.7zM248.4 221.7h.7v.7h-.7zM242.4 219.9h.7v.7h-.7zM244.0 223.1h.7v.7h-.7zM248.4 227.1h.7v.7h-.7zM250.2 223.2h.7v.7h-.7zM244.7 219.1h.7v.7h-.7zM238.7 217.2h.7v.7h-.7zM245.0 220.9h.7v.7h-.7zM246.0 220.2h.7v.7h-.7zM247.2 227.4h.7v.7h-.7zM243.6 219.4h.7v.7h-.7zM250.0 226.3h.7v.7h-.7zM246.0 218.8h.7v.7h-.7zM250.6 217.0h.7v.7h-.7zM249.6 218.2h.7v.7h-.7zM250.9 223.2h.7v.7h-.7zM255.7 217.0h.7v.7h-.7zM250.9 216.4h.7v.7h-.7zM245.7 216.5h.7v.7h-.7zM236.5 222.0h.7v.7h-.7zM239.8 224.6h.7v.7h-.7zM250.0 220.7h.7v.7h-.7zM236.6 218.6h.7v.7h-.7zM242.4 214.3h.7v.7h-.7zM245.9 220.4h.7v.7h-.7zM238.9 218.5h.7v.7h-.7zM237.7 220.9h.7v.7h-.7zM247.5 222.6h.7v.7h-.7zM253.9 221.3h.7v.7h-.7zM243.9 220.2h.7v.7h-.7zM241.2 221.1h.7v.7h-.7zM248.2 213.9h.7v.7h-.7z" fill="#fff" stroke="none" stroke-width="1"/>
<path d="M368.04 202.77C369.23 201.58 370.85 200.68 372.64 200.22C374.43 199.76 376.55 199.84 378.77 200.01C380.98 200.18 383.54 200.61 385.92 201.24C388.31 201.87 391.03 202.77 393.07 203.8C395.12 204.82 396.65 206.09 398.18 207.37C399.72 208.65 401.25 209.93 402.27 211.46C403.29 212.99 404.14 214.7 404.32 216.57C404.49 218.44 403.26 220.83 403.29 222.7C403.33 224.57 404.09 226.11 404.52 227.81C404.95 229.51 405.8 231.47 405.85 232.92C405.9 234.37 405.59 236.15 404.83 236.49C404.06 236.84 402.53 235.13 401.25 234.96C399.97 234.79 398.44 235.39 397.16 235.47C395.88 235.56 394.4 235.01 393.59 235.47C392.77 235.93 392.85 237.3 392.26 238.23C391.66 239.17 391.07 240.53 390.01 241.09C388.95 241.66 387.28 241.94 385.92 241.6C384.56 241.26 383.03 239.99 381.83 239.05C380.64 238.11 379.96 237.01 378.77 235.98C377.58 234.96 376.04 233.68 374.68 232.92C373.32 232.15 371.79 231.56 370.59 231.39C369.4 231.22 368.46 232.07 367.53 231.9C366.59 231.73 365.74 231.56 364.97 230.36C364.21 229.17 363.19 226.7 362.93 224.74C362.67 222.78 363.27 220.66 363.44 218.61C363.61 216.57 363.61 214.35 363.95 212.48C364.29 210.61 364.8 208.99 365.48 207.37C366.17 205.75 366.85 203.97 368.04 202.77Z" fill="#f7205e" stroke="none" stroke-width="1" filter="url(#sp2)"/>
<path d="M371.8 239.4h.7v.7h-.7zM370.6 239.2h.7v.7h-.7zM370.5 239.9h.7v.7h-.7zM372.2 239.1h.7v.7h-.7zM372.1 241.3h.7v.7h-.7zM377.3 242.3h.7v.7h-.7zM367.5 234.4h.7v.7h-.7zM372.5 239.7h.7v.7h-.7zM368.9 236.5h.7v.7h-.7zM368.7 236.5h.7v.7h-.7zM376.2 241.8h.7v.7h-.7zM374.2 240.3h.7v.7h-.7zM373.0 239.9h.7v.7h-.7zM370.2 238.3h.7v.7h-.7zM369.4 237.4h.7v.7h-.7zM366.8 233.8h.7v.7h-.7zM366.9 234.0h.7v.7h-.7zM369.6 238.3h.7v.7h-.7zM373.4 240.2h.7v.7h-.7zM366.8 233.1h.7v.7h-.7zM370.7 239.7h.7v.7h-.7zM369.2 237.3h.7v.7h-.7zM371.7 239.6h.7v.7h-.7zM367.7 234.1h.7v.7h-.7zM374.1 241.9h.7v.7h-.7zM367.4 234.9h.7v.7h-.7zM367.1 234.6h.7v.7h-.7zM372.8 240.1h.7v.7h-.7zM374.0 240.4h.7v.7h-.7zM370.9 239.3h.7v.7h-.7zM369.8 238.0h.7v.7h-.7zM377.5 241.3h.7v.7h-.7zM377.9 242.9h.7v.7h-.7zM367.5 234.2h.7v.7h-.7zM368.3 237.1h.7v.7h-.7zM377.3 243.2h.7v.7h-.7zM368.2 235.5h.7v.7h-.7zM377.5 242.8h.7v.7h-.7zM377.1 243.1h.7v.7h-.7zM377.4 243.0h.7v.7h-.7zM377.5 241.9h.7v.7h-.7zM371.2 239.1h.7v.7h-.7zM372.2 239.9h.7v.7h-.7zM367.4 234.1h.7v.7h-.7zM371.9 238.2h.7v.7h-.7zM374.9 240.6h.7v.7h-.7zM367.6 234.5h.7v.7h-.7zM370.6 239.7h.7v.7h-.7zM372.8 240.2h.7v.7h-.7zM376.4 242.8h.7v.7h-.7zM375.5 241.3h.7v.7h-.7zM366.9 233.5h.7v.7h-.7zM371.0 239.2h.7v.7h-.7zM372.6 239.7h.7v.7h-.7zM372.3 240.8h.7v.7h-.7zM368.9 236.9h.7v.7h-.7zM376.9 242.1h.7v.7h-.7zM370.0 239.1h.7v.7h-.7zM367.5 235.1h.7v.7h-.7zM374.0 241.0h.7v.7h-.7zM370.9 237.9h.7v.7h-.7zM369.0 238.2h.7v.7h-.7zM375.8 241.3h.7v.7h-.7zM369.9 236.8h.7v.7h-.7zM376.1 241.0h.7v.7h-.7zM368.4 235.6h.7v.7h-.7zM368.3 236.3h.7v.7h-.7zM369.1 237.5h.7v.7h-.7zM374.6 240.6h.7v.7h-.7zM369.7 237.3h.7v.7h-.7zM377.8 242.0h.7v.7h-.7zM377.0 242.1h.7v.7h-.7zM374.6 241.5h.7v.7h-.7zM366.6 232.6h.7v.7h-.7zM374.0 241.6h.7v.7h-.7zM366.9 232.7h.7v.7h-.7zM374.1 240.3h.7v.7h-.7zM372.7 240.3h.7v.7h-.7zM375.8 241.9h.7v.7h-.7zM373.2 240.5h.7v.7h-.7zM373.3 240.7h.7v.7h-.7zM370.6 239.0h.7v.7h-.7zM376.4 241.5h.7v.7h-.7zM370.3 239.2h.7v.7h-.7zM373.3 240.6h.7v.7h-.7zM366.5 233.4h.7v.7h-.7zM368.6 238.9h.7v.7h-.7zM372.6 239.6h.7v.7h-.7zM371.2 238.9h.7v.7h-.7zM373.3 240.2h.7v.7h-.7zM369.1 237.1h.7v.7h-.7zM376.6 241.8h.7v.7h-.7zM371.8 239.3h.7v.7h-.7zM372.2 240.1h.7v.7h-.7zM366.7 233.5h.7v.7h-.7zM370.7 239.0h.7v.7h-.7zM366.1 232.2h.7v.7h-.7zM372.9 240.4h.7v.7h-.7zM377.4 243.7h.7v.7h-.7zM372.9 240.4h.7v.7h-.7zM372.0 239.0h.7v.7h-.7zM371.1 240.5h.7v.7h-.7zM366.5 234.0h.7v.7h-.7zM369.9 238.2h.7v.7h-.7zM367.8 236.3h.7v.7h-.7zM367.7 236.8h.7v.7h-.7zM368.1 235.4h.7v.7h-.7zM368.1 234.1h.7v.7h-.7zM367.4 233.6h.7v.7h-.7zM374.9 241.1h.7v.7h-.7z" fill="#f7205e" stroke="none" stroke-width="1"/>
<path d="M396.9 246.9h.7v.7h-.7zM395.6 247.1h.7v.7h-.7zM401.7 242.3h.7v.7h-.7zM383.4 243.1h.7v.7h-.7zM394.3 246.7h.7v.7h-.7zM403.8 240.8h.7v.7h-.7zM405.5 236.7h.7v.7h-.7zM404.7 235.0h.7v.7h-.7zM394.6 245.9h.7v.7h-.7zM404.5 239.2h.7v.7h-.7zM406.1 235.7h.7v.7h-.7zM399.2 245.2h.7v.7h-.7zM387.8 245.9h.7v.7h-.7zM387.1 244.5h.7v.7h-.7zM393.2 245.0h.7v.7h-.7zM403.6 240.7h.7v.7h-.7zM397.6 245.2h.7v.7h-.7zM402.3 241.7h.7v.7h-.7zM403.4 239.8h.7v.7h-.7zM396.9 245.4h.7v.7h-.7zM391.7 244.5h.7v.7h-.7zM396.4 246.2h.7v.7h-.7zM401.3 242.4h.7v.7h-.7zM383.4 243.8h.7v.7h-.7zM396.9 245.9h.7v.7h-.7zM403.2 240.7h.7v.7h-.7zM403.2 241.0h.7v.7h-.7zM395.6 245.7h.7v.7h-.7zM390.2 245.3h.7v.7h-.7zM391.8 245.0h.7v.7h-.7zM406.1 235.4h.7v.7h-.7zM390.6 246.3h.7v.7h-.7zM404.4 241.1h.7v.7h-.7zM406.0 237.9h.7v.7h-.7zM399.0 245.0h.7v.7h-.7zM402.8 241.0h.7v.7h-.7zM406.3 236.5h.7v.7h-.7zM389.8 245.3h.7v.7h-.7zM400.5 243.3h.7v.7h-.7zM391.3 246.8h.7v.7h-.7zM406.0 236.7h.7v.7h-.7zM399.4 244.3h.7v.7h-.7zM387.6 245.2h.7v.7h-.7zM405.1 239.7h.7v.7h-.7zM383.8 244.0h.7v.7h-.7zM398.0 245.6h.7v.7h-.7zM403.5 242.6h.7v.7h-.7zM393.9 245.4h.7v.7h-.7zM405.0 235.5h.7v.7h-.7zM405.8 238.7h.7v.7h-.7zM396.7 245.3h.7v.7h-.7zM402.4 242.7h.7v.7h-.7zM387.1 245.0h.7v.7h-.7zM395.4 245.9h.7v.7h-.7zM404.9 240.1h.7v.7h-.7zM400.4 242.5h.7v.7h-.7zM399.1 243.9h.7v.7h-.7zM406.5 237.0h.7v.7h-.7zM404.6 239.9h.7v.7h-.7zM399.7 243.1h.7v.7h-.7zM385.1 244.5h.7v.7h-.7zM396.2 245.3h.7v.7h-.7zM404.7 237.5h.7v.7h-.7zM406.2 237.5h.7v.7h-.7zM387.4 245.2h.7v.7h-.7zM403.7 239.9h.7v.7h-.7zM393.3 245.8h.7v.7h-.7zM384.9 243.7h.7v.7h-.7zM406.0 236.3h.7v.7h-.7zM389.1 246.0h.7v.7h-.7zM406.0 237.9h.7v.7h-.7zM400.4 243.1h.7v.7h-.7zM402.5 241.6h.7v.7h-.7zM397.6 245.9h.7v.7h-.7zM397.5 245.4h.7v.7h-.7zM405.4 235.5h.7v.7h-.7zM391.8 245.0h.7v.7h-.7zM405.3 238.5h.7v.7h-.7zM394.0 246.5h.7v.7h-.7zM406.2 236.3h.7v.7h-.7zM396.1 245.5h.7v.7h-.7zM403.6 240.1h.7v.7h-.7zM384.3 243.2h.7v.7h-.7zM404.7 239.4h.7v.7h-.7zM403.6 239.6h.7v.7h-.7zM405.5 237.0h.7v.7h-.7zM405.5 237.1h.7v.7h-.7zM397.1 244.8h.7v.7h-.7zM389.8 244.8h.7v.7h-.7zM403.0 242.2h.7v.7h-.7zM401.6 242.4h.7v.7h-.7zM383.2 244.0h.7v.7h-.7zM404.7 235.9h.7v.7h-.7zM399.5 244.8h.7v.7h-.7zM398.7 244.3h.7v.7h-.7zM405.2 235.7h.7v.7h-.7zM404.2 241.0h.7v.7h-.7zM406.8 237.0h.7v.7h-.7zM388.5 244.3h.7v.7h-.7zM406.2 236.2h.7v.7h-.7zM399.4 244.4h.7v.7h-.7zM404.1 240.6h.7v.7h-.7zM399.2 244.1h.7v.7h-.7zM403.3 241.6h.7v.7h-.7zM405.3 237.6h.7v.7h-.7zM383.4 243.3h.7v.7h-.7zM403.7 242.0h.7v.7h-.7zM395.6 245.9h.7v.7h-.7zM405.3 236.4h.7v.7h-.7zM384.3 244.1h.7v.7h-.7zM391.2 245.4h.7v.7h-.7zM390.6 245.8h.7v.7h-.7zM405.6 237.5h.7v.7h-.7zM404.0 239.2h.7v.7h-.7zM389.9 246.0h.7v.7h-.7zM395.1 244.9h.7v.7h-.7zM404.7 238.0h.7v.7h-.7zM405.3 237.8h.7v.7h-.7zM391.5 245.7h.7v.7h-.7zM392.3 246.3h.7v.7h-.7zM399.9 242.9h.7v.7h-.7zM403.1 241.7h.7v.7h-.7zM402.4 241.8h.7v.7h-.7zM390.9 245.5h.7v.7h-.7zM403.6 240.5h.7v.7h-.7zM401.0 244.5h.7v.7h-.7zM403.9 238.1h.7v.7h-.7zM385.3 244.2h.7v.7h-.7zM400.5 243.8h.7v.7h-.7zM386.6 244.6h.7v.7h-.7zM406.2 235.7h.7v.7h-.7zM393.8 246.1h.7v.7h-.7zM387.5 245.1h.7v.7h-.7zM383.6 245.0h.7v.7h-.7zM406.5 236.8h.7v.7h-.7zM405.4 235.2h.7v.7h-.7zM388.6 245.7h.7v.7h-.7zM385.1 244.3h.7v.7h-.7zM403.3 238.2h.7v.7h-.7zM395.8 245.9h.7v.7h-.7zM385.3 243.2h.7v.7h-.7zM403.0 241.7h.7v.7h-.7zM405.3 236.9h.7v.7h-.7zM405.9 237.1h.7v.7h-.7zM400.6 243.2h.7v.7h-.7zM398.8 243.9h.7v.7h-.7zM403.5 239.6h.7v.7h-.7zM397.6 245.4h.7v.7h-.7zM405.9 235.6h.7v.7h-.7zM390.4 245.9h.7v.7h-.7zM385.3 244.4h.7v.7h-.7zM402.4 242.7h.7v.7h-.7zM389.7 245.5h.7v.7h-.7zM383.3 243.6h.7v.7h-.7zM393.9 245.2h.7v.7h-.7zM405.4 236.1h.7v.7h-.7zM397.9 245.4h.7v.7h-.7zM396.9 246.5h.7v.7h-.7zM392.3 246.1h.7v.7h-.7zM400.1 243.5h.7v.7h-.7zM396.7 244.3h.7v.7h-.7zM401.7 242.2h.7v.7h-.7zM405.2 239.6h.7v.7h-.7zM398.2 246.0h.7v.7h-.7zM404.8 237.1h.7v.7h-.7zM396.4 246.0h.7v.7h-.7zM384.3 243.7h.7v.7h-.7zM403.8 236.9h.7v.7h-.7zM405.6 237.6h.7v.7h-.7zM387.2 244.9h.7v.7h-.7z" fill="#f7205e" stroke="none" stroke-width="1"/>
<path d="M394.9 242.7h.7v.7h-.7zM395.8 240.9h.7v.7h-.7zM394.0 239.6h.7v.7h-.7zM401.0 239.7h.7v.7h-.7zM395.5 236.5h.7v.7h-.7zM399.6 243.6h.7v.7h-.7zM401.0 237.4h.7v.7h-.7zM396.5 244.9h.7v.7h-.7zM392.3 241.7h.7v.7h-.7zM392.8 241.4h.7v.7h-.7zM393.8 237.5h.7v.7h-.7zM397.8 236.6h.7v.7h-.7zM395.7 244.8h.7v.7h-.7zM397.7 239.9h.7v.7h-.7zM397.5 239.4h.7v.7h-.7zM393.4 243.0h.7v.7h-.7zM394.5 237.7h.7v.7h-.7zM397.9 241.9h.7v.7h-.7zM395.2 244.1h.7v.7h-.7zM395.6 243.3h.7v.7h-.7zM399.3 239.3h.7v.7h-.7zM393.8 236.9h.7v.7h-.7zM393.3 244.7h.7v.7h-.7zM396.8 244.3h.7v.7h-.7zM393.7 237.3h.7v.7h-.7zM400.8 242.3h.7v.7h-.7zM400.9 238.2h.7v.7h-.7zM401.2 238.5h.7v.7h-.7zM396.0 237.5h.7v.7h-.7zM403.4 238.3h.7v.7h-.7zM393.3 236.4h.7v.7h-.7zM399.9 241.1h.7v.7h-.7zM392.5 238.3h.7v.7h-.7zM399.6 238.6h.7v.7h-.7zM396.4 245.1h.7v.7h-.7zM398.7 244.7h.7v.7h-.7zM401.7 242.4h.7v.7h-.7zM398.9 239.1h.7v.7h-.7zM398.0 238.1h.7v.7h-.7zM402.1 240.1h.7v.7h-.7zM393.4 241.7h.7v.7h-.7zM395.0 244.7h.7v.7h-.7zM400.3 238.6h.7v.7h-.7zM397.7 243.7h.7v.7h-.7zM394.4 242.0h.7v.7h-.7zM392.6 237.9h.7v.7h-.7zM396.6 240.4h.7v.7h-.7zM392.9 244.8h.7v.7h-.7zM395.4 244.0h.7v.7h-.7zM400.2 242.8h.7v.7h-.7zM397.4 241.9h.7v.7h-.7zM393.0 244.4h.7v.7h-.7zM395.8 244.3h.7v.7h-.7zM398.0 239.8h.7v.7h-.7zM402.6 242.3h.7v.7h-.7zM394.2 236.0h.7v.7h-.7zM399.5 239.9h.7v.7h-.7zM395.3 243.5h.7v.7h-.7zM393.1 245.1h.7v.7h-.7zM396.6 240.8h.7v.7h-.7zM400.1 239.4h.7v.7h-.7zM401.7 238.4h.7v.7h-.7zM404.0 240.6h.7v.7h-.7zM392.9 241.5h.7v.7h-.7zM400.2 239.6h.7v.7h-.7zM398.8 239.4h.7v.7h-.7zM404.7 240.2h.7v.7h-.7zM394.1 244.3h.7v.7h-.7zM394.4 237.4h.7v.7h-.7zM403.3 240.8h.7v.7h-.7zM395.0 241.3h.7v.7h-.7zM399.2 236.5h.7v.7h-.7zM394.1 241.2h.7v.7h-.7zM397.7 243.2h.7v.7h-.7zM400.1 241.7h.7v.7h-.7zM397.3 242.4h.7v.7h-.7zM396.0 240.0h.7v.7h-.7zM401.4 242.3h.7v.7h-.7zM398.5 239.6h.7v.7h-.7zM399.8 242.1h.7v.7h-.7zM399.7 238.7h.7v.7h-.7zM397.2 242.7h.7v.7h-.7zM397.1 236.6h.7v.7h-.7zM397.4 241.4h.7v.7h-.7zM397.8 240.6h.7v.7h-.7zM399.8 239.0h.7v.7h-.7zM399.2 243.4h.7v.7h-.7zM397.8 237.3h.7v.7h-.7zM395.0 238.4h.7v.7h-.7zM392.6 241.5h.7v.7h-.7z" fill="#f7205e" stroke="none" stroke-width="1"/>
<path d="M372.3 236.3h.7v.7h-.7zM375.8 237.5h.7v.7h-.7zM374.6 240.7h.7v.7h-.7zM369.4 235.4h.7v.7h-.7zM379.9 240.9h.7v.7h-.7zM371.1 234.7h.7v.7h-.7zM376.8 240.9h.7v.7h-.7zM374.4 237.3h.7v.7h-.7zM374.7 233.7h.7v.7h-.7zM368.3 233.2h.7v.7h-.7zM369.3 233.4h.7v.7h-.7zM375.3 234.3h.7v.7h-.7zM369.9 235.3h.7v.7h-.7zM372.6 236.2h.7v.7h-.7zM372.1 237.9h.7v.7h-.7zM374.5 237.4h.7v.7h-.7zM369.7 233.2h.7v.7h-.7zM375.3 239.5h.7v.7h-.7zM374.6 236.0h.7v.7h-.7zM372.0 237.6h.7v.7h-.7zM369.4 233.8h.7v.7h-.7zM378.1 236.2h.7v.7h-.7zM377.1 239.8h.7v.7h-.7zM376.6 236.5h.7v.7h-.7zM377.7 236.9h.7v.7h-.7zM379.1 237.5h.7v.7h-.7zM376.6 240.9h.7v.7h-.7zM375.9 239.9h.7v.7h-.7zM368.4 234.8h.7v.7h-.7zM377.1 240.2h.7v.7h-.7zM379.9 241.2h.7v.7h-.7zM378.6 236.2h.7v.7h-.7zM376.5 237.2h.7v.7h-.7zM371.3 235.4h.7v.7h-.7zM375.2 233.5h.7v.7h-.7zM368.9 235.3h.7v.7h-.7zM372.8 236.5h.7v.7h-.7zM375.2 239.0h.7v.7h-.7zM376.6 234.9h.7v.7h-.7zM373.9 234.0h.7v.7h-.7zM376.6 238.1h.7v.7h-.7zM370.8 234.2h.7v.7h-.7zM379.1 239.4h.7v.7h-.7zM371.6 233.7h.7v.7h-.7zM371.2 238.2h.7v.7h-.7z" fill="#f7205e" stroke="none" stroke-width="1"/>
<path d="M383.4 225.1h.7v.7h-.7zM381.1 220.4h.7v.7h-.7zM383.8 219.3h.7v.7h-.7zM383.4 222.9h.7v.7h-.7zM386.3 226.1h.7v.7h-.7zM384.3 220.9h.7v.7h-.7zM385.7 220.2h.7v.7h-.7zM386.1 222.9h.7v.7h-.7zM387.0 223.4h.7v.7h-.7zM387.3 224.4h.7v.7h-.7zM381.7 223.9h.7v.7h-.7zM384.2 221.5h.7v.7h-.7zM387.0 221.8h.7v.7h-.7zM387.1 222.9h.7v.7h-.7zM386.4 223.3h.7v.7h-.7zM384.9 222.4h.7v.7h-.7zM388.5 220.8h.7v.7h-.7zM381.5 222.8h.7v.7h-.7zM384.0 221.2h.7v.7h-.7zM387.3 225.1h.7v.7h-.7zM384.6 221.4h.7v.7h-.7zM388.6 222.5h.7v.7h-.7zM386.1 223.0h.7v.7h-.7zM387.4 221.0h.7v.7h-.7zM384.0 223.6h.7v.7h-.7zM383.2 223.2h.7v.7h-.7zM383.4 222.6h.7v.7h-.7zM385.4 223.0h.7v.7h-.7zM384.5 221.0h.7v.7h-.7zM386.4 223.7h.7v.7h-.7zM385.3 224.0h.7v.7h-.7zM384.8 221.4h.7v.7h-.7zM385.3 221.0h.7v.7h-.7zM382.2 219.0h.7v.7h-.7zM379.1 222.3h.7v.7h-.7zM386.1 224.7h.7v.7h-.7zM384.8 222.4h.7v.7h-.7zM384.7 221.2h.7v.7h-.7zM382.0 221.9h.7v.7h-.7zM385.1 222.3h.7v.7h-.7zM379.8 223.4h.7v.7h-.7zM383.1 221.6h.7v.7h-.7zM383.5 223.6h.7v.7h-.7zM385.7 222.9h.7v.7h-.7zM386.3 222.7h.7v.7h-.7zM384.8 221.6h.7v.7h-.7zM383.2 222.2h.7v.7h-.7zM384.4 218.5h.7v.7h-.7zM386.8 220.6h.7v.7h-.7zM381.7 222.9h.7v.7h-.7zM383.3 222.0h.7v.7h-.7zM385.9 221.9h.7v.7h-.7zM383.6 223.0h.7v.7h-.7zM384.5 222.2h.7v.7h-.7zM384.7 221.2h.7v.7h-.7zM386.2 220.6h.7v.7h-.7zM387.7 222.0h.7v.7h-.7zM388.2 223.7h.7v.7h-.7zM384.1 222.9h.7v.7h-.7zM386.4 223.8h.7v.7h-.7zM383.6 219.4h.7v.7h-.7zM381.3 225.5h.7v.7h-.7zM385.3 221.4h.7v.7h-.7zM380.6 224.4h.7v.7h-.7zM390.9 224.7h.7v.7h-.7zM389.2 223.1h.7v.7h-.7zM380.9 222.3h.7v.7h-.7zM386.7 221.2h.7v.7h-.7zM385.7 220.9h.7v.7h-.7zM381.1 223.3h.7v.7h-.7zM383.1 223.7h.7v.7h-.7zM383.2 224.2h.7v.7h-.7zM386.2 220.9h.7v.7h-.7zM385.7 222.8h.7v.7h-.7zM382.1 222.4h.7v.7h-.7zM385.7 223.1h.7v.7h-.7zM386.6 223.2h.7v.7h-.7zM385.2 224.9h.7v.7h-.7zM384.1 222.3h.7v.7h-.7zM383.9 224.2h.7v.7h-.7zM376.9 225.1h.7v.7h-.7zM378.3 226.1h.7v.7h-.7zM382.7 226.7h.7v.7h-.7zM381.1 224.5h.7v.7h-.7zM373.9 225.6h.7v.7h-.7zM382.0 227.4h.7v.7h-.7zM382.4 226.5h.7v.7h-.7zM375.9 226.1h.7v.7h-.7zM377.6 224.3h.7v.7h-.7zM375.5 225.3h.7v.7h-.7zM379.9 226.1h.7v.7h-.7zM381.7 226.0h.7v.7h-.7zM378.3 226.6h.7v.7h-.7zM378.7 226.4h.7v.7h-.7zM381.4 226.7h.7v.7h-.7zM382.5 225.2h.7v.7h-.7zM378.7 225.7h.7v.7h-.7zM371.4 225.8h.7v.7h-.7zM379.4 225.8h.7v.7h-.7zM378.0 226.7h.7v.7h-.7zM379.5 226.5h.7v.7h-.7zM378.9 226.5h.7v.7h-.7zM375.0 228.1h.7v.7h-.7zM382.3 224.7h.7v.7h-.7zM380.3 225.4h.7v.7h-.7zM376.6 225.7h.7v.7h-.7zM378.4 226.2h.7v.7h-.7zM378.1 225.0h.7v.7h-.7zM379.8 227.2h.7v.7h-.7zM377.5 226.5h.7v.7h-.7zM382.8 225.8h.7v.7h-.7zM379.6 226.5h.7v.7h-.7zM383.5 223.3h.7v.7h-.7zM380.5 227.1h.7v.7h-.7zM377.9 226.5h.7v.7h-.7zM377.3 225.3h.7v.7h-.7zM376.1 224.9h.7v.7h-.7zM376.1 225.5h.7v.7h-.7zM385.2 227.1h.7v.7h-.7zM380.3 226.1h.7v.7h-.7zM373.2 227.3h.7v.7h-.7zM376.3 225.7h.7v.7h-.7zM380.6 226.4h.7v.7h-.7zM372.8 223.7h.7v.7h-.7zM385.0 225.4h.7v.7h-.7zM381.0 225.8h.7v.7h-.7zM382.6 226.6h.7v.7h-.7zM382.2 226.1h.7v.7h-.7zM379.7 225.2h.7v.7h-.7zM379.1 226.7h.7v.7h-.7zM375.1 225.5h.7v.7h-.7zM378.0 227.8h.7v.7h-.7zM375.7 226.0h.7v.7h-.7zM381.9 226.1h.7v.7h-.7zM377.8 226.5h.7v.7h-.7zM382.5 224.5h.7v.7h-.7zM378.8 226.7h.7v.7h-.7zM379.1 224.8h.7v.7h-.7zM384.4 224.7h.7v.7h-.7zM377.3 225.2h.7v.7h-.7zM375.0 225.8h.7v.7h-.7zM380.1 225.3h.7v.7h-.7zM376.4 226.4h.7v.7h-.7zM379.2 225.1h.7v.7h-.7zM378.3 226.1h.7v.7h-.7zM379.8 225.5h.7v.7h-.7zM379.7 225.9h.7v.7h-.7zM381.3 226.1h.7v.7h-.7zM374.4 227.6h.7v.7h-.7zM380.2 225.8h.7v.7h-.7zM376.8 226.3h.7v.7h-.7zM377.2 225.6h.7v.7h-.7zM387.6 233.1h.7v.7h-.7zM390.4 229.6h.7v.7h-.7zM385.3 230.7h.7v.7h-.7zM388.4 233.0h.7v.7h-.7zM386.3 231.9h.7v.7h-.7zM388.2 232.0h.7v.7h-.7zM385.6 231.2h.7v.7h-.7zM385.1 232.6h.7v.7h-.7zM388.1 231.1h.7v.7h-.7zM385.4 230.5h.7v.7h-.7zM388.4 233.8h.7v.7h-.7zM389.0 232.5h.7v.7h-.7zM387.6 233.2h.7v.7h-.7zM386.4 232.8h.7v.7h-.7zM388.6 231.4h.7v.7h-.7zM387.6 231.6h.7v.7h-.7zM392.5 232.7h.7v.7h-.7zM388.1 233.6h.7v.7h-.7zM391.1 231.6h.7v.7h-.7zM391.1 229.5h.7v.7h-.7zM387.5 230.0h.7v.7h-.7zM387.6 229.9h.7v.7h-.7zM386.4 233.4h.7v.7h-.7zM386.9 230.0h.7v.7h-.7zM389.8 232.4h.7v.7h-.7zM391.3 231.0h.7v.7h-.7zM387.5 230.8h.7v.7h-.7zM389.3 231.1h.7v.7h-.7zM388.6 232.3h.7v.7h-.7zM387.6 231.8h.7v.7h-.7zM389.0 231.8h.7v.7h-.7zM389.9 233.2h.7v.7h-.7zM391.3 232.1h.7v.7h-.7zM385.0 232.5h.7v.7h-.7zM388.6 231.0h.7v.7h-.7zM388.3 230.7h.7v.7h-.7zM388.9 231.4h.7v.7h-.7zM382.1 231.6h.7v.7h-.7zM385.8 231.2h.7v.7h-.7zM388.5 232.7h.7v.7h-.7zM389.3 232.8h.7v.7h-.7zM386.6 231.8h.7v.7h-.7zM391.0 232.0h.7v.7h-.7zM385.8 231.6h.7v.7h-.7zM388.8 232.2h.7v.7h-.7zM387.3 233.9h.7v.7h-.7zM388.8 232.2h.7v.7h-.7zM388.6 232.1h.7v.7h-.7zM385.3 231.5h.7v.7h-.7zM389.9 230.1h.7v.7h-.7zM387.9 233.0h.7v.7h-.7zM388.6 230.8h.7v.7h-.7zM387.5 231.8h.7v.7h-.7zM390.0 232.1h.7v.7h-.7zM389.0 232.9h.7v.7h-.7zM388.0 233.2h.7v.7h-.7zM374.1 229.6h.7v.7h-.7zM378.0 226.8h.7v.7h-.7zM370.8 228.5h.7v.7h-.7zM367.7 229.3h.7v.7h-.7zM371.2 229.2h.7v.7h-.7zM376.3 228.8h.7v.7h-.7zM373.8 228.9h.7v.7h-.7zM368.9 228.9h.7v.7h-.7zM371.7 233.4h.7v.7h-.7zM378.5 232.1h.7v.7h-.7zM376.3 228.7h.7v.7h-.7zM375.1 228.8h.7v.7h-.7zM371.4 230.1h.7v.7h-.7zM372.2 227.1h.7v.7h-.7zM377.5 229.6h.7v.7h-.7zM370.5 230.9h.7v.7h-.7zM366.3 229.5h.7v.7h-.7zM377.8 228.3h.7v.7h-.7zM370.6 228.9h.7v.7h-.7zM372.1 231.2h.7v.7h-.7zM369.1 228.0h.7v.7h-.7zM372.4 230.3h.7v.7h-.7zM374.1 227.3h.7v.7h-.7zM374.0 230.5h.7v.7h-.7zM370.1 227.6h.7v.7h-.7zM374.5 229.5h.7v.7h-.7zM367.3 229.3h.7v.7h-.7zM374.0 231.6h.7v.7h-.7zM372.7 231.0h.7v.7h-.7zM373.7 228.9h.7v.7h-.7zM379.8 228.5h.7v.7h-.7zM368.0 230.0h.7v.7h-.7zM377.4 229.5h.7v.7h-.7zM372.1 228.4h.7v.7h-.7zM376.8 228.9h.7v.7h-.7zM370.7 228.3h.7v.7h-.7zM372.3 228.8h.7v.7h-.7zM372.8 230.8h.7v.7h-.7zM371.3 228.2h.7v.7h-.7zM373.6 228.5h.7v.7h-.7zM376.3 229.0h.7v.7h-.7zM377.6 228.9h.7v.7h-.7zM378.6 228.2h.7v.7h-.7zM377.3 229.4h.7v.7h-.7zM376.0 226.7h.7v.7h-.7zM374.7 228.1h.7v.7h-.7zM370.7 227.7h.7v.7h-.7zM377.9 230.6h.7v.7h-.7zM376.2 230.0h.7v.7h-.7zM371.5 229.5h.7v.7h-.7zM376.5 229.8h.7v.7h-.7zM381.6 229.7h.7v.7h-.7zM374.4 229.7h.7v.7h-.7zM370.0 228.6h.7v.7h-.7zM375.4 228.2h.7v.7h-.7zM377.7 227.5h.7v.7h-.7zM371.9 230.9h.7v.7h-.7zM381.0 227.9h.7v.7h-.7zM374.6 227.3h.7v.7h-.7zM376.2 229.0h.7v.7h-.7zM374.2 231.6h.7v.7h-.7zM373.3 231.2h.7v.7h-.7zM373.5 227.3h.7v.7h-.7zM370.6 226.5h.7v.7h-.7zM395.7 222.1h.7v.7h-.7zM400.2 220.7h.7v.7h-.7zM393.5 222.2h.7v.7h-.7zM399.6 222.0h.7v.7h-.7zM400.9 223.0h.7v.7h-.7zM397.1 221.4h.7v.7h-.7zM399.0 223.6h.7v.7h-.7zM399.0 222.7h.7v.7h-.7zM402.8 222.6h.7v.7h-.7zM400.3 223.7h.7v.7h-.7zM401.7 224.6h.7v.7h-.7zM397.7 222.8h.7v.7h-.7zM395.4 223.2h.7v.7h-.7zM399.4 225.8h.7v.7h-.7zM400.0 223.6h.7v.7h-.7zM401.2 225.6h.7v.7h-.7zM396.4 226.3h.7v.7h-.7zM402.2 224.1h.7v.7h-.7zM397.1 221.2h.7v.7h-.7zM403.1 221.3h.7v.7h-.7zM405.6 219.2h.7v.7h-.7zM398.9 223.3h.7v.7h-.7zM398.2 218.4h.7v.7h-.7zM400.2 223.6h.7v.7h-.7zM403.5 221.2h.7v.7h-.7zM395.7 221.5h.7v.7h-.7zM395.9 224.4h.7v.7h-.7zM395.6 227.0h.7v.7h-.7zM396.8 222.0h.7v.7h-.7zM396.3 220.4h.7v.7h-.7zM398.7 225.0h.7v.7h-.7zM399.0 222.8h.7v.7h-.7zM399.7 227.4h.7v.7h-.7zM399.0 227.1h.7v.7h-.7zM401.0 222.5h.7v.7h-.7zM396.4 223.9h.7v.7h-.7zM402.2 222.2h.7v.7h-.7zM396.5 226.1h.7v.7h-.7zM400.1 222.0h.7v.7h-.7zM396.5 226.0h.7v.7h-.7zM400.0 220.3h.7v.7h-.7zM400.0 225.7h.7v.7h-.7zM400.5 221.1h.7v.7h-.7zM402.0 223.2h.7v.7h-.7zM396.5 224.1h.7v.7h-.7zM394.7 225.5h.7v.7h-.7zM396.3 225.8h.7v.7h-.7zM403.0 223.9h.7v.7h-.7zM400.9 225.0h.7v.7h-.7zM398.0 226.9h.7v.7h-.7zM399.4 224.3h.7v.7h-.7zM395.1 222.5h.7v.7h-.7zM401.4 225.3h.7v.7h-.7zM398.6 220.2h.7v.7h-.7zM397.1 223.8h.7v.7h-.7zM395.5 223.4h.7v.7h-.7zM397.4 224.0h.7v.7h-.7zM401.2 224.7h.7v.7h-.7zM394.9 223.3h.7v.7h-.7zM398.9 225.3h.7v.7h-.7zM402.4 225.1h.7v.7h-.7zM397.9 225.4h.7v.7h-.7zM398.7 222.6h.7v.7h-.7zM392.9 224.9h.7v.7h-.7zM398.8 223.1h.7v.7h-.7zM397.0 225.2h.7v.7h-.7zM394.6 220.4h.7v.7h-.7zM393.9 222.6h.7v.7h-.7zM399.1 224.9h.7v.7h-.7zM394.7 223.2h.7v.7h-.7zM396.5 223.3h.7v.7h-.7zM402.8 223.2h.7v.7h-.7zM378.9 232.4h.7v.7h-.7zM382.4 231.3h.7v.7h-.7zM381.6 236.7h.7v.7h-.7zM382.3 232.3h.7v.7h-.7zM385.9 234.5h.7v.7h-.7zM381.1 237.6h.7v.7h-.7zM383.5 233.6h.7v.7h-.7zM385.3 233.3h.7v.7h-.7zM383.7 233.6h.7v.7h-.7zM378.0 231.5h.7v.7h-.7zM383.7 234.1h.7v.7h-.7zM385.2 233.5h.7v.7h-.7zM380.6 231.5h.7v.7h-.7zM382.8 234.5h.7v.7h-.7zM382.2 238.3h.7v.7h-.7zM383.6 235.3h.7v.7h-.7zM385.5 232.7h.7v.7h-.7zM381.2 232.9h.7v.7h-.7zM384.5 236.2h.7v.7h-.7zM383.5 232.7h.7v.7h-.7zM380.0 233.0h.7v.7h-.7zM381.2 232.8h.7v.7h-.7zM382.6 232.7h.7v.7h-.7zM385.6 230.8h.7v.7h-.7zM381.5 235.1h.7v.7h-.7zM379.1 234.4h.7v.7h-.7zM381.5 231.3h.7v.7h-.7zM383.0 231.5h.7v.7h-.7zM382.7 234.0h.7v.7h-.7zM383.9 236.4h.7v.7h-.7zM385.1 229.8h.7v.7h-.7zM379.8 233.0h.7v.7h-.7zM380.9 237.3h.7v.7h-.7zM381.3 236.9h.7v.7h-.7zM381.9 234.6h.7v.7h-.7zM381.0 233.8h.7v.7h-.7zM386.3 234.0h.7v.7h-.7zM380.8 233.1h.7v.7h-.7zM387.2 232.2h.7v.7h-.7zM384.9 233.3h.7v.7h-.7zM384.8 232.6h.7v.7h-.7zM381.9 235.3h.7v.7h-.7zM384.1 232.8h.7v.7h-.7zM379.6 236.4h.7v.7h-.7zM388.3 235.2h.7v.7h-.7zM380.7 232.1h.7v.7h-.7zM381.4 234.6h.7v.7h-.7zM384.6 233.5h.7v.7h-.7zM380.8 233.6h.7v.7h-.7zM384.3 236.1h.7v.7h-.7zM382.6 233.0h.7v.7h-.7zM385.0 235.8h.7v.7h-.7zM384.6 236.3h.7v.7h-.7zM382.1 234.6h.7v.7h-.7zM383.5 232.4h.7v.7h-.7zM387.2 232.2h.7v.7h-.7zM377.8 231.4h.7v.7h-.7zM381.4 237.0h.7v.7h-.7zM380.9 235.1h.7v.7h-.7zM379.4 236.7h.7v.7h-.7zM384.9 236.7h.7v.7h-.7zM386.0 232.1h.7v.7h-.7zM385.2 231.9h.7v.7h-.7zM382.7 232.3h.7v.7h-.7zM398.9 229.8h.7v.7h-.7zM398.9 228.8h.7v.7h-.7zM399.4 227.5h.7v.7h-.7zM394.7 230.8h.7v.7h-.7zM398.1 233.0h.7v.7h-.7zM398.3 229.9h.7v.7h-.7zM394.8 232.9h.7v.7h-.7zM396.1 230.8h.7v.7h-.7zM396.3 230.4h.7v.7h-.7zM396.9 230.6h.7v.7h-.7zM393.5 231.5h.7v.7h-.7zM398.0 232.3h.7v.7h-.7zM400.3 233.6h.7v.7h-.7zM404.9 230.6h.7v.7h-.7zM399.5 229.1h.7v.7h-.7zM405.3 227.9h.7v.7h-.7zM397.2 231.4h.7v.7h-.7zM395.5 229.5h.7v.7h-.7zM395.0 230.0h.7v.7h-.7zM393.7 231.2h.7v.7h-.7zM403.2 231.4h.7v.7h-.7zM398.6 231.6h.7v.7h-.7zM397.4 230.0h.7v.7h-.7zM388.7 231.1h.7v.7h-.7zM394.0 230.2h.7v.7h-.7zM401.0 232.5h.7v.7h-.7zM401.0 229.4h.7v.7h-.7zM396.6 233.0h.7v.7h-.7zM399.2 230.4h.7v.7h-.7zM401.1 227.3h.7v.7h-.7zM397.8 229.8h.7v.7h-.7zM395.7 228.2h.7v.7h-.7zM396.2 230.7h.7v.7h-.7zM400.6 228.7h.7v.7h-.7zM395.0 231.4h.7v.7h-.7zM390.7 231.3h.7v.7h-.7zM404.6 229.1h.7v.7h-.7zM397.3 228.9h.7v.7h-.7zM399.1 232.1h.7v.7h-.7zM399.6 232.6h.7v.7h-.7zM402.3 229.6h.7v.7h-.7zM398.1 230.8h.7v.7h-.7zM400.5 232.7h.7v.7h-.7zM396.7 231.5h.7v.7h-.7zM398.6 232.3h.7v.7h-.7zM392.2 232.6h.7v.7h-.7zM395.0 227.4h.7v.7h-.7zM392.9 232.7h.7v.7h-.7zM404.1 229.9h.7v.7h-.7zM396.2 230.5h.7v.7h-.7zM396.0 228.9h.7v.7h-.7zM398.3 228.0h.7v.7h-.7zM393.4 230.3h.7v.7h-.7zM394.8 229.6h.7v.7h-.7zM397.3 231.2h.7v.7h-.7zM401.8 228.2h.7v.7h-.7zM401.1 231.3h.7v.7h-.7zM395.0 228.8h.7v.7h-.7zM398.8 229.3h.7v.7h-.7zM396.0 232.7h.7v.7h-.7zM399.0 230.6h.7v.7h-.7zM397.0 231.4h.7v.7h-.7zM394.0 233.8h.7v.7h-.7zM398.9 231.5h.7v.7h-.7zM390.6 224.0h.7v.7h-.7zM393.3 224.4h.7v.7h-.7zM394.0 222.3h.7v.7h-.7zM396.2 215.7h.7v.7h-.7zM395.2 220.2h.7v.7h-.7zM392.1 222.0h.7v.7h-.7zM395.5 225.1h.7v.7h-.7zM390.1 221.9h.7v.7h-.7zM395.9 218.6h.7v.7h-.7zM396.0 219.9h.7v.7h-.7zM389.5 223.0h.7v.7h-.7zM390.0 216.0h.7v.7h-.7zM393.5 219.2h.7v.7h-.7zM388.7 223.9h.7v.7h-.7zM396.8 219.9h.7v.7h-.7zM392.4 218.8h.7v.7h-.7zM396.8 219.8h.7v.7h-.7zM397.7 219.4h.7v.7h-.7zM395.1 219.6h.7v.7h-.7zM397.7 220.6h.7v.7h-.7zM396.5 222.1h.7v.7h-.7zM385.8 222.9h.7v.7h-.7zM394.7 218.7h.7v.7h-.7zM392.3 220.1h.7v.7h-.7zM390.9 224.6h.7v.7h-.7zM391.0 223.1h.7v.7h-.7zM396.6 220.8h.7v.7h-.7zM394.7 217.4h.7v.7h-.7zM395.4 223.2h.7v.7h-.7zM394.2 226.3h.7v.7h-.7zM396.2 221.2h.7v.7h-.7zM392.8 226.5h.7v.7h-.7zM389.9 216.4h.7v.7h-.7zM394.7 219.9h.7v.7h-.7zM391.2 221.2h.7v.7h-.7zM392.9 217.8h.7v.7h-.7zM396.5 217.6h.7v.7h-.7zM399.3 219.3h.7v.7h-.7zM394.6 222.1h.7v.7h-.7zM393.7 222.6h.7v.7h-.7zM388.3 219.0h.7v.7h-.7zM391.0 219.2h.7v.7h-.7zM390.5 216.2h.7v.7h-.7zM390.8 213.7h.7v.7h-.7zM391.4 220.7h.7v.7h-.7zM393.5 220.0h.7v.7h-.7zM393.4 216.8h.7v.7h-.7zM393.8 217.5h.7v.7h-.7zM390.7 223.3h.7v.7h-.7zM389.8 219.8h.7v.7h-.7zM392.6 219.8h.7v.7h-.7zM399.8 220.8h.7v.7h-.7zM390.2 219.0h.7v.7h-.7zM389.6 221.5h.7v.7h-.7zM392.4 223.1h.7v.7h-.7zM395.8 217.8h.7v.7h-.7zM399.0 219.0h.7v.7h-.7zM390.9 223.7h.7v.7h-.7zM393.1 219.3h.7v.7h-.7zM385.3 218.9h.7v.7h-.7zM397.2 222.1h.7v.7h-.7zM395.0 217.6h.7v.7h-.7zM396.5 218.1h.7v.7h-.7zM395.5 226.6h.7v.7h-.7zM376.0 215.3h.7v.7h-.7zM379.3 219.8h.7v.7h-.7zM383.4 215.2h.7v.7h-.7zM371.0 225.1h.7v.7h-.7zM381.2 220.2h.7v.7h-.7zM373.0 224.0h.7v.7h-.7zM373.1 223.3h.7v.7h-.7zM367.4 219.5h.7v.7h-.7zM373.5 216.4h.7v.7h-.7zM375.8 217.3h.7v.7h-.7zM373.9 222.6h.7v.7h-.7zM374.5 221.1h.7v.7h-.7zM370.7 221.9h.7v.7h-.7zM367.9 215.5h.7v.7h-.7zM365.6 223.1h.7v.7h-.7zM383.6 218.5h.7v.7h-.7zM371.0 218.5h.7v.7h-.7zM378.6 217.4h.7v.7h-.7zM373.5 218.3h.7v.7h-.7zM375.1 223.0h.7v.7h-.7zM378.8 226.2h.7v.7h-.7zM374.4 224.2h.7v.7h-.7zM374.6 217.0h.7v.7h-.7zM378.4 222.3h.7v.7h-.7zM380.6 221.6h.7v.7h-.7zM365.0 222.0h.7v.7h-.7zM378.1 219.3h.7v.7h-.7zM370.2 222.2h.7v.7h-.7zM376.6 215.8h.7v.7h-.7zM379.7 217.2h.7v.7h-.7zM372.2 222.9h.7v.7h-.7zM363.9 222.0h.7v.7h-.7zM366.5 224.1h.7v.7h-.7zM374.6 223.9h.7v.7h-.7zM367.3 224.9h.7v.7h-.7zM367.7 226.1h.7v.7h-.7zM375.7 224.0h.7v.7h-.7zM375.7 220.5h.7v.7h-.7zM369.3 223.0h.7v.7h-.7zM363.6 222.8h.7v.7h-.7zM367.9 217.5h.7v.7h-.7zM370.5 221.8h.7v.7h-.7zM364.5 222.5h.7v.7h-.7zM365.5 220.3h.7v.7h-.7zM380.6 224.0h.7v.7h-.7zM375.5 218.6h.7v.7h-.7zM375.2 220.8h.7v.7h-.7zM374.0 221.8h.7v.7h-.7zM382.8 217.6h.7v.7h-.7zM364.0 224.9h.7v.7h-.7zM372.9 218.0h.7v.7h-.7zM370.8 220.9h.7v.7h-.7zM372.9 218.5h.7v.7h-.7zM370.0 221.2h.7v.7h-.7zM374.9 217.8h.7v.7h-.7zM372.2 218.9h.7v.7h-.7zM393.3 205.9h.7v.7h-.7zM404.3 216.5h.7v.7h-.7zM372.1 226.4h.7v.7h-.7zM367.6 225.7h.7v.7h-.7zM382.5 203.9h.7v.7h-.7zM374.1 209.7h.7v.7h-.7zM372.2 221.4h.7v.7h-.7zM389.5 240.9h.7v.7h-.7zM374.6 221.6h.7v.7h-.7zM379.4 233.8h.7v.7h-.7zM386.3 239.9h.7v.7h-.7zM391.6 208.6h.7v.7h-.7zM376.5 216.8h.7v.7h-.7zM392.5 213.5h.7v.7h-.7zM375.0 201.2h.7v.7h-.7zM380.2 216.8h.7v.7h-.7zM365.2 217.7h.7v.7h-.7zM386.5 214.0h.7v.7h-.7zM382.5 235.7h.7v.7h-.7zM365.9 217.2h.7v.7h-.7zM381.7 217.1h.7v.7h-.7zM368.2 211.2h.7v.7h-.7zM372.1 231.1h.7v.7h-.7zM377.7 224.6h.7v.7h-.7zM380.3 228.6h.7v.7h-.7zM372.2 205.9h.7v.7h-.7zM392.4 208.4h.7v.7h-.7zM375.6 200.5h.7v.7h-.7zM367.8 204.8h.7v.7h-.7zM380.4 210.5h.7v.7h-.7zM384.8 216.6h.7v.7h-.7zM368.5 213.8h.7v.7h-.7zM372.2 230.5h.7v.7h-.7zM396.1 207.0h.7v.7h-.7zM366.3 209.4h.7v.7h-.7zM391.2 239.5h.7v.7h-.7zM367.1 209.9h.7v.7h-.7zM365.9 229.4h.7v.7h-.7zM390.4 203.2h.7v.7h-.7zM379.0 211.8h.7v.7h-.7zM380.0 220.9h.7v.7h-.7zM374.7 207.6h.7v.7h-.7zM398.1 215.9h.7v.7h-.7zM370.9 223.2h.7v.7h-.7zM403.0 233.9h.7v.7h-.7zM388.0 221.3h.7v.7h-.7zM387.4 238.7h.7v.7h-.7zM378.7 205.9h.7v.7h-.7zM377.1 218.3h.7v.7h-.7zM378.0 206.0h.7v.7h-.7zM375.4 201.5h.7v.7h-.7zM374.2 202.7h.7v.7h-.7zM364.1 227.3h.7v.7h-.7zM397.5 228.9h.7v.7h-.7zM372.5 208.6h.7v.7h-.7zM381.3 222.6h.7v.7h-.7zM384.0 214.5h.7v.7h-.7zM402.2 224.7h.7v.7h-.7zM381.7 203.7h.7v.7h-.7zM400.4 212.5h.7v.7h-.7zM396.2 226.3h.7v.7h-.7zM372.4 224.2h.7v.7h-.7zM379.4 212.3h.7v.7h-.7zM374.4 205.0h.7v.7h-.7zM365.0 225.4h.7v.7h-.7zM386.7 212.4h.7v.7h-.7zM381.9 231.6h.7v.7h-.7zM395.8 231.0h.7v.7h-.7zM402.0 221.4h.7v.7h-.7zM373.6 222.0h.7v.7h-.7zM391.4 234.8h.7v.7h-.7zM400.1 222.8h.7v.7h-.7zM400.1 227.9h.7v.7h-.7zM382.9 206.4h.7v.7h-.7zM378.4 226.3h.7v.7h-.7zM390.1 202.7h.7v.7h-.7zM381.5 214.9h.7v.7h-.7zM380.6 215.8h.7v.7h-.7zM386.8 219.7h.7v.7h-.7zM397.5 216.0h.7v.7h-.7zM373.8 222.1h.7v.7h-.7zM371.2 224.9h.7v.7h-.7zM381.2 228.0h.7v.7h-.7zM397.6 234.3h.7v.7h-.7zM364.3 226.6h.7v.7h-.7zM394.5 221.5h.7v.7h-.7zM386.1 207.7h.7v.7h-.7zM367.5 223.0h.7v.7h-.7zM366.8 219.4h.7v.7h-.7zM380.0 221.6h.7v.7h-.7zM399.9 230.4h.7v.7h-.7zM377.9 230.3h.7v.7h-.7zM385.8 234.4h.7v.7h-.7zM376.3 223.5h.7v.7h-.7zM388.0 205.6h.7v.7h-.7zM372.7 213.6h.7v.7h-.7zM392.0 232.6h.7v.7h-.7zM373.5 214.8h.7v.7h-.7zM398.6 213.6h.7v.7h-.7zM397.2 211.3h.7v.7h-.7zM387.3 216.3h.7v.7h-.7zM381.0 209.1h.7v.7h-.7zM377.1 215.5h.7v.7h-.7zM393.2 204.4h.7v.7h-.7zM364.1 222.8h.7v.7h-.7zM372.0 200.7h.7v.7h-.7zM368.6 215.4h.7v.7h-.7zM395.9 212.0h.7v.7h-.7zM372.5 205.6h.7v.7h-.7zM372.8 214.3h.7v.7h-.7zM377.7 230.8h.7v.7h-.7zM369.9 210.5h.7v.7h-.7zM388.4 213.2h.7v.7h-.7zM393.6 215.8h.7v.7h-.7zM380.7 208.6h.7v.7h-.7zM402.0 234.1h.7v.7h-.7zM397.0 208.7h.7v.7h-.7zM401.3 234.8h.7v.7h-.7zM370.4 216.1h.7v.7h-.7zM382.5 208.5h.7v.7h-.7zM367.5 217.1h.7v.7h-.7zM389.2 240.9h.7v.7h-.7zM389.2 204.0h.7v.7h-.7zM375.4 227.6h.7v.7h-.7zM374.1 206.0h.7v.7h-.7zM390.7 217.0h.7v.7h-.7zM381.4 223.9h.7v.7h-.7zM382.1 207.3h.7v.7h-.7zM388.6 211.6h.7v.7h-.7zM375.7 224.5h.7v.7h-.7zM399.4 213.1h.7v.7h-.7zM367.3 211.6h.7v.7h-.7zM386.4 225.1h.7v.7h-.7zM389.1 217.3h.7v.7h-.7zM389.8 216.2h.7v.7h-.7zM392.5 218.6h.7v.7h-.7zM376.9 228.3h.7v.7h-.7zM376.0 216.8h.7v.7h-.7zM377.4 205.8h.7v.7h-.7zM391.6 218.2h.7v.7h-.7zM382.8 209.0h.7v.7h-.7zM387.6 238.7h.7v.7h-.7zM390.8 225.4h.7v.7h-.7zM365.0 228.4h.7v.7h-.7zM368.7 214.5h.7v.7h-.7zM375.2 215.8h.7v.7h-.7zM382.1 215.0h.7v.7h-.7zM390.8 223.7h.7v.7h-.7zM392.5 216.5h.7v.7h-.7zM401.3 212.2h.7v.7h-.7zM391.3 215.0h.7v.7h-.7zM373.6 223.3h.7v.7h-.7zM394.2 226.5h.7v.7h-.7zM366.6 213.3h.7v.7h-.7zM390.1 214.0h.7v.7h-.7zM389.5 204.7h.7v.7h-.7zM381.7 232.7h.7v.7h-.7zM393.6 212.2h.7v.7h-.7zM395.7 214.4h.7v.7h-.7zM402.3 216.3h.7v.7h-.7zM389.8 229.3h.7v.7h-.7zM398.4 232.6h.7v.7h-.7zM400.3 215.8h.7v.7h-.7zM394.1 221.1h.7v.7h-.7zM375.6 220.6h.7v.7h-.7zM392.6 207.9h.7v.7h-.7zM367.8 221.2h.7v.7h-.7zM385.5 233.5h.7v.7h-.7zM390.5 213.5h.7v.7h-.7zM380.8 212.1h.7v.7h-.7zM373.0 221.4h.7v.7h-.7zM387.4 222.3h.7v.7h-.7zM390.8 208.1h.7v.7h-.7zM378.2 208.4h.7v.7h-.7zM390.2 207.5h.7v.7h-.7zM403.5 225.2h.7v.7h-.7zM390.4 221.1h.7v.7h-.7zM369.2 217.4h.7v.7h-.7zM404.1 226.1h.7v.7h-.7zM396.5 226.8h.7v.7h-.7zM387.8 226.2h.7v.7h-.7zM388.6 240.0h.7v.7h-.7zM371.7 227.9h.7v.7h-.7zM370.8 230.7h.7v.7h-.7zM369.9 222.4h.7v.7h-.7zM365.3 230.3h.7v.7h-.7zM371.8 219.9h.7v.7h-.7zM401.8 227.8h.7v.7h-.7zM377.9 231.6h.7v.7h-.7zM379.5 216.7h.7v.7h-.7zM390.0 219.6h.7v.7h-.7zM403.0 215.2h.7v.7h-.7zM386.2 213.5h.7v.7h-.7zM393.5 230.1h.7v.7h-.7zM385.6 209.8h.7v.7h-.7zM397.2 226.9h.7v.7h-.7zM402.1 223.6h.7v.7h-.7zM385.9 201.4h.7v.7h-.7zM384.3 223.9h.7v.7h-.7zM383.9 221.4h.7v.7h-.7zM396.1 229.9h.7v.7h-.7zM394.7 216.2h.7v.7h-.7zM372.8 221.3h.7v.7h-.7zM379.5 229.6h.7v.7h-.7zM387.3 206.3h.7v.7h-.7zM392.0 228.4h.7v.7h-.7zM386.3 217.1h.7v.7h-.7zM373.5 230.7h.7v.7h-.7zM395.9 224.7h.7v.7h-.7zM390.3 229.9h.7v.7h-.7zM401.1 211.3h.7v.7h-.7zM398.2 232.9h.7v.7h-.7zM395.6 232.3h.7v.7h-.7zM369.7 203.5h.7v.7h-.7zM388.1 220.0h.7v.7h-.7zM389.7 238.7h.7v.7h-.7zM364.7 225.7h.7v.7h-.7zM404.9 231.0h.7v.7h-.7zM388.1 218.4h.7v.7h-.7zM377.9 201.0h.7v.7h-.7zM373.0 229.0h.7v.7h-.7zM395.1 205.7h.7v.7h-.7zM385.9 226.4h.7v.7h-.7zM366.2 221.8h.7v.7h-.7zM363.6 223.9h.7v.7h-.7zM384.7 222.2h.7v.7h-.7zM400.6 213.2h.7v.7h-.7zM390.1 238.5h.7v.7h-.7zM364.9 211.6h.7v.7h-.7zM369.0 219.5h.7v.7h-.7zM386.6 235.5h.7v.7h-.7zM397.7 216.9h.7v.7h-.7zM378.8 220.4h.7v.7h-.7zM389.6 214.9h.7v.7h-.7zM371.1 209.2h.7v.7h-.7zM389.3 232.2h.7v.7h-.7zM392.8 210.2h.7v.7h-.7zM394.1 223.2h.7v.7h-.7zM372.8 217.6h.7v.7h-.7zM367.7 221.5h.7v.7h-.7zM390.6 207.0h.7v.7h-.7zM395.8 234.5h.7v.7h-.7zM378.2 224.3h.7v.7h-.7zM377.0 229.7h.7v.7h-.7zM380.4 215.3h.7v.7h-.7zM383.6 208.9h.7v.7h-.7zM366.3 229.3h.7v.7h-.7zM381.3 208.3h.7v.7h-.7zM383.7 230.0h.7v.7h-.7zM370.1 209.3h.7v.7h-.7zM370.5 216.2h.7v.7h-.7zM384.9 208.8h.7v.7h-.7zM392.2 214.6h.7v.7h-.7zM378.5 201.8h.7v.7h-.7zM377.1 218.3h.7v.7h-.7zM372.1 216.6h.7v.7h-.7zM381.4 216.2h.7v.7h-.7zM384.1 224.5h.7v.7h-.7zM374.3 229.7h.7v.7h-.7zM374.0 216.8h.7v.7h-.7z" fill="#fff" stroke="none" stroke-width="1"/>
<path d="M236.94 264.28C238.1 262.75 242.73 262.13 244.39 262.54C246.04 262.96 245.84 265.02 246.87 266.76C247.9 268.5 249.56 270.9 250.59 272.97C251.63 275.04 253.08 277.31 253.08 279.17C253.08 281.03 251.83 282.81 250.59 284.14C249.35 285.46 247.28 286.49 245.63 287.11C243.97 287.74 242.32 288.36 240.67 287.86C239.01 287.36 236.74 285.79 235.7 284.14C234.67 282.48 234.17 280 234.46 277.93C234.75 275.86 237.02 274 237.44 271.73C237.85 269.45 235.78 265.81 236.94 264.28Z" fill="#0a9c80" stroke="none" stroke-width="1" filter="url(#sp2)"/>
<path d="M242.1 291.8h.7v.7h-.7zM227.1 295.1h.7v.7h-.7zM231.7 293.1h.7v.7h-.7zM229.4 291.6h.7v.7h-.7zM233.5 297.6h.7v.7h-.7zM239.9 291.5h.7v.7h-.7zM235.3 297.4h.7v.7h-.7zM229.4 290.6h.7v.7h-.7zM230.9 294.9h.7v.7h-.7zM237.3 293.4h.7v.7h-.7zM240.4 290.3h.7v.7h-.7zM237.1 288.0h.7v.7h-.7zM233.6 297.0h.7v.7h-.7zM233.5 289.7h.7v.7h-.7zM243.0 287.9h.7v.7h-.7zM237.8 291.2h.7v.7h-.7zM227.7 294.4h.7v.7h-.7zM242.0 288.9h.7v.7h-.7zM234.6 295.6h.7v.7h-.7zM238.1 291.8h.7v.7h-.7zM228.3 292.2h.7v.7h-.7zM233.9 289.5h.7v.7h-.7zM228.8 296.2h.7v.7h-.7zM232.0 295.9h.7v.7h-.7zM239.2 293.3h.7v.7h-.7zM233.9 286.9h.7v.7h-.7zM229.7 288.3h.7v.7h-.7zM228.6 298.6h.7v.7h-.7zM241.7 290.1h.7v.7h-.7zM231.0 297.3h.7v.7h-.7zM239.7 294.4h.7v.7h-.7zM228.1 289.3h.7v.7h-.7zM232.9 293.2h.7v.7h-.7zM241.4 291.8h.7v.7h-.7zM226.3 292.0h.7v.7h-.7zM237.2 286.4h.7v.7h-.7zM230.7 295.9h.7v.7h-.7zM239.3 287.3h.7v.7h-.7zM240.0 292.9h.7v.7h-.7zM231.8 288.7h.7v.7h-.7zM228.0 291.3h.7v.7h-.7zM238.3 290.0h.7v.7h-.7zM226.8 292.0h.7v.7h-.7zM240.4 287.9h.7v.7h-.7zM226.5 294.6h.7v.7h-.7zM236.2 287.4h.7v.7h-.7zM234.1 291.8h.7v.7h-.7zM232.9 290.1h.7v.7h-.7zM233.7 293.2h.7v.7h-.7zM235.7 294.6h.7v.7h-.7zM228.2 295.3h.7v.7h-.7zM240.3 289.1h.7v.7h-.7zM229.3 295.0h.7v.7h-.7zM232.0 293.7h.7v.7h-.7zM233.1 290.4h.7v.7h-.7zM237.2 292.3h.7v.7h-.7zM239.4 291.9h.7v.7h-.7zM235.9 293.6h.7v.7h-.7zM233.3 287.4h.7v.7h-.7zM228.0 295.6h.7v.7h-.7zM231.4 289.2h.7v.7h-.7zM237.9 290.1h.7v.7h-.7zM230.0 298.8h.7v.7h-.7zM232.3 298.0h.7v.7h-.7zM226.8 291.9h.7v.7h-.7zM244.4 290.3h.7v.7h-.7zM235.9 290.6h.7v.7h-.7zM226.9 296.5h.7v.7h-.7zM233.0 290.4h.7v.7h-.7zM231.2 293.4h.7v.7h-.7zM241.2 290.4h.7v.7h-.7zM236.3 289.2h.7v.7h-.7zM229.5 293.6h.7v.7h-.7zM233.3 294.1h.7v.7h-.7zM240.9 288.9h.7v.7h-.7zM240.0 289.0h.7v.7h-.7zM245.2 286.2h.7v.7h-.7zM228.2 296.2h.7v.7h-.7zM231.4 293.7h.7v.7h-.7zM244.2 290.4h.7v.7h-.7zM230.8 289.1h.7v.7h-.7zM236.9 294.7h.7v.7h-.7zM228.8 289.7h.7v.7h-.7zM231.0 296.8h.7v.7h-.7zM230.3 292.1h.7v.7h-.7zM229.5 291.5h.7v.7h-.7zM230.4 293.7h.7v.7h-.7zM228.4 293.7h.7v.7h-.7zM236.7 292.0h.7v.7h-.7zM239.9 287.5h.7v.7h-.7zM231.5 290.3h.7v.7h-.7zM237.1 293.7h.7v.7h-.7zM230.7 293.5h.7v.7h-.7zM233.0 297.9h.7v.7h-.7zM239.8 295.1h.7v.7h-.7zM230.2 297.6h.7v.7h-.7zM235.9 290.1h.7v.7h-.7zM231.0 293.0h.7v.7h-.7zM240.5 290.7h.7v.7h-.7zM228.9 296.5h.7v.7h-.7zM238.7 293.1h.7v.7h-.7zM232.6 292.1h.7v.7h-.7zM230.8 289.1h.7v.7h-.7zM230.1 293.4h.7v.7h-.7zM233.9 292.9h.7v.7h-.7zM230.9 289.4h.7v.7h-.7zM234.7 296.9h.7v.7h-.7zM234.4 297.7h.7v.7h-.7zM230.3 293.4h.7v.7h-.7zM231.4 290.3h.7v.7h-.7zM231.4 292.1h.7v.7h-.7zM235.8 290.9h.7v.7h-.7zM230.7 292.0h.7v.7h-.7zM228.9 291.8h.7v.7h-.7zM232.0 295.6h.7v.7h-.7zM236.6 295.2h.7v.7h-.7zM234.8 291.4h.7v.7h-.7zM232.4 290.9h.7v.7h-.7zM231.9 291.6h.7v.7h-.7zM238.1 291.2h.7v.7h-.7zM226.9 295.7h.7v.7h-.7zM242.1 288.2h.7v.7h-.7zM233.7 290.9h.7v.7h-.7zM241.8 289.7h.7v.7h-.7zM236.8 294.4h.7v.7h-.7zM238.6 295.2h.7v.7h-.7zM228.2 291.0h.7v.7h-.7zM230.7 289.4h.7v.7h-.7zM229.7 298.1h.7v.7h-.7zM227.1 295.8h.7v.7h-.7zM237.5 290.4h.7v.7h-.7zM240.5 294.0h.7v.7h-.7zM240.3 288.0h.7v.7h-.7zM230.4 294.4h.7v.7h-.7zM231.5 289.5h.7v.7h-.7zM232.7 297.9h.7v.7h-.7zM235.8 296.0h.7v.7h-.7zM237.6 289.0h.7v.7h-.7zM227.7 289.2h.7v.7h-.7zM231.1 294.7h.7v.7h-.7zM234.8 294.2h.7v.7h-.7zM236.2 287.9h.7v.7h-.7zM242.6 287.4h.7v.7h-.7zM240.1 292.8h.7v.7h-.7zM232.8 290.2h.7v.7h-.7zM233.8 291.0h.7v.7h-.7zM229.2 296.2h.7v.7h-.7zM232.8 294.4h.7v.7h-.7zM236.6 289.1h.7v.7h-.7zM235.8 291.0h.7v.7h-.7zM236.0 294.3h.7v.7h-.7zM238.2 290.1h.7v.7h-.7zM242.2 289.6h.7v.7h-.7zM240.1 287.6h.7v.7h-.7zM231.0 293.7h.7v.7h-.7zM231.4 290.9h.7v.7h-.7zM229.8 290.2h.7v.7h-.7zM235.4 296.6h.7v.7h-.7zM231.5 298.8h.7v.7h-.7zM231.3 295.2h.7v.7h-.7zM230.7 288.6h.7v.7h-.7zM235.7 294.4h.7v.7h-.7zM239.3 292.7h.7v.7h-.7zM239.6 291.8h.7v.7h-.7zM237.7 287.0h.7v.7h-.7zM231.1 293.5h.7v.7h-.7zM232.0 298.3h.7v.7h-.7zM236.8 296.2h.7v.7h-.7zM234.2 290.3h.7v.7h-.7zM227.1 291.8h.7v.7h-.7zM243.9 287.9h.7v.7h-.7zM239.8 292.4h.7v.7h-.7zM228.7 297.2h.7v.7h-.7zM229.6 297.7h.7v.7h-.7zM228.9 288.9h.7v.7h-.7zM233.9 294.7h.7v.7h-.7zM238.6 290.6h.7v.7h-.7zM227.4 289.4h.7v.7h-.7zM228.8 292.9h.7v.7h-.7zM240.0 290.7h.7v.7h-.7zM230.5 293.5h.7v.7h-.7zM235.7 293.4h.7v.7h-.7zM233.6 288.4h.7v.7h-.7zM228.7 297.9h.7v.7h-.7zM227.1 295.5h.7v.7h-.7zM239.5 292.4h.7v.7h-.7zM235.6 287.8h.7v.7h-.7zM234.9 296.5h.7v.7h-.7zM237.9 290.7h.7v.7h-.7zM236.6 297.2h.7v.7h-.7zM232.8 288.0h.7v.7h-.7zM243.2 291.9h.7v.7h-.7zM237.6 295.9h.7v.7h-.7zM225.5 295.8h.7v.7h-.7zM243.7 291.8h.7v.7h-.7zM234.3 291.4h.7v.7h-.7zM228.2 291.2h.7v.7h-.7zM238.8 289.5h.7v.7h-.7zM234.0 293.7h.7v.7h-.7zM236.7 290.1h.7v.7h-.7zM230.3 295.2h.7v.7h-.7zM230.4 288.1h.7v.7h-.7zM228.4 293.1h.7v.7h-.7zM235.7 295.9h.7v.7h-.7zM237.4 296.5h.7v.7h-.7zM239.1 289.2h.7v.7h-.7zM232.9 294.6h.7v.7h-.7zM229.8 296.8h.7v.7h-.7zM233.1 293.0h.7v.7h-.7zM235.0 292.3h.7v.7h-.7zM237.5 289.3h.7v.7h-.7zM230.8 296.4h.7v.7h-.7zM229.3 297.1h.7v.7h-.7zM231.8 288.5h.7v.7h-.7zM230.5 293.5h.7v.7h-.7zM239.3 287.7h.7v.7h-.7zM230.7 288.9h.7v.7h-.7zM232.7 290.5h.7v.7h-.7zM233.3 298.2h.7v.7h-.7zM236.8 291.1h.7v.7h-.7zM233.3 297.6h.7v.7h-.7zM241.3 291.2h.7v.7h-.7zM235.0 287.8h.7v.7h-.7zM241.3 287.8h.7v.7h-.7zM233.2 296.4h.7v.7h-.7zM226.5 296.8h.7v.7h-.7zM240.3 290.2h.7v.7h-.7zM236.2 287.4h.7v.7h-.7zM239.4 292.5h.7v.7h-.7zM239.6 293.4h.7v.7h-.7zM235.6 293.4h.7v.7h-.7zM245.0 288.4h.7v.7h-.7zM237.1 293.5h.7v.7h-.7zM229.9 296.2h.7v.7h-.7zM241.7 287.7h.7v.7h-.7zM235.8 297.1h.7v.7h-.7zM239.0 293.5h.7v.7h-.7zM237.7 293.2h.7v.7h-.7zM242.6 288.8h.7v.7h-.7zM231.1 297.0h.7v.7h-.7zM226.6 292.0h.7v.7h-.7zM228.5 293.0h.7v.7h-.7zM232.3 297.9h.7v.7h-.7zM229.7 290.7h.7v.7h-.7zM234.3 287.6h.7v.7h-.7zM239.2 293.7h.7v.7h-.7zM225.9 297.0h.7v.7h-.7zM238.3 288.9h.7v.7h-.7zM236.7 294.8h.7v.7h-.7zM238.6 288.0h.7v.7h-.7zM230.9 298.5h.7v.7h-.7zM234.1 292.5h.7v.7h-.7zM229.3 291.4h.7v.7h-.7zM234.0 293.4h.7v.7h-.7zM228.2 293.9h.7v.7h-.7zM235.1 287.4h.7v.7h-.7zM240.9 287.9h.7v.7h-.7zM230.4 288.1h.7v.7h-.7zM231.9 289.1h.7v.7h-.7zM225.9 295.3h.7v.7h-.7z" fill="#0a9c80" stroke="none" stroke-width="1"/>
<path d="M221.4 287.5h.8v.8h-.8zM227.7 286.3h.8v.8h-.8zM224.0 286.3h.8v.8h-.8zM222.8 287.1h.8v.8h-.8zM222.2 282.3h.8v.8h-.8zM222.1 283.5h.8v.8h-.8zM226.0 281.7h.8v.8h-.8zM225.1 284.5h.8v.8h-.8zM221.7 283.2h.8v.8h-.8zM222.3 282.0h.8v.8h-.8zM223.0 287.9h.8v.8h-.8zM226.9 281.4h.8v.8h-.8zM225.1 284.4h.8v.8h-.8zM226.7 281.8h.8v.8h-.8zM223.4 284.5h.8v.8h-.8zM225.2 286.7h.8v.8h-.8zM221.4 287.4h.8v.8h-.8zM223.0 284.4h.8v.8h-.8zM220.5 284.7h.8v.8h-.8zM227.5 285.1h.8v.8h-.8zM226.0 284.1h.8v.8h-.8zM224.5 282.6h.8v.8h-.8zM225.0 284.7h.8v.8h-.8zM224.1 282.2h.8v.8h-.8zM223.2 282.5h.8v.8h-.8zM225.9 280.5h.8v.8h-.8zM227.1 285.3h.8v.8h-.8zM220.2 283.1h.8v.8h-.8zM224.7 283.7h.8v.8h-.8zM221.5 281.7h.8v.8h-.8zM224.9 284.4h.8v.8h-.8zM224.5 286.1h.8v.8h-.8zM225.1 286.0h.8v.8h-.8zM226.7 280.8h.8v.8h-.8zM226.0 284.7h.8v.8h-.8zM219.8 284.1h.8v.8h-.8zM223.9 287.1h.8v.8h-.8zM226.1 284.2h.8v.8h-.8zM223.1 281.9h.8v.8h-.8zM223.6 281.3h.8v.8h-.8zM228.5 284.5h.8v.8h-.8zM223.1 287.5h.8v.8h-.8zM224.4 288.8h.8v.8h-.8zM225.2 282.9h.8v.8h-.8zM227.5 287.2h.8v.8h-.8zM223.9 287.3h.8v.8h-.8zM226.7 285.7h.8v.8h-.8zM228.2 285.0h.8v.8h-.8zM224.5 288.1h.8v.8h-.8zM225.5 284.2h.8v.8h-.8zM225.6 283.7h.8v.8h-.8zM226.6 287.0h.8v.8h-.8zM223.4 283.2h.8v.8h-.8zM226.2 287.3h.8v.8h-.8zM219.8 286.1h.8v.8h-.8zM219.5 282.7h.8v.8h-.8zM224.9 280.9h.8v.8h-.8zM225.7 280.5h.8v.8h-.8zM219.6 283.3h.8v.8h-.8zM224.9 285.2h.8v.8h-.8zM222.7 289.3h.8v.8h-.8zM228.1 287.0h.8v.8h-.8zM220.6 285.1h.8v.8h-.8zM219.5 282.5h.8v.8h-.8zM222.6 284.7h.8v.8h-.8zM222.1 286.3h.8v.8h-.8zM226.6 284.6h.8v.8h-.8zM223.6 287.5h.8v.8h-.8zM220.6 284.5h.8v.8h-.8zM223.6 288.0h.8v.8h-.8zM225.1 280.3h.8v.8h-.8zM227.6 285.0h.8v.8h-.8zM225.8 287.4h.8v.8h-.8zM223.8 287.6h.8v.8h-.8zM223.3 288.5h.8v.8h-.8zM222.2 281.7h.8v.8h-.8zM222.5 281.3h.8v.8h-.8zM221.7 287.6h.8v.8h-.8zM226.0 286.7h.8v.8h-.8zM220.6 283.2h.8v.8h-.8zM224.9 285.4h.8v.8h-.8zM228.4 285.7h.8v.8h-.8zM226.2 283.2h.8v.8h-.8zM225.8 281.8h.8v.8h-.8zM220.7 283.0h.8v.8h-.8zM224.1 282.5h.8v.8h-.8zM225.8 284.5h.8v.8h-.8zM223.5 280.6h.8v.8h-.8zM222.0 285.7h.8v.8h-.8zM221.5 286.1h.8v.8h-.8zM224.4 288.0h.8v.8h-.8zM220.2 282.1h.8v.8h-.8zM223.3 286.1h.8v.8h-.8zM220.8 283.5h.8v.8h-.8zM225.9 281.0h.8v.8h-.8zM223.9 283.5h.8v.8h-.8zM220.2 285.8h.8v.8h-.8zM225.6 282.7h.8v.8h-.8zM225.0 286.4h.8v.8h-.8zM222.3 288.8h.8v.8h-.8zM224.8 280.5h.8v.8h-.8zM226.8 281.8h.8v.8h-.8zM228.2 284.4h.8v.8h-.8zM226.5 285.8h.8v.8h-.8zM222.8 286.0h.8v.8h-.8zM221.9 287.0h.8v.8h-.8zM226.4 283.1h.8v.8h-.8zM221.9 287.6h.8v.8h-.8zM222.7 286.4h.8v.8h-.8zM222.4 286.0h.8v.8h-.8zM224.7 280.6h.8v.8h-.8zM220.5 282.3h.8v.8h-.8zM223.2 283.7h.8v.8h-.8zM227.0 282.2h.8v.8h-.8zM227.2 282.5h.8v.8h-.8zM222.8 281.6h.8v.8h-.8zM223.3 286.9h.8v.8h-.8zM223.1 281.8h.8v.8h-.8zM225.6 283.8h.8v.8h-.8zM224.9 286.7h.8v.8h-.8zM223.6 288.5h.8v.8h-.8zM220.2 283.0h.8v.8h-.8zM219.9 282.6h.8v.8h-.8zM223.1 288.1h.8v.8h-.8zM222.3 287.7h.8v.8h-.8zM219.9 283.4h.8v.8h-.8zM219.8 282.0h.8v.8h-.8zM225.3 287.8h.8v.8h-.8zM224.1 287.2h.8v.8h-.8zM226.4 286.6h.8v.8h-.8z" fill="#0a9c80" stroke="none" stroke-width="1"/>
<path d="M244.1 280.2h.7v.7h-.7zM241.4 265.6h.7v.7h-.7zM238.1 271.4h.7v.7h-.7zM244.8 273.6h.7v.7h-.7zM241.8 274.8h.7v.7h-.7zM250.4 279.0h.7v.7h-.7zM242.3 266.9h.7v.7h-.7zM245.5 273.6h.7v.7h-.7zM243.6 268.7h.7v.7h-.7zM247.5 285.9h.7v.7h-.7zM246.0 268.7h.7v.7h-.7zM244.1 285.6h.7v.7h-.7zM247.8 279.4h.7v.7h-.7zM244.1 285.4h.7v.7h-.7zM245.7 279.7h.7v.7h-.7zM243.2 273.6h.7v.7h-.7zM237.7 284.0h.7v.7h-.7zM239.0 285.8h.7v.7h-.7zM246.3 274.7h.7v.7h-.7zM238.4 265.2h.7v.7h-.7zM242.2 286.1h.7v.7h-.7zM235.9 279.5h.7v.7h-.7zM250.8 279.6h.7v.7h-.7zM250.4 276.6h.7v.7h-.7zM240.8 269.0h.7v.7h-.7zM241.4 285.8h.7v.7h-.7zM247.1 274.5h.7v.7h-.7zM241.8 285.5h.7v.7h-.7zM242.0 271.1h.7v.7h-.7zM243.8 261.2h.7v.7h-.7zM244.2 264.2h.7v.7h-.7zM246.3 269.6h.7v.7h-.7zM242.8 272.9h.7v.7h-.7zM238.4 274.7h.7v.7h-.7zM235.4 278.2h.7v.7h-.7zM250.8 274.6h.7v.7h-.7zM238.3 279.2h.7v.7h-.7zM239.3 285.6h.7v.7h-.7zM243.2 282.1h.7v.7h-.7zM237.1 275.9h.7v.7h-.7zM239.0 278.7h.7v.7h-.7zM244.0 279.3h.7v.7h-.7zM246.0 285.4h.7v.7h-.7zM236.0 282.6h.7v.7h-.7zM237.0 280.6h.7v.7h-.7zM239.0 278.9h.7v.7h-.7zM237.3 281.4h.7v.7h-.7zM240.4 268.6h.7v.7h-.7zM242.5 272.5h.7v.7h-.7zM243.9 282.8h.7v.7h-.7zM240.4 285.2h.7v.7h-.7zM251.1 280.5h.7v.7h-.7zM239.2 270.4h.7v.7h-.7zM244.1 269.5h.7v.7h-.7zM250.0 279.6h.7v.7h-.7zM250.5 284.3h.7v.7h-.7zM242.8 284.1h.7v.7h-.7zM252.0 276.9h.7v.7h-.7zM239.8 279.5h.7v.7h-.7zM244.5 270.1h.7v.7h-.7z" fill="#0a9c80" stroke="none" stroke-width="1"/>
<path d="M86.8 296.5h.8v.8h-.8zM88.5 297.9h.8v.8h-.8zM90.3 304.0h.8v.8h-.8zM88.0 301.2h.8v.8h-.8zM89.8 296.7h.8v.8h-.8zM88.9 299.3h.8v.8h-.8zM89.3 299.0h.8v.8h-.8zM88.2 300.7h.8v.8h-.8zM87.8 296.4h.8v.8h-.8zM87.4 298.8h.8v.8h-.8zM88.2 297.8h.8v.8h-.8zM90.7 294.0h.8v.8h-.8zM87.9 297.3h.8v.8h-.8zM88.7 302.8h.8v.8h-.8zM90.1 299.1h.8v.8h-.8zM87.8 297.2h.8v.8h-.8zM88.3 298.5h.8v.8h-.8zM87.7 297.5h.8v.8h-.8zM88.9 299.4h.8v.8h-.8zM87.5 300.0h.8v.8h-.8zM89.1 298.7h.8v.8h-.8zM89.3 298.3h.8v.8h-.8zM88.5 298.5h.8v.8h-.8zM91.9 299.6h.8v.8h-.8zM88.1 297.4h.8v.8h-.8zM88.4 298.5h.8v.8h-.8zM90.4 295.7h.8v.8h-.8zM91.0 298.4h.8v.8h-.8zM89.7 302.3h.8v.8h-.8zM87.2 297.2h.8v.8h-.8zM86.9 301.5h.8v.8h-.8zM87.5 299.2h.8v.8h-.8zM88.8 296.5h.8v.8h-.8zM87.6 296.4h.8v.8h-.8zM90.0 297.3h.8v.8h-.8zM88.9 295.5h.8v.8h-.8zM90.0 299.5h.8v.8h-.8zM87.6 298.1h.8v.8h-.8zM89.0 296.9h.8v.8h-.8zM92.2 299.7h.8v.8h-.8zM89.8 297.1h.8v.8h-.8zM88.5 296.6h.8v.8h-.8zM89.6 298.6h.8v.8h-.8zM88.2 299.1h.8v.8h-.8zM88.5 299.6h.8v.8h-.8zM88.6 299.2h.8v.8h-.8zM88.1 301.1h.8v.8h-.8zM87.1 298.1h.8v.8h-.8zM89.1 298.5h.8v.8h-.8zM90.2 299.4h.8v.8h-.8zM86.7 298.5h.8v.8h-.8zM88.3 301.0h.8v.8h-.8zM90.1 296.6h.8v.8h-.8zM89.0 296.7h.8v.8h-.8zM89.5 302.7h.8v.8h-.8zM89.4 296.2h.8v.8h-.8zM89.0 301.1h.8v.8h-.8zM90.8 298.8h.8v.8h-.8zM89.0 301.7h.8v.8h-.8zM89.0 298.2h.8v.8h-.8zM88.3 296.9h.8v.8h-.8zM90.1 293.3h.8v.8h-.8zM86.4 298.6h.8v.8h-.8zM86.4 301.2h.8v.8h-.8zM86.2 298.4h.8v.8h-.8zM89.1 301.5h.8v.8h-.8zM90.1 299.3h.8v.8h-.8zM89.8 301.0h.8v.8h-.8zM93.5 300.8h.8v.8h-.8zM87.8 299.4h.8v.8h-.8zM89.7 299.0h.8v.8h-.8zM85.9 296.6h.8v.8h-.8zM88.8 297.3h.8v.8h-.8zM87.1 295.7h.8v.8h-.8zM87.0 298.8h.8v.8h-.8zM87.0 297.4h.8v.8h-.8zM90.8 298.2h.8v.8h-.8zM89.4 296.4h.8v.8h-.8zM88.3 298.3h.8v.8h-.8zM89.4 299.2h.8v.8h-.8zM88.4 300.4h.8v.8h-.8zM88.3 302.0h.8v.8h-.8zM89.8 298.4h.8v.8h-.8zM87.3 294.0h.8v.8h-.8zM88.1 298.5h.8v.8h-.8zM87.2 303.7h.8v.8h-.8zM87.5 294.4h.8v.8h-.8zM90.0 298.1h.8v.8h-.8zM87.7 299.8h.8v.8h-.8zM89.0 298.6h.8v.8h-.8zM90.8 296.2h.8v.8h-.8zM85.7 299.7h.8v.8h-.8zM92.4 299.7h.8v.8h-.8zM89.8 302.6h.8v.8h-.8zM89.3 298.1h.8v.8h-.8zM93.5 293.0h.8v.8h-.8zM87.0 296.1h.8v.8h-.8zM98.9 292.4h.8v.8h-.8zM100.1 292.3h.8v.8h-.8zM95.4 297.9h.8v.8h-.8zM95.3 296.3h.8v.8h-.8zM97.5 293.2h.8v.8h-.8zM88.9 292.2h.8v.8h-.8zM98.4 292.7h.8v.8h-.8zM95.7 298.4h.8v.8h-.8zM98.0 295.4h.8v.8h-.8zM93.9 293.4h.8v.8h-.8zM96.1 295.2h.8v.8h-.8zM92.8 296.0h.8v.8h-.8zM98.5 290.0h.8v.8h-.8zM100.1 290.6h.8v.8h-.8zM93.3 293.8h.8v.8h-.8zM92.6 296.9h.8v.8h-.8zM95.1 296.2h.8v.8h-.8zM96.6 292.3h.8v.8h-.8zM95.0 296.7h.8v.8h-.8zM95.7 294.3h.8v.8h-.8zM89.7 293.6h.8v.8h-.8zM94.4 295.0h.8v.8h-.8zM93.7 295.2h.8v.8h-.8zM99.8 291.0h.8v.8h-.8zM92.4 293.2h.8v.8h-.8zM99.3 289.6h.8v.8h-.8zM95.2 292.8h.8v.8h-.8zM89.6 291.4h.8v.8h-.8zM91.4 291.6h.8v.8h-.8zM99.9 293.4h.8v.8h-.8zM98.4 293.9h.8v.8h-.8zM96.5 297.6h.8v.8h-.8zM87.6 291.2h.8v.8h-.8zM95.0 293.8h.8v.8h-.8zM87.4 293.5h.8v.8h-.8zM92.8 288.0h.8v.8h-.8zM93.4 294.4h.8v.8h-.8zM99.4 292.7h.8v.8h-.8zM97.8 292.6h.8v.8h-.8zM95.1 295.5h.8v.8h-.8zM96.1 296.6h.8v.8h-.8zM95.4 289.6h.8v.8h-.8zM96.8 297.8h.8v.8h-.8zM101.9 293.6h.8v.8h-.8zM96.6 294.8h.8v.8h-.8zM92.2 295.3h.8v.8h-.8zM91.5 292.1h.8v.8h-.8zM89.6 290.5h.8v.8h-.8zM90.3 294.8h.8v.8h-.8zM97.2 287.6h.8v.8h-.8zM90.5 297.3h.8v.8h-.8zM93.2 292.3h.8v.8h-.8zM93.4 289.9h.8v.8h-.8zM92.5 294.5h.8v.8h-.8zM94.7 295.8h.8v.8h-.8zM97.5 297.1h.8v.8h-.8zM96.6 296.1h.8v.8h-.8zM99.1 295.3h.8v.8h-.8zM99.7 291.1h.8v.8h-.8zM90.7 297.2h.8v.8h-.8zM98.3 293.6h.8v.8h-.8zM90.4 293.8h.8v.8h-.8zM97.6 294.4h.8v.8h-.8zM96.0 289.6h.8v.8h-.8zM99.3 289.7h.8v.8h-.8zM91.9 287.9h.8v.8h-.8zM91.9 295.3h.8v.8h-.8zM96.9 298.1h.8v.8h-.8z" fill="#3b4f8e" stroke="none" stroke-width="1"/>
<path d="M216.7 298.6h.8v.8h-.8zM212.8 301.0h.8v.8h-.8zM212.8 298.8h.8v.8h-.8zM213.9 296.0h.8v.8h-.8zM214.0 298.4h.8v.8h-.8zM213.6 297.1h.8v.8h-.8zM212.5 297.2h.8v.8h-.8zM213.4 297.5h.8v.8h-.8zM215.2 301.8h.8v.8h-.8zM210.7 296.3h.8v.8h-.8zM212.6 294.7h.8v.8h-.8zM215.4 297.0h.8v.8h-.8zM214.0 298.0h.8v.8h-.8zM213.5 299.7h.8v.8h-.8zM214.5 298.3h.8v.8h-.8zM215.7 297.5h.8v.8h-.8zM212.2 293.8h.8v.8h-.8zM213.7 298.6h.8v.8h-.8zM215.5 297.4h.8v.8h-.8zM215.2 301.4h.8v.8h-.8zM211.8 299.4h.8v.8h-.8zM215.9 296.5h.8v.8h-.8zM214.5 298.4h.8v.8h-.8zM211.6 295.9h.8v.8h-.8zM212.9 300.3h.8v.8h-.8zM212.7 295.6h.8v.8h-.8zM214.5 298.3h.8v.8h-.8zM213.7 299.3h.8v.8h-.8zM215.6 299.4h.8v.8h-.8zM217.6 297.4h.8v.8h-.8zM215.2 297.2h.8v.8h-.8zM213.1 302.0h.8v.8h-.8zM211.3 296.3h.8v.8h-.8zM214.0 298.0h.8v.8h-.8zM213.1 297.8h.8v.8h-.8zM216.1 296.5h.8v.8h-.8zM213.8 299.7h.8v.8h-.8zM214.0 299.0h.8v.8h-.8zM214.4 295.8h.8v.8h-.8zM217.5 299.2h.8v.8h-.8zM214.5 296.1h.8v.8h-.8zM212.9 297.8h.8v.8h-.8zM213.7 293.5h.8v.8h-.8zM212.9 298.5h.8v.8h-.8zM214.3 298.3h.8v.8h-.8zM214.6 297.9h.8v.8h-.8zM214.0 299.2h.8v.8h-.8zM215.0 302.5h.8v.8h-.8zM213.3 297.6h.8v.8h-.8zM211.4 297.6h.8v.8h-.8zM214.5 298.0h.8v.8h-.8zM215.9 297.7h.8v.8h-.8zM213.2 296.7h.8v.8h-.8zM214.0 298.1h.8v.8h-.8zM216.2 298.0h.8v.8h-.8zM214.2 296.8h.8v.8h-.8zM213.2 297.8h.8v.8h-.8zM212.0 299.0h.8v.8h-.8zM214.4 299.0h.8v.8h-.8zM212.5 297.4h.8v.8h-.8zM215.3 298.8h.8v.8h-.8zM214.7 299.6h.8v.8h-.8zM212.4 298.7h.8v.8h-.8zM211.9 298.6h.8v.8h-.8zM215.2 294.2h.8v.8h-.8zM213.5 300.2h.8v.8h-.8zM211.9 299.1h.8v.8h-.8zM217.0 298.9h.8v.8h-.8zM213.8 301.3h.8v.8h-.8zM215.3 298.9h.8v.8h-.8zM214.0 301.5h.8v.8h-.8zM213.7 295.4h.8v.8h-.8zM212.3 299.4h.8v.8h-.8zM213.5 295.5h.8v.8h-.8zM214.4 298.3h.8v.8h-.8zM214.0 299.3h.8v.8h-.8zM215.2 297.3h.8v.8h-.8zM214.6 299.9h.8v.8h-.8zM212.2 300.7h.8v.8h-.8zM214.6 295.4h.8v.8h-.8zM215.2 296.3h.8v.8h-.8zM215.0 293.4h.8v.8h-.8zM214.6 295.1h.8v.8h-.8zM213.6 300.3h.8v.8h-.8zM214.7 298.9h.8v.8h-.8zM218.1 294.8h.8v.8h-.8zM221.5 293.9h.8v.8h-.8zM214.3 295.0h.8v.8h-.8zM215.4 295.9h.8v.8h-.8zM219.4 297.9h.8v.8h-.8zM216.0 297.5h.8v.8h-.8zM218.7 294.8h.8v.8h-.8zM216.5 294.1h.8v.8h-.8zM219.5 297.5h.8v.8h-.8zM217.9 298.0h.8v.8h-.8zM220.7 294.8h.8v.8h-.8zM215.6 295.3h.8v.8h-.8zM214.1 292.9h.8v.8h-.8zM220.7 298.2h.8v.8h-.8zM217.5 298.8h.8v.8h-.8zM215.7 299.6h.8v.8h-.8zM215.8 291.2h.8v.8h-.8zM218.3 297.7h.8v.8h-.8zM217.9 297.2h.8v.8h-.8zM220.0 296.6h.8v.8h-.8zM214.0 296.1h.8v.8h-.8zM214.9 295.9h.8v.8h-.8zM217.1 293.6h.8v.8h-.8zM217.8 296.0h.8v.8h-.8zM217.5 293.1h.8v.8h-.8z" fill="#3b4f8e" stroke="none" stroke-width="1"/>
<path d="M343.0 299.1h.8v.8h-.8zM341.6 299.2h.8v.8h-.8zM341.9 298.0h.8v.8h-.8zM339.7 296.4h.8v.8h-.8zM339.4 298.0h.8v.8h-.8zM341.2 297.2h.8v.8h-.8zM342.0 299.6h.8v.8h-.8zM340.8 295.5h.8v.8h-.8zM340.5 296.9h.8v.8h-.8zM341.7 292.0h.8v.8h-.8zM340.9 296.5h.8v.8h-.8zM337.6 297.9h.8v.8h-.8zM341.8 297.4h.8v.8h-.8zM339.5 297.7h.8v.8h-.8zM339.1 296.2h.8v.8h-.8zM340.8 298.2h.8v.8h-.8zM338.2 299.9h.8v.8h-.8zM343.0 297.5h.8v.8h-.8zM339.5 297.1h.8v.8h-.8zM340.4 296.6h.8v.8h-.8zM340.6 297.3h.8v.8h-.8zM340.5 296.9h.8v.8h-.8zM340.1 298.6h.8v.8h-.8zM341.5 297.0h.8v.8h-.8zM341.4 298.2h.8v.8h-.8zM341.7 295.5h.8v.8h-.8zM339.7 294.9h.8v.8h-.8zM341.4 299.1h.8v.8h-.8zM339.4 298.1h.8v.8h-.8zM341.6 295.5h.8v.8h-.8zM339.7 297.3h.8v.8h-.8zM341.7 297.4h.8v.8h-.8zM339.5 298.7h.8v.8h-.8zM339.1 298.2h.8v.8h-.8zM340.9 298.3h.8v.8h-.8zM342.0 297.7h.8v.8h-.8zM339.6 300.2h.8v.8h-.8zM340.2 295.5h.8v.8h-.8zM341.6 296.6h.8v.8h-.8zM339.6 299.0h.8v.8h-.8zM339.8 298.0h.8v.8h-.8zM342.2 301.0h.8v.8h-.8zM339.0 298.6h.8v.8h-.8zM340.9 298.8h.8v.8h-.8zM340.0 298.3h.8v.8h-.8zM339.7 296.6h.8v.8h-.8zM341.3 297.2h.8v.8h-.8zM341.5 300.8h.8v.8h-.8zM339.5 298.5h.8v.8h-.8zM338.5 294.9h.8v.8h-.8zM341.6 298.4h.8v.8h-.8zM340.7 297.5h.8v.8h-.8zM342.7 299.1h.8v.8h-.8zM339.2 298.1h.8v.8h-.8zM342.6 298.4h.8v.8h-.8zM342.8 294.6h.8v.8h-.8zM340.1 297.5h.8v.8h-.8zM343.5 296.6h.8v.8h-.8zM341.7 294.7h.8v.8h-.8zM339.5 301.1h.8v.8h-.8zM338.9 297.9h.8v.8h-.8zM342.6 296.9h.8v.8h-.8zM340.8 298.5h.8v.8h-.8zM341.5 300.0h.8v.8h-.8zM340.3 296.7h.8v.8h-.8zM341.2 299.5h.8v.8h-.8zM344.6 297.1h.8v.8h-.8zM340.6 300.0h.8v.8h-.8zM340.2 295.8h.8v.8h-.8zM340.5 297.5h.8v.8h-.8zM338.5 294.8h.8v.8h-.8zM340.7 298.5h.8v.8h-.8zM339.7 298.6h.8v.8h-.8zM340.5 300.2h.8v.8h-.8zM339.1 300.8h.8v.8h-.8zM342.7 296.4h.8v.8h-.8zM338.2 298.4h.8v.8h-.8zM339.8 298.9h.8v.8h-.8zM340.3 298.6h.8v.8h-.8zM339.9 297.9h.8v.8h-.8zM343.1 296.5h.8v.8h-.8zM341.2 298.4h.8v.8h-.8zM342.6 295.5h.8v.8h-.8zM336.9 294.5h.8v.8h-.8zM341.3 298.0h.8v.8h-.8zM341.7 300.4h.8v.8h-.8zM339.1 293.5h.8v.8h-.8zM341.9 301.8h.8v.8h-.8zM340.8 299.3h.8v.8h-.8zM340.3 299.4h.8v.8h-.8zM341.1 297.8h.8v.8h-.8zM342.2 298.7h.8v.8h-.8zM341.5 294.6h.8v.8h-.8zM340.3 296.9h.8v.8h-.8zM341.0 299.2h.8v.8h-.8zM346.6 297.4h.8v.8h-.8zM349.5 291.7h.8v.8h-.8zM348.3 295.4h.8v.8h-.8zM340.3 291.9h.8v.8h-.8zM346.4 296.2h.8v.8h-.8zM349.9 297.8h.8v.8h-.8zM346.4 295.4h.8v.8h-.8zM346.9 294.4h.8v.8h-.8zM342.3 291.2h.8v.8h-.8zM350.7 292.3h.8v.8h-.8zM347.8 295.2h.8v.8h-.8zM342.9 293.2h.8v.8h-.8zM351.8 293.6h.8v.8h-.8zM351.9 289.8h.8v.8h-.8zM340.6 295.0h.8v.8h-.8zM349.9 290.8h.8v.8h-.8zM345.0 294.9h.8v.8h-.8zM346.8 297.9h.8v.8h-.8zM347.0 294.0h.8v.8h-.8zM351.3 292.8h.8v.8h-.8zM351.8 292.3h.8v.8h-.8zM348.5 295.3h.8v.8h-.8zM346.5 297.3h.8v.8h-.8zM350.3 293.9h.8v.8h-.8zM345.3 293.3h.8v.8h-.8zM343.6 292.4h.8v.8h-.8zM338.0 292.3h.8v.8h-.8zM352.2 293.4h.8v.8h-.8zM346.9 293.5h.8v.8h-.8zM346.7 297.8h.8v.8h-.8zM343.8 293.4h.8v.8h-.8zM349.6 292.2h.8v.8h-.8zM352.0 293.8h.8v.8h-.8zM346.5 296.1h.8v.8h-.8zM345.5 295.8h.8v.8h-.8zM343.8 297.0h.8v.8h-.8zM349.6 293.7h.8v.8h-.8zM351.4 297.1h.8v.8h-.8zM340.9 292.5h.8v.8h-.8zM349.4 297.7h.8v.8h-.8zM343.0 289.7h.8v.8h-.8zM346.4 295.3h.8v.8h-.8zM345.5 293.3h.8v.8h-.8zM347.0 296.0h.8v.8h-.8zM344.9 292.3h.8v.8h-.8zM349.4 293.6h.8v.8h-.8zM343.6 293.5h.8v.8h-.8zM348.0 292.1h.8v.8h-.8zM348.3 295.8h.8v.8h-.8zM340.8 292.5h.8v.8h-.8zM343.6 292.2h.8v.8h-.8zM349.8 294.1h.8v.8h-.8zM343.4 296.7h.8v.8h-.8zM348.7 290.6h.8v.8h-.8zM342.6 292.7h.8v.8h-.8zM348.7 295.9h.8v.8h-.8zM344.1 290.9h.8v.8h-.8zM346.7 293.8h.8v.8h-.8zM347.3 298.5h.8v.8h-.8zM346.7 295.8h.8v.8h-.8z" fill="#3b4f8e" stroke="none" stroke-width="1"/>
<path d="M99.1 303.5h.8v.8h-.8zM98.8 304.7h.8v.8h-.8zM99.7 305.5h.8v.8h-.8z" fill="#f2a085" stroke="none" stroke-width="1"/>
<path d="M225.5 302.0h.8v.8h-.8zM225.7 303.5h.8v.8h-.8zM225.9 304.7h.8v.8h-.8zM225.4 305.5h.8v.8h-.8z" fill="#f2a085" stroke="none" stroke-width="1"/>
<path d="M352.1 302.0h.8v.8h-.8zM351.3 303.5h.8v.8h-.8zM352.2 304.7h.8v.8h-.8z" fill="#f2a085" stroke="none" stroke-width="1"/>
<path d="M106.0 210.4h.7v.7h-.7zM157.4 230.3h.7v.7h-.7zM156.9 231.3h.7v.7h-.7z" fill="#7fb0d8" stroke="none" stroke-width="1"/>
<path d="M281.6 230.0h.8v.8h-.8zM282.6 231.0h.8v.8h-.8zM280.9 232.0h.8v.8h-.8zM282.1 231.5h.8v.8h-.8zM280.4 233.3h.8v.8h-.8z" fill="#8a93c0" stroke="none" stroke-width="1"/>
<path d="M408.6 230.0h.8v.8h-.8zM409.6 231.0h.8v.8h-.8zM409.1 232.0h.8v.8h-.8z" fill="#8a93c0" stroke="none" stroke-width="1"/>
<path d="M221.6 271.2h.7v.7h-.7zM225.0 269.7h.7v.7h-.7z" fill="#f2a085" stroke="none" stroke-width="1"/>
<path d="M95.0 279.0h.6v.6h-.6zM94.7 277.7h.6v.6h-.6zM95.8 282.5h.6v.6h-.6zM94.5 282.5h.6v.6h-.6zM93.6 279.2h.6v.6h-.6zM94.1 282.8h.6v.6h-.6zM94.6 280.5h.6v.6h-.6zM95.0 282.2h.6v.6h-.6zM93.9 280.5h.6v.6h-.6zM92.8 279.1h.6v.6h-.6zM94.9 281.6h.6v.6h-.6zM96.5 278.3h.6v.6h-.6zM95.3 280.5h.6v.6h-.6zM95.6 282.0h.6v.6h-.6zM95.5 279.7h.6v.6h-.6zM95.3 279.5h.6v.6h-.6zM96.7 281.9h.6v.6h-.6zM93.8 279.1h.6v.6h-.6zM93.9 283.2h.6v.6h-.6zM94.0 277.5h.6v.6h-.6zM93.2 278.5h.6v.6h-.6zM95.5 278.1h.6v.6h-.6zM95.2 279.2h.6v.6h-.6zM94.5 278.2h.6v.6h-.6zM95.2 281.5h.6v.6h-.6z" fill="#5cc0a8" stroke="none" stroke-width="1"/>
<circle cx="428.4" cy="220.8" r="3.6" fill="#f7205e" stroke="none" stroke-width="1"/>
<text x="441.2" y="224.5" font-size="10.4" text-anchor="start" fill="#000">T cells</text>
<circle cx="428.4" cy="234.3" r="3.6" fill="#4cb9d9" stroke="none" stroke-width="1"/>
<text x="441.2" y="238" font-size="10.4" text-anchor="start" fill="#000">Neutrophils</text>
<circle cx="428.4" cy="247.6" r="3.6" fill="#0a9c80" stroke="none" stroke-width="1"/>
<text x="441.2" y="251.3" font-size="10.4" text-anchor="start" fill="#000">Macrophages</text>
<circle cx="428.4" cy="261" r="3.6" fill="#3b4f8e" stroke="none" stroke-width="1"/>
<text x="441.2" y="264.7" font-size="10.4" text-anchor="start" fill="#000">Dendritic cells</text>
<circle cx="428.4" cy="274.3" r="3.6" fill="#8a93c0" stroke="none" stroke-width="1"/>
<text x="441.2" y="278" font-size="10.4" text-anchor="start" fill="#000">NK cells</text>
<circle cx="428.4" cy="287.6" r="3.6" fill="#f2a085" stroke="none" stroke-width="1"/>
<text x="441.2" y="291.3" font-size="10.4" text-anchor="start" fill="#000">B cells</text>
<rect x="586.2" y="167.2" width="54.9" height="140.9" fill="#fff" stroke="#333" stroke-width="0.9"/>
<rect x="589.8" y="169.6" width="12.8" height="51.77" fill="#f7205e" stroke="#1a1a1a" stroke-width="0.3"/>
<rect x="589.8" y="221.37" width="12.8" height="55.92" fill="#4cb9d9" stroke="#1a1a1a" stroke-width="0.3"/>
<rect x="589.8" y="277.3" width="12.8" height="26.04" fill="#0a9c80" stroke="#1a1a1a" stroke-width="0.3"/>
<rect x="589.8" y="303.33" width="12.8" height="1.78" fill="#3b4f8e" stroke="#1a1a1a" stroke-width="0.3"/>
<rect x="589.8" y="305.11" width="12.8" height="1.09" fill="#2b2f45" stroke="#1a1a1a" stroke-width="0.3"/>
<line x1="596.2" y1="308.1" x2="596.2" y2="310.2" stroke="#333" stroke-width="0.8"/>
<rect x="607.2" y="169.6" width="12.4" height="53.68" fill="#f7205e" stroke="#1a1a1a" stroke-width="0.3"/>
<rect x="607.2" y="223.28" width="12.4" height="68.71" fill="#4cb9d9" stroke="#1a1a1a" stroke-width="0.3"/>
<rect x="607.2" y="291.99" width="12.4" height="11.34" fill="#0a9c80" stroke="#1a1a1a" stroke-width="0.3"/>
<rect x="607.2" y="303.33" width="12.4" height="1.5" fill="#3b4f8e" stroke="#1a1a1a" stroke-width="0.3"/>
<rect x="607.2" y="304.83" width="12.4" height="1.37" fill="#2b2f45" stroke="#1a1a1a" stroke-width="0.3"/>
<line x1="613.4" y1="308.1" x2="613.4" y2="310.2" stroke="#333" stroke-width="0.8"/>
<rect x="624.8" y="169.6" width="12.3" height="57.78" fill="#f7205e" stroke="#1a1a1a" stroke-width="0.3"/>
<rect x="624.8" y="227.38" width="12.3" height="48.77" fill="#4cb9d9" stroke="#1a1a1a" stroke-width="0.3"/>
<rect x="624.8" y="276.15" width="12.3" height="25.95" fill="#0a9c80" stroke="#1a1a1a" stroke-width="0.3"/>
<rect x="624.8" y="302.1" width="12.3" height="2.46" fill="#3b4f8e" stroke="#1a1a1a" stroke-width="0.3"/>
<rect x="624.8" y="304.56" width="12.3" height="1.64" fill="#2b2f45" stroke="#1a1a1a" stroke-width="0.3"/>
<line x1="630.95" y1="308.1" x2="630.95" y2="310.2" stroke="#333" stroke-width="0.8"/>
<line x1="584.4" y1="169.6" x2="586.2" y2="169.6" stroke="#333" stroke-width="0.7"/>
<text x="583.6" y="171.9" font-size="6.7" text-anchor="end" fill="#4d4d4d">1.00</text>
<line x1="584.4" y1="203.75" x2="586.2" y2="203.75" stroke="#333" stroke-width="0.7"/>
<text x="583.6" y="206.05" font-size="6.7" text-anchor="end" fill="#4d4d4d">0.75</text>
<line x1="584.4" y1="237.9" x2="586.2" y2="237.9" stroke="#333" stroke-width="0.7"/>
<text x="583.6" y="240.2" font-size="6.7" text-anchor="end" fill="#4d4d4d">0.50</text>
<line x1="584.4" y1="272.05" x2="586.2" y2="272.05" stroke="#333" stroke-width="0.7"/>
<text x="583.6" y="274.35" font-size="6.7" text-anchor="end" fill="#4d4d4d">0.25</text>
<line x1="584.4" y1="306.2" x2="586.2" y2="306.2" stroke="#333" stroke-width="0.7"/>
<text x="583.6" y="308.5" font-size="6.7" text-anchor="end" fill="#4d4d4d">0.00</text>
<text x="565.6" y="236.5" font-size="8.3" text-anchor="middle" fill="#000" transform="rotate(-90 565.6 236.5)">Cell proportion</text>
<text x="595.5" y="317.6" font-size="8.3" text-anchor="end" fill="#000" transform="rotate(-45 595.5 317.6)">Con</text>
<text x="619.9" y="315.6" font-size="8.3" text-anchor="end" fill="#000" transform="rotate(-45 619.9 315.6)">MHC II<tspan dy="-2.74" font-size="5.15">-</tspan><tspan dy="2.74"> CAFs</tspan></text>
<text x="638.15" y="315" font-size="8.3" text-anchor="end" fill="#000" transform="rotate(-45 638.15 315)">apCAFs</text>
<defs><filter id="im1" x="0" y="0" width="100%" height="100%" color-interpolation-filters="sRGB"><feTurbulence type="fractalNoise" baseFrequency="0.37 0.32" numOctaves="3" seed="5"/><feColorMatrix type="matrix" values="0 0 16 0 -12.4 0 10 0 0 -6.3 6 0 0 0 -2.4 0 0 0 0 1"/><feColorMatrix type="matrix" values="1 0 0 0 0  0.25 0.8 0 0 0  0.35 0.75 0.91 0 0.06  0 0 0 0 1"/></filter><filter id="im2" x="0" y="0" width="100%" height="100%" color-interpolation-filters="sRGB"><feTurbulence type="fractalNoise" baseFrequency="0.34 0.3" numOctaves="3" seed="11"/><feColorMatrix type="matrix" values="0 0 16 0 -12.72 0 10 0 0 -7.35 6 0 0 0 -2.31 0 0 0 0 1"/><feColorMatrix type="matrix" values="1 0 0 0 0  0.25 0.8 0 0 0  0.35 0.75 0.91 0 0.06  0 0 0 0 1"/></filter><filter id="im3" x="0" y="0" width="100%" height="100%" color-interpolation-filters="sRGB"><feTurbulence type="fractalNoise" baseFrequency="0.17 0.15" numOctaves="1" seed="7"/><feColorMatrix type="matrix" values="0 0 10 0 -9.5 0 8 0 0 -7.2 12 0 0 0 -5.82 0 0 0 0 1"/><feColorMatrix type="matrix" values="1 0 0 0 0  0.25 0.95 0 0 0  0.35 0.75 1 0 0  0 0 0 0 1"/></filter><filter id="im4" x="0" y="0" width="100%" height="100%" color-interpolation-filters="sRGB"><feTurbulence type="fractalNoise" baseFrequency="0.12 0.11" numOctaves="1" seed="21"/><feColorMatrix type="matrix" values="0 0 10 0 -9.7 0 8 0 0 -7.6 12 0 0 0 -5.46 0 0 0 0 1"/><feColorMatrix type="matrix" values="1 0 0 0 0  0.25 0.95 0 0 0  0.35 0.75 1 0 0  0 0 0 0 1"/></filter><filter id="sm1" x="0" y="0" width="100%" height="100%" color-interpolation-filters="sRGB"><feTurbulence type="fractalNoise" baseFrequency="0.3 0.26" numOctaves="2" seed="31"/><feColorMatrix type="matrix" values="0 0 10 0 -9 0 10 0 0 -6.2 7 0 0 0 -2.8 0 0 0 0 1"/><feColorMatrix type="matrix" values="1 0 0 0 0  0.25 0.85 0 0 0  0.35 0.75 0.91 0 0.06  0 0 0 0 1"/></filter><filter id="sm2" x="0" y="0" width="100%" height="100%" color-interpolation-filters="sRGB"><feTurbulence type="fractalNoise" baseFrequency="0.3 0.26" numOctaves="2" seed="41"/><feColorMatrix type="matrix" values="0 0 12 0 -9.12 0 9 0 0 -7.2 7 0 0 0 -2.8 0 0 0 0 1"/><feColorMatrix type="matrix" values="1 0 0 0 0  0.25 0.85 0 0 0  0.35 0.75 0.91 0 0.06  0 0 0 0 1"/></filter><filter id="sm3" x="0" y="0" width="100%" height="100%" color-interpolation-filters="sRGB"><feTurbulence type="fractalNoise" baseFrequency="0.24 0.21" numOctaves="2" seed="51"/><feColorMatrix type="matrix" values="0 0 10 0 -9 0 9 0 0 -7.02 7 0 0 0 -2.66 0 0 0 0 1"/><feColorMatrix type="matrix" values="1 0 0 0 0  0.25 0.85 0 0 0  0.35 0.75 0.91 0 0.06  0 0 0 0 1"/></filter><filter id="sm4" x="0" y="0" width="100%" height="100%" color-interpolation-filters="sRGB"><feTurbulence type="fractalNoise" baseFrequency="0.24 0.21" numOctaves="2" seed="61"/><feColorMatrix type="matrix" values="0 0 12 0 -9.84 0 9 0 0 -7.65 7 0 0 0 -2.66 0 0 0 0 1"/><feColorMatrix type="matrix" values="1 0 0 0 0  0.25 0.85 0 0 0  0.35 0.75 0.91 0 0.06  0 0 0 0 1"/></filter><radialGradient id="rc"><stop offset="0" stop-color="#ffd0e8"/><stop offset="0.45" stop-color="#ff5aa0"/><stop offset="0.8" stop-color="#ff1020"/><stop offset="1" stop-color="#e00018" stop-opacity="0.6"/></radialGradient><radialGradient id="cc"><stop offset="0" stop-color="#1020ff"/><stop offset="0.5" stop-color="#1060f0"/><stop offset="0.85" stop-color="#20d8c0"/><stop offset="1" stop-color="#20d890" stop-opacity="0.3"/></radialGradient><filter id="bl" x="-5%" y="-5%" width="110%" height="110%"><feGaussianBlur stdDeviation="0.45"/></filter></defs>
<rect x="51.1" y="705.3" width="261.1" height="16.8" fill="#000" stroke="none" stroke-width="1"/>
<text x="80.8" y="718.1" font-size="8.8" fill="#fff">T cell: <tspan fill="#1fe01f">CD3</tspan></text>
<text x="135.2" y="718.1" font-size="8.8" fill="#fff">Cytotoxicity: <tspan fill="#ff1a1a">GZMB</tspan></text>
<text x="222.8" y="718.1" font-size="8.8" fill="#fff">Nucleus: <tspan fill="#1a2cff">DAPI</tspan></text>
<text x="41.5" y="762" font-size="8.6" text-anchor="middle" fill="#000" transform="rotate(-90 41.5 762)">High apCAFs group</text>
<text x="41.5" y="846.5" font-size="8.6" text-anchor="middle" fill="#000" transform="rotate(-90 41.5 846.5)">Low apCAFs group</text>
<rect x="51.1" y="724.2" width="136.3" height="78.9" fill="#000" stroke="none" stroke-width="1" filter="url(#im1)"/>
<rect x="51.1" y="809.3" width="136.3" height="78.7" fill="#000" stroke="none" stroke-width="1" filter="url(#im2)"/>
<rect x="191.1" y="724.4" width="79" height="78.8" fill="#02020a" stroke="none" stroke-width="1"/>
<clipPath id="cpim3"><rect x="191.1" y="724.4" width="79" height="78.8"/></clipPath>
<g clip-path="url(#cpim3)" fill="#1212ff" filter="url(#bl)"><ellipse cx="268.8" cy="746.4" rx="4.1" ry="2.4" transform="rotate(28 268.8 746.4)"/><ellipse cx="252.7" cy="780.7" rx="3.2" ry="2.8" transform="rotate(143 252.7 780.7)"/><ellipse cx="244.0" cy="731.5" rx="4.1" ry="2.6" transform="rotate(82 244.0 731.5)"/><ellipse cx="230.7" cy="748.7" rx="3.9" ry="2.4" transform="rotate(52 230.7 748.7)"/><ellipse cx="259.3" cy="800.7" rx="4.3" ry="2.5" transform="rotate(91 259.3 800.7)"/><ellipse cx="222.4" cy="805.1" rx="3.1" ry="2.0" transform="rotate(19 222.4 805.1)"/><ellipse cx="194.3" cy="789.7" rx="3.4" ry="2.6" transform="rotate(162 194.3 789.7)"/><ellipse cx="261.8" cy="734.9" rx="4.1" ry="3.0" transform="rotate(77 261.8 734.9)"/><ellipse cx="247.7" cy="768.7" rx="3.0" ry="2.6" transform="rotate(30 247.7 768.7)"/><ellipse cx="233.9" cy="795.5" rx="4.4" ry="2.3" transform="rotate(58 233.9 795.5)"/><ellipse cx="195.9" cy="800.2" rx="3.8" ry="2.8" transform="rotate(80 195.9 800.2)"/><ellipse cx="228.5" cy="804.9" rx="4.4" ry="2.7" transform="rotate(65 228.5 804.9)"/><ellipse cx="200.9" cy="789.7" rx="3.2" ry="2.2" transform="rotate(133 200.9 789.7)"/><ellipse cx="218.5" cy="801.8" rx="3.2" ry="2.6" transform="rotate(57 218.5 801.8)"/><ellipse cx="220.2" cy="786.5" rx="4.3" ry="2.2" transform="rotate(23 220.2 786.5)"/><ellipse cx="261.1" cy="742.2" rx="3.7" ry="2.6" transform="rotate(139 261.1 742.2)"/><ellipse cx="235.3" cy="801.7" rx="4.0" ry="2.1" transform="rotate(162 235.3 801.7)"/><ellipse cx="211.3" cy="787.5" rx="2.9" ry="2.2" transform="rotate(138 211.3 787.5)"/><ellipse cx="205.1" cy="772.4" rx="3.1" ry="2.1" transform="rotate(12 205.1 772.4)"/><ellipse cx="235.2" cy="768.2" rx="3.3" ry="3.0" transform="rotate(34 235.2 768.2)"/><ellipse cx="199.8" cy="776.9" rx="3.9" ry="2.3" transform="rotate(174 199.8 776.9)"/><ellipse cx="237.1" cy="745.0" rx="3.8" ry="2.6" transform="rotate(30 237.1 745.0)"/><ellipse cx="218.0" cy="761.1" rx="3.5" ry="2.5" transform="rotate(116 218.0 761.1)"/><ellipse cx="211.7" cy="774.8" rx="3.7" ry="1.9" transform="rotate(118 211.7 774.8)"/><ellipse cx="264.6" cy="724.1" rx="4.2" ry="2.7" transform="rotate(95 264.6 724.1)"/><ellipse cx="235.9" cy="779.2" rx="4.4" ry="2.6" transform="rotate(165 235.9 779.2)"/><ellipse cx="268.8" cy="771.3" rx="3.6" ry="2.5" transform="rotate(75 268.8 771.3)"/><ellipse cx="221.6" cy="738.6" rx="4.3" ry="2.4" transform="rotate(75 221.6 738.6)"/><ellipse cx="210.0" cy="734.9" rx="3.7" ry="2.7" transform="rotate(79 210.0 734.9)"/><ellipse cx="259.0" cy="766.9" rx="3.6" ry="2.6" transform="rotate(130 259.0 766.9)"/><ellipse cx="256.4" cy="726.5" rx="3.4" ry="2.3" transform="rotate(168 256.4 726.5)"/><ellipse cx="266.0" cy="730.1" rx="3.8" ry="3.0" transform="rotate(126 266.0 730.1)"/><ellipse cx="253.1" cy="791.9" rx="4.0" ry="2.6" transform="rotate(176 253.1 791.9)"/><ellipse cx="243.7" cy="755.8" rx="4.1" ry="2.9" transform="rotate(17 243.7 755.8)"/><ellipse cx="195.3" cy="729.5" rx="3.0" ry="2.4" transform="rotate(84 195.3 729.5)"/><ellipse cx="249.3" cy="762.7" rx="3.5" ry="2.2" transform="rotate(14 249.3 762.7)"/><ellipse cx="215.5" cy="738.0" rx="3.7" ry="2.2" transform="rotate(88 215.5 738.0)"/><ellipse cx="219.3" cy="724.7" rx="4.3" ry="2.1" transform="rotate(95 219.3 724.7)"/><ellipse cx="216.4" cy="770.3" rx="3.5" ry="2.1" transform="rotate(104 216.4 770.3)"/><ellipse cx="271.9" cy="784.9" rx="4.2" ry="2.5" transform="rotate(78 271.9 784.9)"/><ellipse cx="232.5" cy="738.3" rx="4.1" ry="2.0" transform="rotate(77 232.5 738.3)"/><ellipse cx="226.1" cy="764.2" rx="3.8" ry="2.7" transform="rotate(13 226.1 764.2)"/><ellipse cx="233.6" cy="761.7" rx="3.5" ry="2.8" transform="rotate(60 233.6 761.7)"/><ellipse cx="190.1" cy="744.2" rx="4.4" ry="2.8" transform="rotate(20 190.1 744.2)"/><ellipse cx="271.1" cy="790.8" rx="3.8" ry="2.6" transform="rotate(100 271.1 790.8)"/><ellipse cx="227.9" cy="784.7" rx="3.2" ry="2.3" transform="rotate(73 227.9 784.7)"/><ellipse cx="191.4" cy="761.5" rx="3.0" ry="2.9" transform="rotate(124 191.4 761.5)"/><ellipse cx="271.5" cy="730.6" rx="4.2" ry="2.6" transform="rotate(1 271.5 730.6)"/><ellipse cx="191.3" cy="766.8" rx="4.0" ry="2.6" transform="rotate(135 191.3 766.8)"/><ellipse cx="243.0" cy="792.8" rx="4.2" ry="2.1" transform="rotate(46 243.0 792.8)"/><ellipse cx="255.0" cy="757.8" rx="3.6" ry="2.5" transform="rotate(116 255.0 757.8)"/><ellipse cx="270.1" cy="756.0" rx="3.0" ry="2.1" transform="rotate(3 270.1 756.0)"/><ellipse cx="205.7" cy="752.7" rx="4.1" ry="3.0" transform="rotate(26 205.7 752.7)"/><ellipse cx="206.8" cy="803.9" rx="3.5" ry="2.0" transform="rotate(107 206.8 803.9)"/><ellipse cx="254.4" cy="735.0" rx="3.8" ry="2.7" transform="rotate(144 254.4 735.0)"/><ellipse cx="213.5" cy="758.5" rx="3.1" ry="2.2" transform="rotate(64 213.5 758.5)"/><ellipse cx="222.9" cy="773.5" rx="3.3" ry="2.1" transform="rotate(178 222.9 773.5)"/><ellipse cx="203.1" cy="781.3" rx="3.5" ry="2.0" transform="rotate(95 203.1 781.3)"/><ellipse cx="213.1" cy="742.5" rx="2.9" ry="2.2" transform="rotate(63 213.1 742.5)"/><ellipse cx="189.7" cy="732.5" rx="3.2" ry="3.0" transform="rotate(68 189.7 732.5)"/><ellipse cx="262.9" cy="753.7" rx="3.0" ry="2.7" transform="rotate(171 262.9 753.7)"/><ellipse cx="203.2" cy="799.5" rx="3.4" ry="2.0" transform="rotate(78 203.2 799.5)"/><ellipse cx="195.1" cy="750.5" rx="3.1" ry="2.2" transform="rotate(169 195.1 750.5)"/><ellipse cx="252.5" cy="749.0" rx="3.5" ry="2.7" transform="rotate(30 252.5 749.0)"/><ellipse cx="214.7" cy="793.9" rx="4.5" ry="2.1" transform="rotate(122 214.7 793.9)"/><ellipse cx="265.6" cy="765.0" rx="3.2" ry="2.4" transform="rotate(10 265.6 765.0)"/><ellipse cx="257.0" cy="795.9" rx="3.4" ry="2.4" transform="rotate(10 257.0 795.9)"/><ellipse cx="243.4" cy="786.5" rx="4.4" ry="2.3" transform="rotate(151 243.4 786.5)"/><ellipse cx="206.8" cy="794.2" rx="4.5" ry="2.3" transform="rotate(86 206.8 794.2)"/><ellipse cx="211.5" cy="728.9" rx="3.6" ry="2.8" transform="rotate(98 211.5 728.9)"/><ellipse cx="194.1" cy="778.3" rx="3.4" ry="2.2" transform="rotate(147 194.1 778.3)"/><ellipse cx="210.6" cy="747.5" rx="3.3" ry="2.7" transform="rotate(87 210.6 747.5)"/><ellipse cx="254.0" cy="800.2" rx="4.2" ry="3.0" transform="rotate(141 254.0 800.2)"/><ellipse cx="229.3" cy="759.0" rx="3.0" ry="2.0" transform="rotate(63 229.3 759.0)"/><ellipse cx="262.0" cy="786.0" rx="3.0" ry="2.8" transform="rotate(64 262.0 786.0)"/><ellipse cx="268.0" cy="799.4" rx="4.4" ry="2.9" transform="rotate(177 268.0 799.4)"/><ellipse cx="270.3" cy="762.3" rx="3.8" ry="2.1" transform="rotate(68 270.3 762.3)"/><ellipse cx="225.7" cy="729.6" rx="3.8" ry="2.3" transform="rotate(31 225.7 729.6)"/><ellipse cx="220.5" cy="744.2" rx="3.1" ry="2.6" transform="rotate(2 220.5 744.2)"/><ellipse cx="270.3" cy="723.0" rx="3.3" ry="2.7" transform="rotate(42 270.3 723.0)"/><ellipse cx="193.0" cy="795.7" rx="3.9" ry="2.3" transform="rotate(138 193.0 795.7)"/><ellipse cx="196.4" cy="722.7" rx="4.1" ry="2.8" transform="rotate(33 196.4 722.7)"/><ellipse cx="266.2" cy="782.4" rx="3.8" ry="2.0" transform="rotate(9 266.2 782.4)"/><ellipse cx="208.9" cy="763.9" rx="3.2" ry="2.3" transform="rotate(51 208.9 763.9)"/><ellipse cx="258.1" cy="776.9" rx="3.6" ry="2.7" transform="rotate(130 258.1 776.9)"/><ellipse cx="206.6" cy="730.6" rx="4.4" ry="2.2" transform="rotate(171 206.6 730.6)"/><ellipse cx="210.8" cy="781.4" rx="3.7" ry="2.4" transform="rotate(34 210.8 781.4)"/><ellipse cx="241.3" cy="805.0" rx="3.0" ry="3.0" transform="rotate(10 241.3 805.0)"/><ellipse cx="248.7" cy="798.4" rx="3.3" ry="3.0" transform="rotate(156 248.7 798.4)"/><ellipse cx="197.8" cy="763.7" rx="3.5" ry="2.4" transform="rotate(72 197.8 763.7)"/><ellipse cx="227.2" cy="790.9" rx="3.1" ry="2.7" transform="rotate(16 227.2 790.9)"/><ellipse cx="243.0" cy="774.2" rx="3.2" ry="2.9" transform="rotate(33 243.0 774.2)"/><ellipse cx="262.2" cy="748.0" rx="3.3" ry="3.0" transform="rotate(107 262.2 748.0)"/><ellipse cx="200.3" cy="758.9" rx="4.1" ry="2.7" transform="rotate(5 200.3 758.9)"/><ellipse cx="195.2" cy="770.6" rx="4.5" ry="2.5" transform="rotate(78 195.2 770.6)"/><ellipse cx="228.3" cy="771.3" rx="3.0" ry="2.3" transform="rotate(117 228.3 771.3)"/><ellipse cx="256.7" cy="784.7" rx="3.2" ry="2.8" transform="rotate(162 256.7 784.7)"/><ellipse cx="233.3" cy="727.4" rx="3.1" ry="2.5" transform="rotate(77 233.3 727.4)"/><ellipse cx="219.6" cy="780.5" rx="3.9" ry="3.0" transform="rotate(127 219.6 780.5)"/><ellipse cx="205.9" cy="788.2" rx="3.4" ry="2.0" transform="rotate(119 205.9 788.2)"/><ellipse cx="230.0" cy="722.4" rx="4.4" ry="2.1" transform="rotate(117 230.0 722.4)"/><ellipse cx="266.3" cy="804.2" rx="3.7" ry="2.7" transform="rotate(129 266.3 804.2)"/><ellipse cx="238.5" cy="754.4" rx="3.2" ry="2.9" transform="rotate(4 238.5 754.4)"/><ellipse cx="207.0" cy="743.8" rx="4.1" ry="2.0" transform="rotate(24 207.0 743.8)"/><ellipse cx="222.3" cy="755.9" rx="3.9" ry="2.2" transform="rotate(164 222.3 755.9)"/><ellipse cx="267.3" cy="776.5" rx="3.3" ry="2.3" transform="rotate(109 267.3 776.5)"/><ellipse cx="227.3" cy="739.7" rx="3.9" ry="2.2" transform="rotate(65 227.3 739.7)"/><ellipse cx="210.0" cy="798.6" rx="3.9" ry="2.6" transform="rotate(62 210.0 798.6)"/><ellipse cx="268.4" cy="734.6" rx="3.1" ry="2.5" transform="rotate(80 268.4 734.6)"/><ellipse cx="251.7" cy="786.5" rx="4.4" ry="2.1" transform="rotate(27 251.7 786.5)"/><ellipse cx="247.3" cy="803.9" rx="3.8" ry="2.1" transform="rotate(41 247.3 803.9)"/><ellipse cx="254.9" cy="771.3" rx="3.6" ry="2.5" transform="rotate(19 254.9 771.3)"/><ellipse cx="225.0" cy="748.5" rx="4.4" ry="2.4" transform="rotate(120 225.0 748.5)"/><ellipse cx="249.4" cy="727.7" rx="4.4" ry="2.6" transform="rotate(101 249.4 727.7)"/><ellipse cx="250.7" cy="755.3" rx="4.4" ry="2.1" transform="rotate(123 250.7 755.3)"/><ellipse cx="236.9" cy="731.3" rx="4.2" ry="2.8" transform="rotate(177 236.9 731.3)"/><ellipse cx="260.4" cy="772.1" rx="4.1" ry="2.8" transform="rotate(102 260.4 772.1)"/><ellipse cx="271.9" cy="802.8" rx="4.2" ry="2.7" transform="rotate(163 271.9 802.8)"/><ellipse cx="190.0" cy="805.0" rx="4.1" ry="2.4" transform="rotate(38 190.0 805.0)"/><ellipse cx="247.1" cy="747.2" rx="3.7" ry="2.9" transform="rotate(50 247.1 747.2)"/><ellipse cx="246.6" cy="781.3" rx="3.8" ry="2.8" transform="rotate(170 246.6 781.3)"/><ellipse cx="247.2" cy="737.6" rx="3.2" ry="2.8" transform="rotate(82 247.2 737.6)"/><ellipse cx="236.9" cy="722.5" rx="3.0" ry="2.7" transform="rotate(147 236.9 722.5)"/><ellipse cx="249.1" cy="732.8" rx="3.1" ry="2.2" transform="rotate(36 249.1 732.8)"/><ellipse cx="212.1" cy="804.4" rx="3.2" ry="2.1" transform="rotate(46 212.1 804.4)"/><ellipse cx="189.7" cy="738.1" rx="3.2" ry="2.5" transform="rotate(118 189.7 738.1)"/><ellipse cx="256.4" cy="744.5" rx="3.8" ry="2.4" transform="rotate(83 256.4 744.5)"/><ellipse cx="215.7" cy="732.7" rx="3.7" ry="2.2" transform="rotate(144 215.7 732.7)"/><ellipse cx="211.6" cy="768.6" rx="3.9" ry="2.6" transform="rotate(54 211.6 768.6)"/><ellipse cx="215.6" cy="784.0" rx="3.9" ry="1.9" transform="rotate(65 215.6 784.0)"/><ellipse cx="254.2" cy="764.2" rx="3.6" ry="2.2" transform="rotate(124 254.2 764.2)"/><ellipse cx="201.4" cy="804.8" rx="4.3" ry="2.5" transform="rotate(161 201.4 804.8)"/><ellipse cx="235.6" cy="774.1" rx="4.3" ry="3.0" transform="rotate(101 235.6 774.1)"/><ellipse cx="232.2" cy="743.9" rx="3.6" ry="2.6" transform="rotate(160 232.2 743.9)"/><ellipse cx="189.4" cy="780.4" rx="4.1" ry="1.9" transform="rotate(98 189.4 780.4)"/><ellipse cx="240.9" cy="781.9" rx="4.0" ry="2.3" transform="rotate(77 240.9 781.9)"/><ellipse cx="203.2" cy="737.9" rx="3.6" ry="2.0" transform="rotate(132 203.2 737.9)"/><ellipse cx="247.4" cy="789.6" rx="4.2" ry="2.1" transform="rotate(22 247.4 789.6)"/><ellipse cx="236.9" cy="785.4" rx="3.5" ry="2.9" transform="rotate(77 236.9 785.4)"/><ellipse cx="259.1" cy="790.1" rx="4.2" ry="2.5" transform="rotate(124 259.1 790.1)"/><ellipse cx="256.6" cy="752.7" rx="3.0" ry="2.1" transform="rotate(57 256.6 752.7)"/><ellipse cx="214.0" cy="764.1" rx="4.5" ry="2.8" transform="rotate(97 214.0 764.1)"/><ellipse cx="243.2" cy="761.6" rx="3.4" ry="2.8" transform="rotate(166 243.2 761.6)"/><ellipse cx="220.4" cy="792.6" rx="3.5" ry="2.4" transform="rotate(164 220.4 792.6)"/><ellipse cx="225.8" cy="734.7" rx="4.1" ry="2.9" transform="rotate(13 225.8 734.7)"/><ellipse cx="198.6" cy="795.0" rx="3.6" ry="2.2" transform="rotate(147 198.6 795.0)"/><ellipse cx="217.7" cy="775.6" rx="3.6" ry="2.2" transform="rotate(23 217.7 775.6)"/><ellipse cx="252.7" cy="723.0" rx="3.2" ry="2.3" transform="rotate(122 252.7 723.0)"/><ellipse cx="221.1" cy="767.9" rx="3.5" ry="2.8" transform="rotate(110 221.1 767.9)"/><ellipse cx="190.8" cy="772.9" rx="2.9" ry="2.6" transform="rotate(63 190.8 772.9)"/><ellipse cx="220.9" cy="731.8" rx="3.3" ry="2.1" transform="rotate(17 220.9 731.8)"/><ellipse cx="224.5" cy="723.7" rx="4.2" ry="2.2" transform="rotate(5 224.5 723.7)"/><ellipse cx="198.7" cy="784.8" rx="3.6" ry="2.3" transform="rotate(58 198.7 784.8)"/><ellipse cx="202.7" cy="724.0" rx="3.8" ry="2.5" transform="rotate(62 202.7 724.0)"/><ellipse cx="250.6" cy="775.5" rx="3.7" ry="2.8" transform="rotate(71 250.6 775.5)"/><ellipse cx="237.8" cy="792.0" rx="3.7" ry="2.7" transform="rotate(33 237.8 792.0)"/><ellipse cx="263.7" cy="796.9" rx="4.5" ry="2.7" transform="rotate(80 263.7 796.9)"/><ellipse cx="230.0" cy="799.9" rx="3.8" ry="2.9" transform="rotate(105 230.0 799.9)"/><ellipse cx="196.6" cy="745.1" rx="3.6" ry="2.7" transform="rotate(30 196.6 745.1)"/><ellipse cx="260.9" cy="729.7" rx="3.3" ry="2.0" transform="rotate(121 260.9 729.7)"/><ellipse cx="235.6" cy="750.3" rx="4.3" ry="2.2" transform="rotate(87 235.6 750.3)"/><ellipse cx="241.0" cy="727.3" rx="4.4" ry="2.1" transform="rotate(141 241.0 727.3)"/><ellipse cx="206.6" cy="777.6" rx="3.4" ry="3.0" transform="rotate(63 206.6 777.6)"/><ellipse cx="271.8" cy="779.8" rx="4.3" ry="2.0" transform="rotate(169 271.8 779.8)"/></g>
<rect x="191.1" y="809.3" width="79" height="78.7" fill="#02020a" stroke="none" stroke-width="1"/>
<clipPath id="cpim4"><rect x="191.1" y="809.3" width="79" height="78.7"/></clipPath>
<g clip-path="url(#cpim4)" fill="#1212ff" filter="url(#bl)"><ellipse cx="234.6" cy="835.9" rx="5.0" ry="4.5" transform="rotate(29 234.6 835.9)"/><ellipse cx="223.6" cy="887.8" rx="6.1" ry="3.2" transform="rotate(149 223.6 887.8)"/><ellipse cx="197.7" cy="844.1" rx="5.9" ry="3.0" transform="rotate(83 197.7 844.1)"/><ellipse cx="207.8" cy="836.2" rx="5.0" ry="3.9" transform="rotate(128 207.8 836.2)"/><ellipse cx="272.0" cy="834.5" rx="4.5" ry="3.9" transform="rotate(33 272.0 834.5)"/><ellipse cx="239.5" cy="842.0" rx="4.2" ry="3.7" transform="rotate(90 239.5 842.0)"/><ellipse cx="203.2" cy="843.2" rx="5.6" ry="4.5" transform="rotate(55 203.2 843.2)"/><ellipse cx="223.0" cy="872.9" rx="5.1" ry="3.6" transform="rotate(171 223.0 872.9)"/><ellipse cx="245.0" cy="832.0" rx="5.6" ry="3.0" transform="rotate(102 245.0 832.0)"/><ellipse cx="251.9" cy="855.9" rx="5.7" ry="3.4" transform="rotate(81 251.9 855.9)"/><ellipse cx="240.4" cy="871.6" rx="4.0" ry="3.2" transform="rotate(30 240.4 871.6)"/><ellipse cx="197.3" cy="884.8" rx="4.5" ry="4.0" transform="rotate(56 197.3 884.8)"/><ellipse cx="201.6" cy="835.5" rx="4.0" ry="3.9" transform="rotate(125 201.6 835.5)"/><ellipse cx="223.6" cy="861.5" rx="4.0" ry="3.1" transform="rotate(178 223.6 861.5)"/><ellipse cx="261.7" cy="865.1" rx="5.5" ry="4.4" transform="rotate(131 261.7 865.1)"/><ellipse cx="269.4" cy="868.0" rx="5.7" ry="3.7" transform="rotate(12 269.4 868.0)"/><ellipse cx="269.2" cy="824.3" rx="4.0" ry="3.8" transform="rotate(89 269.2 824.3)"/><ellipse cx="212.2" cy="887.7" rx="4.4" ry="3.9" transform="rotate(22 212.2 887.7)"/><ellipse cx="190.9" cy="883.7" rx="5.9" ry="3.6" transform="rotate(57 190.9 883.7)"/><ellipse cx="264.7" cy="818.5" rx="4.6" ry="3.3" transform="rotate(143 264.7 818.5)"/><ellipse cx="268.8" cy="879.2" rx="6.0" ry="2.9" transform="rotate(50 268.8 879.2)"/><ellipse cx="214.7" cy="807.9" rx="6.1" ry="4.0" transform="rotate(2 214.7 807.9)"/><ellipse cx="241.2" cy="880.3" rx="5.9" ry="4.4" transform="rotate(134 241.2 880.3)"/><ellipse cx="267.9" cy="849.9" rx="6.0" ry="4.0" transform="rotate(164 267.9 849.9)"/><ellipse cx="189.8" cy="821.7" rx="5.7" ry="3.9" transform="rotate(96 189.8 821.7)"/><ellipse cx="226.4" cy="826.4" rx="4.7" ry="2.9" transform="rotate(125 226.4 826.4)"/><ellipse cx="230.6" cy="817.8" rx="5.7" ry="4.1" transform="rotate(76 230.6 817.8)"/><ellipse cx="198.5" cy="821.0" rx="4.6" ry="3.5" transform="rotate(95 198.5 821.0)"/><ellipse cx="193.7" cy="833.9" rx="6.1" ry="4.0" transform="rotate(32 193.7 833.9)"/><ellipse cx="213.5" cy="880.6" rx="5.4" ry="3.0" transform="rotate(125 213.5 880.6)"/><ellipse cx="213.0" cy="863.0" rx="4.8" ry="3.6" transform="rotate(35 213.0 863.0)"/><ellipse cx="225.2" cy="838.6" rx="4.3" ry="4.5" transform="rotate(100 225.2 838.6)"/><ellipse cx="230.6" cy="881.3" rx="4.5" ry="2.9" transform="rotate(16 230.6 881.3)"/><ellipse cx="208.5" cy="883.5" rx="4.1" ry="3.2" transform="rotate(105 208.5 883.5)"/><ellipse cx="203.5" cy="860.9" rx="4.8" ry="3.0" transform="rotate(58 203.5 860.9)"/><ellipse cx="243.2" cy="821.1" rx="5.9" ry="3.9" transform="rotate(125 243.2 821.1)"/><ellipse cx="191.7" cy="860.1" rx="4.2" ry="3.4" transform="rotate(84 191.7 860.1)"/><ellipse cx="193.5" cy="852.7" rx="5.1" ry="3.5" transform="rotate(3 193.5 852.7)"/><ellipse cx="214.2" cy="833.8" rx="5.4" ry="4.2" transform="rotate(117 214.2 833.8)"/><ellipse cx="198.8" cy="865.4" rx="4.8" ry="3.3" transform="rotate(79 198.8 865.4)"/><ellipse cx="198.0" cy="828.0" rx="5.3" ry="3.4" transform="rotate(36 198.0 828.0)"/><ellipse cx="265.9" cy="808.0" rx="5.2" ry="4.1" transform="rotate(129 265.9 808.0)"/><ellipse cx="217.0" cy="839.7" rx="4.2" ry="4.3" transform="rotate(122 217.0 839.7)"/><ellipse cx="270.5" cy="813.3" rx="4.7" ry="3.1" transform="rotate(145 270.5 813.3)"/><ellipse cx="207.6" cy="817.9" rx="5.8" ry="3.6" transform="rotate(43 207.6 817.9)"/><ellipse cx="251.4" cy="837.6" rx="5.9" ry="3.0" transform="rotate(81 251.4 837.6)"/><ellipse cx="212.9" cy="816.1" rx="6.0" ry="4.3" transform="rotate(2 212.9 816.1)"/><ellipse cx="219.5" cy="882.0" rx="4.4" ry="3.5" transform="rotate(13 219.5 882.0)"/><ellipse cx="255.8" cy="821.8" rx="5.2" ry="3.8" transform="rotate(116 255.8 821.8)"/><ellipse cx="247.7" cy="824.6" rx="4.3" ry="2.9" transform="rotate(45 247.7 824.6)"/><ellipse cx="233.3" cy="858.3" rx="5.8" ry="4.5" transform="rotate(63 233.3 858.3)"/><ellipse cx="253.2" cy="863.1" rx="5.7" ry="4.5" transform="rotate(16 253.2 863.1)"/><ellipse cx="263.3" cy="842.4" rx="5.4" ry="3.6" transform="rotate(66 263.3 842.4)"/><ellipse cx="237.1" cy="813.0" rx="5.8" ry="4.2" transform="rotate(177 237.1 813.0)"/><ellipse cx="198.3" cy="858.8" rx="5.1" ry="4.3" transform="rotate(19 198.3 858.8)"/><ellipse cx="189.3" cy="889.7" rx="4.6" ry="3.6" transform="rotate(65 189.3 889.7)"/><ellipse cx="245.6" cy="865.7" rx="6.0" ry="3.5" transform="rotate(123 245.6 865.7)"/><ellipse cx="239.6" cy="862.2" rx="5.9" ry="4.4" transform="rotate(104 239.6 862.2)"/><ellipse cx="196.2" cy="879.3" rx="5.8" ry="3.8" transform="rotate(46 196.2 879.3)"/><ellipse cx="189.8" cy="829.2" rx="5.7" ry="4.0" transform="rotate(84 189.8 829.2)"/><ellipse cx="208.8" cy="844.3" rx="4.1" ry="4.2" transform="rotate(41 208.8 844.3)"/><ellipse cx="239.0" cy="888.1" rx="5.0" ry="4.4" transform="rotate(20 239.0 888.1)"/><ellipse cx="234.1" cy="852.0" rx="4.5" ry="4.4" transform="rotate(36 234.1 852.0)"/><ellipse cx="192.1" cy="842.4" rx="4.4" ry="4.2" transform="rotate(150 192.1 842.4)"/><ellipse cx="218.5" cy="828.0" rx="5.7" ry="4.2" transform="rotate(110 218.5 828.0)"/><ellipse cx="257.5" cy="810.6" rx="4.7" ry="3.9" transform="rotate(173 257.5 810.6)"/><ellipse cx="266.3" cy="857.5" rx="4.8" ry="3.2" transform="rotate(49 266.3 857.5)"/><ellipse cx="263.9" cy="834.8" rx="4.9" ry="3.6" transform="rotate(124 263.9 834.8)"/><ellipse cx="228.8" cy="863.3" rx="6.0" ry="3.5" transform="rotate(134 228.8 863.3)"/><ellipse cx="234.8" cy="830.4" rx="4.0" ry="3.5" transform="rotate(0 234.8 830.4)"/><ellipse cx="258.9" cy="858.1" rx="4.9" ry="4.0" transform="rotate(88 258.9 858.1)"/><ellipse cx="246.2" cy="809.0" rx="4.5" ry="3.8" transform="rotate(137 246.2 809.0)"/><ellipse cx="244.1" cy="845.7" rx="5.9" ry="3.2" transform="rotate(8 244.1 845.7)"/><ellipse cx="223.8" cy="810.2" rx="4.3" ry="3.5" transform="rotate(140 223.8 810.2)"/><ellipse cx="247.8" cy="882.5" rx="6.0" ry="4.1" transform="rotate(9 247.8 882.5)"/><ellipse cx="201.9" cy="851.6" rx="5.8" ry="4.2" transform="rotate(15 201.9 851.6)"/><ellipse cx="206.6" cy="812.2" rx="5.9" ry="3.3" transform="rotate(59 206.6 812.2)"/><ellipse cx="270.8" cy="842.3" rx="5.0" ry="3.9" transform="rotate(146 270.8 842.3)"/><ellipse cx="217.0" cy="870.4" rx="5.3" ry="4.0" transform="rotate(75 217.0 870.4)"/><ellipse cx="197.7" cy="871.5" rx="4.3" ry="4.4" transform="rotate(98 197.7 871.5)"/><ellipse cx="217.7" cy="859.6" rx="4.0" ry="3.0" transform="rotate(122 217.7 859.6)"/><ellipse cx="257.9" cy="843.3" rx="5.2" ry="3.2" transform="rotate(39 257.9 843.3)"/><ellipse cx="247.1" cy="815.6" rx="5.9" ry="3.9" transform="rotate(161 247.1 815.6)"/><ellipse cx="271.9" cy="819.2" rx="5.9" ry="4.4" transform="rotate(166 271.9 819.2)"/><ellipse cx="263.5" cy="871.9" rx="4.1" ry="3.6" transform="rotate(125 263.5 871.9)"/><ellipse cx="195.4" cy="811.1" rx="5.8" ry="3.9" transform="rotate(141 195.4 811.1)"/><ellipse cx="247.9" cy="860.1" rx="4.9" ry="3.9" transform="rotate(19 247.9 860.1)"/><ellipse cx="202.3" cy="888.0" rx="4.4" ry="3.1" transform="rotate(158 202.3 888.0)"/><ellipse cx="259.8" cy="877.9" rx="6.0" ry="3.5" transform="rotate(163 259.8 877.9)"/><ellipse cx="245.1" cy="875.8" rx="5.4" ry="3.8" transform="rotate(111 245.1 875.8)"/><ellipse cx="234.1" cy="844.8" rx="5.5" ry="3.6" transform="rotate(37 234.1 844.8)"/><ellipse cx="212.0" cy="855.4" rx="4.4" ry="3.8" transform="rotate(83 212.0 855.4)"/><ellipse cx="234.1" cy="876.1" rx="4.7" ry="2.9" transform="rotate(57 234.1 876.1)"/><ellipse cx="262.6" cy="885.9" rx="5.7" ry="3.6" transform="rotate(8 262.6 885.9)"/><ellipse cx="230.0" cy="809.3" rx="5.8" ry="3.2" transform="rotate(49 230.0 809.3)"/><ellipse cx="244.0" cy="837.3" rx="4.9" ry="2.9" transform="rotate(66 244.0 837.3)"/><ellipse cx="224.3" cy="846.5" rx="5.4" ry="3.4" transform="rotate(128 224.3 846.5)"/><ellipse cx="252.7" cy="828.4" rx="4.6" ry="3.0" transform="rotate(165 252.7 828.4)"/><ellipse cx="221.6" cy="854.5" rx="5.4" ry="4.2" transform="rotate(107 221.6 854.5)"/><ellipse cx="209.2" cy="874.9" rx="5.1" ry="3.5" transform="rotate(154 209.2 874.9)"/><ellipse cx="232.9" cy="889.5" rx="4.3" ry="3.3" transform="rotate(24 232.9 889.5)"/><ellipse cx="253.5" cy="814.9" rx="4.4" ry="3.3" transform="rotate(62 253.5 814.9)"/><ellipse cx="189.7" cy="866.4" rx="6.0" ry="4.5" transform="rotate(19 189.7 866.4)"/><ellipse cx="252.9" cy="887.4" rx="4.5" ry="3.0" transform="rotate(39 252.9 887.4)"/><ellipse cx="239.6" cy="833.2" rx="6.0" ry="4.4" transform="rotate(90 239.6 833.2)"/><ellipse cx="221.6" cy="833.7" rx="4.5" ry="4.0" transform="rotate(35 221.6 833.7)"/><ellipse cx="225.0" cy="817.6" rx="4.8" ry="3.5" transform="rotate(25 225.0 817.6)"/><ellipse cx="189.3" cy="808.5" rx="5.6" ry="3.3" transform="rotate(1 189.3 808.5)"/><ellipse cx="262.6" cy="813.1" rx="5.5" ry="3.9" transform="rotate(48 262.6 813.1)"/><ellipse cx="254.9" cy="849.6" rx="4.2" ry="4.2" transform="rotate(142 254.9 849.6)"/><ellipse cx="271.6" cy="873.8" rx="5.2" ry="3.0" transform="rotate(122 271.6 873.8)"/><ellipse cx="258.2" cy="837.3" rx="5.4" ry="4.4" transform="rotate(100 258.2 837.3)"/><ellipse cx="267.9" cy="831.0" rx="6.0" ry="3.8" transform="rotate(98 267.9 831.0)"/><ellipse cx="224.5" cy="867.3" rx="5.9" ry="4.5" transform="rotate(118 224.5 867.3)"/><ellipse cx="245.2" cy="888.9" rx="5.4" ry="3.4" transform="rotate(89 245.2 888.9)"/><ellipse cx="208.6" cy="851.0" rx="4.1" ry="3.9" transform="rotate(156 208.6 851.0)"/><ellipse cx="252.0" cy="808.0" rx="5.0" ry="4.1" transform="rotate(114 252.0 808.0)"/><ellipse cx="241.2" cy="827.7" rx="4.1" ry="3.7" transform="rotate(68 241.2 827.7)"/><ellipse cx="271.3" cy="807.4" rx="4.7" ry="4.4" transform="rotate(144 271.3 807.4)"/><ellipse cx="200.3" cy="808.1" rx="5.9" ry="3.6" transform="rotate(19 200.3 808.1)"/><ellipse cx="230.6" cy="840.6" rx="6.0" ry="3.7" transform="rotate(153 230.6 840.6)"/><ellipse cx="240.8" cy="808.9" rx="5.3" ry="3.9" transform="rotate(27 240.8 808.9)"/><ellipse cx="204.0" cy="829.5" rx="5.6" ry="4.3" transform="rotate(106 204.0 829.5)"/><ellipse cx="224.8" cy="879.3" rx="5.7" ry="3.4" transform="rotate(57 224.8 879.3)"/><ellipse cx="190.0" cy="877.6" rx="6.1" ry="3.6" transform="rotate(55 190.0 877.6)"/><ellipse cx="199.9" cy="815.0" rx="5.8" ry="4.4" transform="rotate(2 199.9 815.0)"/><ellipse cx="271.8" cy="862.3" rx="4.5" ry="4.1" transform="rotate(78 271.8 862.3)"/><ellipse cx="240.4" cy="849.9" rx="4.0" ry="4.3" transform="rotate(6 240.4 849.9)"/><ellipse cx="272.0" cy="854.0" rx="5.2" ry="2.9" transform="rotate(110 272.0 854.0)"/><ellipse cx="217.6" cy="889.4" rx="4.6" ry="4.1" transform="rotate(119 217.6 889.4)"/><ellipse cx="234.4" cy="864.3" rx="4.5" ry="3.5" transform="rotate(25 234.4 864.3)"/><ellipse cx="204.5" cy="871.7" rx="5.4" ry="3.3" transform="rotate(18 204.5 871.7)"/></g>
<rect x="273.7" y="724.4" width="38.5" height="38.1" fill="#000" stroke="none" stroke-width="1" filter="url(#sm1)"/>
<rect x="273.7" y="765.2" width="38.5" height="38.1" fill="#000" stroke="none" stroke-width="1" filter="url(#sm2)"/>
<rect x="273.7" y="809.3" width="38.5" height="37.8" fill="#000" stroke="none" stroke-width="1" filter="url(#sm3)"/>
<rect x="273.7" y="850.1" width="38.5" height="37.9" fill="#000" stroke="none" stroke-width="1" filter="url(#sm4)"/>
<ellipse cx="217.9" cy="736.01" rx="2.79" ry="2.23" fill="url(#cc)" transform="rotate(94 217.9 736.01)"/>
<ellipse cx="239.38" cy="738.82" rx="3.33" ry="2.18" fill="url(#cc)" transform="rotate(148 239.38 738.82)"/>
<ellipse cx="212.29" cy="753.76" rx="2.65" ry="1.91" fill="url(#cc)" transform="rotate(120 212.29 753.76)"/>
<ellipse cx="230.97" cy="750.03" rx="2.81" ry="2.04" fill="url(#cc)" transform="rotate(120 230.97 750.03)"/>
<ellipse cx="213.22" cy="764.97" rx="3.03" ry="2.23" fill="url(#cc)" transform="rotate(101 213.22 764.97)"/>
<ellipse cx="222.57" cy="770.58" rx="3.11" ry="1.99" fill="url(#cc)" transform="rotate(162 222.57 770.58)"/>
<ellipse cx="233.78" cy="772.45" rx="2.72" ry="2.46" fill="url(#cc)" transform="rotate(99 233.78 772.45)"/>
<ellipse cx="248.72" cy="775.25" rx="3.19" ry="2.3" fill="url(#cc)" transform="rotate(16 248.72 775.25)"/>
<ellipse cx="257.13" cy="766.84" rx="2.73" ry="2.47" fill="url(#cc)" transform="rotate(10 257.13 766.84)"/>
<ellipse cx="254.33" cy="785.53" rx="2.84" ry="1.92" fill="url(#cc)" transform="rotate(68 254.33 785.53)"/>
<ellipse cx="231.91" cy="792.07" rx="2.98" ry="2.33" fill="url(#cc)" transform="rotate(99 231.91 792.07)"/>
<ellipse cx="209.49" cy="778.05" rx="3.17" ry="2.45" fill="url(#cc)" transform="rotate(101 209.49 778.05)"/>
<ellipse cx="263.67" cy="750.03" rx="3.18" ry="2.25" fill="url(#cc)" transform="rotate(34 263.67 750.03)"/>
<ellipse cx="260.87" cy="742.55" rx="3.3" ry="1.96" fill="url(#cc)" transform="rotate(34 260.87 742.55)"/>
<ellipse cx="244.05" cy="755.63" rx="3" ry="2.05" fill="url(#cc)" transform="rotate(172 244.05 755.63)"/>
<ellipse cx="225.37" cy="759.37" rx="2.95" ry="2.28" fill="url(#cc)" transform="rotate(77 225.37 759.37)"/>
<ellipse cx="251.53" cy="779.92" rx="2.94" ry="2.4" fill="url(#cc)" transform="rotate(146 251.53 779.92)"/>
<ellipse cx="258.07" cy="778.05" rx="2.88" ry="2.25" fill="url(#cc)" transform="rotate(149 258.07 778.05)"/>
<ellipse cx="237.51" cy="783.66" rx="2.79" ry="2.1" fill="url(#cc)" transform="rotate(7 237.51 783.66)"/>
<ellipse cx="216.03" cy="760.3" rx="3.29" ry="2.49" fill="url(#cc)" transform="rotate(171 216.03 760.3)"/>
<ellipse cx="242.19" cy="744.42" rx="3.16" ry="2.32" fill="url(#cc)" transform="rotate(83 242.19 744.42)"/>
<ellipse cx="266.48" cy="739.75" rx="3.37" ry="2.44" fill="url(#cc)" transform="rotate(145 266.48 739.75)"/>
<ellipse cx="255.26" cy="752.83" rx="2.68" ry="2.29" fill="url(#cc)" transform="rotate(162 255.26 752.83)"/>
<ellipse cx="228.17" cy="742.55" rx="3.27" ry="2.24" fill="url(#cc)" transform="rotate(72 228.17 742.55)"/>
<ellipse cx="246.86" cy="729.85" rx="3.3" ry="2.7" fill="url(#rc)"/>
<ellipse cx="248.72" cy="743.49" rx="3.63" ry="2.97" fill="url(#rc)"/>
<ellipse cx="213.22" cy="748.16" rx="3.08" ry="2.52" fill="url(#rc)"/>
<ellipse cx="252.46" cy="762.17" rx="3.74" ry="3.06" fill="url(#rc)"/>
<ellipse cx="224.43" cy="783.66" rx="3.3" ry="2.7" fill="url(#rc)"/>
<ellipse cx="265.54" cy="790.76" rx="3.08" ry="2.52" fill="url(#rc)"/>
<ellipse cx="240.32" cy="798.98" rx="3.63" ry="2.97" fill="url(#rc)"/>
<circle cx="247.42" cy="729.1" r="1.6" fill="#ffe060" stroke="none" stroke-width="1" opacity="0.8"/>
<circle cx="266.1" cy="791.51" r="1.4" fill="#ff9030" stroke="none" stroke-width="1" opacity="0.8"/>
<ellipse cx="225.85" cy="852.61" rx="3.9" ry="4.3" fill="url(#rc)"/>
<circle cx="301.04" cy="767.78" r="1.5" fill="#ff1830" stroke="none" stroke-width="1"/>
<circle cx="301.98" cy="774.32" r="1.5" fill="#ff1830" stroke="none" stroke-width="1"/>
<circle cx="284.23" cy="776.56" r="1.5" fill="#ff1830" stroke="none" stroke-width="1"/>
<circle cx="302.91" cy="783.29" r="1.5" fill="#ff1830" stroke="none" stroke-width="1"/>
<circle cx="289.83" cy="793.94" r="1.5" fill="#ff1830" stroke="none" stroke-width="1"/>
<circle cx="309.45" cy="796.74" r="1.5" fill="#ff1830" stroke="none" stroke-width="1"/>
<circle cx="297.3" cy="801.41" r="1.5" fill="#ff1830" stroke="none" stroke-width="1"/>
<circle cx="290.38" cy="870.73" r="1.4" fill="#ff2060" stroke="none" stroke-width="1"/>
<circle cx="289.88" cy="830.27" r="1.2" fill="#20d0b0" stroke="none" stroke-width="1"/>
<rect x="124.1" y="754.9" width="20.4" height="21.3" fill="none" stroke="#b8b8b8" stroke-width="0.5" opacity="0.6"/>
<line x1="144.5" y1="754.9" x2="191.1" y2="724.4" stroke="#b8b8b8" stroke-width="0.5" opacity="0.6"/>
<line x1="144.5" y1="776.2" x2="191.1" y2="803.2" stroke="#b8b8b8" stroke-width="0.5" opacity="0.6"/>
<rect x="66.6" y="813.2" width="21" height="19.6" fill="none" stroke="#b8b8b8" stroke-width="0.5" opacity="0.6"/>
<line x1="87.6" y1="813.2" x2="191.1" y2="809.3" stroke="#b8b8b8" stroke-width="0.5" opacity="0.55"/>
<line x1="87.6" y1="832.8" x2="191.1" y2="884" stroke="#b8b8b8" stroke-width="0.5" opacity="0.55"/>
<text x="62.45" y="798.8" font-size="5.9" text-anchor="middle" fill="#fff" font-weight="bold">50&#956;m</text>
<line x1="55.2" y1="800.4" x2="69.7" y2="800.4" stroke="#fff" stroke-width="1.1"/>
<text x="62.45" y="883.6" font-size="5.9" text-anchor="middle" fill="#fff" font-weight="bold">50&#956;m</text>
<line x1="55.2" y1="885.2" x2="69.7" y2="885.2" stroke="#fff" stroke-width="1.1"/>
<text x="205.3" y="798.8" font-size="6.2" text-anchor="middle" fill="#fff" font-weight="bold">20&#956;m</text>
<line x1="193.8" y1="800.4" x2="216.8" y2="800.4" stroke="#fff" stroke-width="1.1"/>
<text x="205.3" y="883.6" font-size="6.2" text-anchor="middle" fill="#fff" font-weight="bold">20&#956;m</text>
<line x1="193.8" y1="885.2" x2="216.8" y2="885.2" stroke="#fff" stroke-width="1.1"/>
<text x="281.65" y="759.4" font-size="5.6" text-anchor="middle" fill="#fff" font-weight="bold">20&#956;m</text>
<line x1="276" y1="761" x2="287.3" y2="761" stroke="#fff" stroke-width="1.1"/>
<text x="281.65" y="799" font-size="5.6" text-anchor="middle" fill="#fff" font-weight="bold">20&#956;m</text>
<line x1="276" y1="800.6" x2="287.3" y2="800.6" stroke="#fff" stroke-width="1.1"/>
<text x="281.65" y="843.4" font-size="5.6" text-anchor="middle" fill="#fff" font-weight="bold">20&#956;m</text>
<line x1="276" y1="845" x2="287.3" y2="845" stroke="#fff" stroke-width="1.1"/>
<text x="281.65" y="884.4" font-size="5.6" text-anchor="middle" fill="#fff" font-weight="bold">20&#956;m</text>
<line x1="276" y1="886" x2="287.3" y2="886" stroke="#fff" stroke-width="1.1"/>
</svg>
</body></html>
